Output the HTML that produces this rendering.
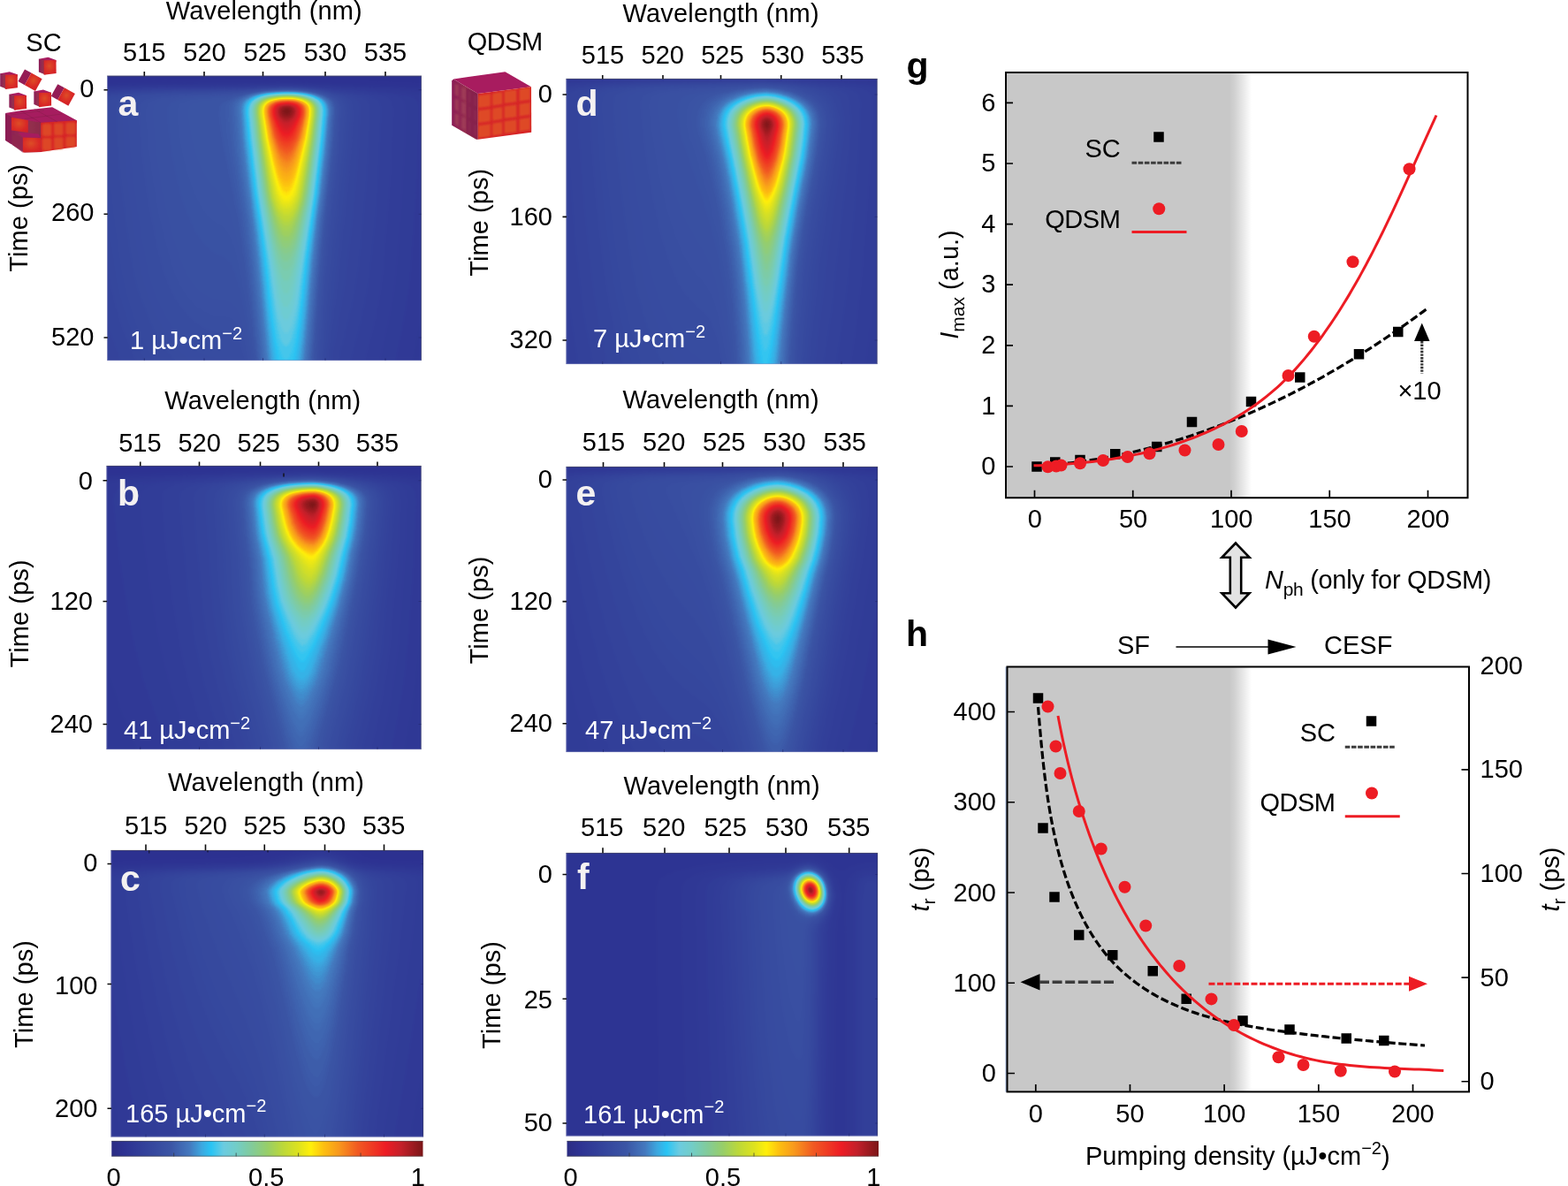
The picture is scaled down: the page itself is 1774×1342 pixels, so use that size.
<!DOCTYPE html>
<html lang="en"><head><meta charset="utf-8"><title>Figure</title>
<style>html,body{margin:0;padding:0;background:#fff}svg{display:block;font-family:"Liberation Sans",sans-serif;font-size:29px}</style></head>
<body><svg width="1774" height="1342" viewBox="0 0 1774 1342">
<defs><filter id="cm" x="0" y="0" width="1" height="1" color-interpolation-filters="sRGB"><feGaussianBlur stdDeviation="1.6"/><feComponentTransfer><feFuncR type="table" tableValues="0.169 0.17 0.171 0.173 0.174 0.175 0.177 0.18 0.183 0.186 0.189 0.192 0.195 0.198 0.201 0.204 0.207 0.21 0.213 0.216 0.219 0.222 0.225 0.227 0.23 0.234 0.239 0.244 0.248 0.253 0.257 0.262 0.267 0.261 0.254 0.248 0.242 0.236 0.22 0.202 0.184 0.167 0.192 0.241 0.289 0.337 0.385 0.421 0.427 0.434 0.44 0.446 0.454 0.464 0.473 0.482 0.491 0.501 0.51 0.524 0.537 0.551 0.565 0.578 0.592 0.614 0.636 0.658 0.679 0.701 0.723 0.745 0.766 0.787 0.808 0.829 0.85 0.872 0.898 0.924 0.95 0.976 1 0.998 0.996 0.995 0.993 0.99 0.988 0.985 0.982 0.979 0.976 0.973 0.97 0.966 0.962 0.959 0.955 0.951 0.948 0.945 0.943 0.942 0.941 0.939 0.938 0.936 0.935 0.934 0.932 0.931 0.929 0.908 0.887 0.866 0.844 0.823 0.802 0.78 0.753 0.72 0.686 0.652 0.618 0.584 0.55 0.516 0.482"/><feFuncG type="table" tableValues="0.173 0.177 0.181 0.185 0.189 0.193 0.198 0.205 0.213 0.22 0.227 0.235 0.242 0.25 0.257 0.264 0.272 0.279 0.287 0.294 0.301 0.309 0.316 0.324 0.331 0.345 0.363 0.381 0.399 0.417 0.435 0.453 0.471 0.507 0.544 0.581 0.618 0.654 0.682 0.708 0.734 0.76 0.772 0.777 0.782 0.787 0.792 0.797 0.798 0.8 0.802 0.804 0.803 0.802 0.801 0.8 0.798 0.797 0.796 0.798 0.8 0.802 0.804 0.806 0.808 0.814 0.82 0.826 0.831 0.837 0.843 0.849 0.856 0.862 0.868 0.875 0.881 0.888 0.898 0.908 0.918 0.928 0.934 0.893 0.852 0.811 0.769 0.739 0.716 0.693 0.67 0.647 0.623 0.6 0.57 0.538 0.505 0.473 0.441 0.409 0.377 0.347 0.326 0.304 0.282 0.261 0.239 0.218 0.196 0.175 0.153 0.131 0.11 0.112 0.114 0.116 0.118 0.12 0.122 0.124 0.123 0.119 0.114 0.109 0.105 0.1 0.096 0.091 0.086"/><feFuncB type="table" tableValues="0.514 0.524 0.534 0.544 0.555 0.565 0.574 0.578 0.582 0.586 0.59 0.594 0.598 0.602 0.606 0.61 0.614 0.618 0.622 0.626 0.63 0.634 0.638 0.642 0.646 0.656 0.669 0.681 0.694 0.707 0.72 0.732 0.745 0.771 0.797 0.823 0.849 0.875 0.895 0.913 0.932 0.95 0.947 0.933 0.918 0.904 0.889 0.873 0.852 0.831 0.81 0.789 0.763 0.736 0.71 0.683 0.657 0.63 0.603 0.571 0.54 0.508 0.476 0.444 0.412 0.383 0.355 0.327 0.299 0.27 0.242 0.218 0.201 0.185 0.168 0.151 0.135 0.118 0.102 0.086 0.07 0.054 0.04 0.045 0.05 0.055 0.061 0.067 0.075 0.082 0.09 0.097 0.105 0.112 0.116 0.118 0.121 0.124 0.126 0.129 0.131 0.134 0.134 0.135 0.136 0.136 0.137 0.138 0.138 0.139 0.14 0.14 0.141 0.144 0.147 0.151 0.154 0.157 0.16 0.163 0.161 0.153 0.144 0.136 0.128 0.119 0.111 0.102 0.094"/><feFuncA type="linear" slope="0" intercept="1"/></feComponentTransfer></filter>
<linearGradient id="cb"><stop offset="0" stop-color="#2b2c83"/><stop offset="0.04" stop-color="#2d3292"/><stop offset="0.19" stop-color="#3b55a5"/><stop offset="0.25" stop-color="#4478be"/><stop offset="0.29" stop-color="#3ca8e0"/><stop offset="0.32" stop-color="#29c4f4"/><stop offset="0.36" stop-color="#6bcbe0"/><stop offset="0.4" stop-color="#72cdc8"/><stop offset="0.45" stop-color="#82cb9a"/><stop offset="0.5" stop-color="#97ce69"/><stop offset="0.55" stop-color="#bcd839"/><stop offset="0.6" stop-color="#dde21f"/><stop offset="0.64" stop-color="#ffef0a"/><stop offset="0.68" stop-color="#fdc010"/><stop offset="0.73" stop-color="#f8981d"/><stop offset="0.79" stop-color="#f15a22"/><stop offset="0.88" stop-color="#ed1c24"/><stop offset="0.93" stop-color="#c4202a"/><stop offset="1" stop-color="#7b1618"/></linearGradient>
<linearGradient id="gr" gradientUnits="userSpaceOnUse" x1="1391" y1="0" x2="1416" y2="0"><stop offset="0" stop-color="#c8c8c8"/><stop offset="0.25" stop-color="#d2d2d2"/><stop offset="1" stop-color="#fff"/></linearGradient>
<radialGradient id="cf" cx="0.45" cy="0.4" r="0.75"><stop offset="0" stop-color="#dd4d28"/><stop offset="0.6" stop-color="#d92a26"/><stop offset="1" stop-color="#d01f2a"/></radialGradient>
<linearGradient id="cs" x1="0" y1="0" x2="1" y2="0"><stop offset="0" stop-color="#8a1b55"/><stop offset="0.55" stop-color="#96304f"/><stop offset="1" stop-color="#8c2a4a"/></linearGradient>
<filter id="bl" x="-20%" y="-20%" width="140%" height="140%"><feGaussianBlur stdDeviation="0.6"/></filter>
<filter id="bl2" x="-20%" y="-20%" width="140%" height="140%"><feGaussianBlur stdDeviation="1.2"/></filter>
<clipPath id="kpa"><rect x="121.25" y="85.75" width="355.5" height="322.25"/></clipPath>
<clipPath id="kpb"><rect x="120.5" y="527" width="356" height="321"/></clipPath>
<clipPath id="kpc"><rect x="125.5" y="962" width="353.5" height="324.5"/></clipPath>
<clipPath id="kpd"><rect x="640.5" y="89" width="352" height="323"/></clipPath>
<clipPath id="kpe"><rect x="640.5" y="528" width="352.5" height="323"/></clipPath>
<clipPath id="kpf"><rect x="640.5" y="965" width="352.5" height="320.5"/></clipPath></defs>
<rect width="1774" height="1342" fill="#fff"/>
<g clip-path="url(#kpa)"><g filter="url(#cm)"><rect x="113.25" y="77.75" width="371.5" height="338.25" fill="#0a0a0a"/><g transform="scale(.5)">
<path fill="#0c0c0c" d="M348 176l144-2 162 1 154 4 162 6 0 649 -744 0 0-656z"/>
<path fill="#0c0c0c" d="M344 182l132-2 184 1 190 5 120 5 0 643 -744 0 0-650z"/>
<path fill="#0e0e0e" d="M307 185l141-1 216 0 196 6 110 5 0 639 -744 0 0-647z"/>
<path fill="#0e0e0e" d="M330 188l122-2 216 0 190 7 112 6 0 635 -744 0 0-644z"/>
<path fill="#101010" d="M589 188l53-1 54 1 184 8 90 6 0 632 -744 0 0-642 158-3z"/>
<path fill="#101010" d="M500 190l128-2 52 1 198 9 92 7 0 629 -744 0 0-640 134-3z"/>
<path fill="#121212" d="M394 192l230-2 54 0 204 10 48 4 40 4 0 626 -744 0 0-639z"/>
<path fill="#121212" d="M574 192l68-2 62 2 186 11 49 5 31 4 0 534 -13 68 -1 20 -730 0 0-637 152-4z"/>
<path fill="#141414" d="M618 192l72 0 184 12 58 6 21 4 17 5 0 351 -11 110 -10 62 -14 72 0 20 -709 0 0-636 136-4 182-1z"/>
<path fill="#141414" d="M570 194l58-2 52 1 195 13 36 4 30 6 15 6 4 4 3 4 2 8 1 14 -2 98 -6 118 -10 136 -4 40 -5 42 -10 60 -14 68 0 20 -689 0 0-635 146-4z"/>
<path fill="#161616" d="M597 194l47-1 48 1 183 14 30 4 18 4 15 6 5 4 3 4 2 8 1 16 -3 100 -6 116 -10 136 -4 40 -6 42 -10 59 -14 67 -1 20 -669 0 0-634 132-4 182-1z"/>
<path fill="#161616" d="M634 194l64 1 135 11 40 4 25 4 15 4 12 6 3 4 3 4 2 10 0 16 -3 108 -7 110 -10 130 -4 40 -6 42 -11 60 -14 66 -1 20 -651 0 0-632 126-4 190-2z"/>
<path fill="#181818" d="M581 195l51-1 50 1 162 13 30 4 23 6 12 6 4 4 2 4 2 10 1 16 -4 110 -7 112 -10 128 -4 40 -7 42 -11 58 -15 65 -1 21 -633 0 0-631 130-5 180-1z"/>
<path fill="#181818" d="M597 196l47-1 48 1 146 13 27 5 16 4 13 6 4 4 3 4 2 10 0 16 -4 110 -7 112 -10 128 -5 40 -7 42 -11 58 -16 66 -1 20 -616 0 0-630 126-5 186-1z"/>
<path fill="#1a1a1a" d="M615 196l41-1 40 2 141 15 22 4 13 4 10 6 3 4 2 4 2 10 0 20 -4 114 -8 108 -10 124 -5 40 -7 42 -12 58 -17 64 -1 20 -599 0 0-629 120-5 192-2z"/>
<path fill="#1a1a1a" d="M579 197l53-1 52 1 40 3 82 10 28 4 24 6 10 6 3 4 2 4 2 10 0 20 -4 114 -8 108 -11 124 -5 40 -7 42 -13 58 -17 64 -1 20 -583 0 0-627 59-3 65-3 182-2z"/>
<path fill="#1c1c1c" d="M591 198l45-2 48 1 40 4 69 9 29 4 22 6 10 6 4 4 2 4 2 10 0 20 -5 114 -7 108 -12 124 -6 40 -7 40 -13 58 -18 66 -1 20 -567 0 0-626 54-3 64-3 78-1 112-1z"/>
<path fill="#1c1c1c" d="M601 198l47-1 44 1 38 4 52 8 34 6 14 4 11 6 4 4 3 6 1 12 0 24 -5 114 -8 106 -12 118 -7 46 -9 46 -11 46 -18 66 -1 20 -552 0 1-624 53-4 58-3 80-1 116-1z"/>
<path fill="#1e1e1e" d="M613 198l41-1 38 2 36 3 46 8 30 6 18 6 9 6 2 4 3 6 1 14 -1 30 -5 104 -8 102 -12 118 -6 40 -8 42 -30 126 -1 20 -526 0 0-14 -1-6 -9-26 -4-9 0-568 46-3 64-4 80-2 118-1z"/>
<path fill="#1e1e1e" d="M632 198l40 0 34 2 34 5 37 7 24 6 10 4 8 6 3 4 2 6 1 12 -1 28 -4 96 -9 98 -12 118 -4 38 -7 40 -30 143 0 23 -502 0 0-14 -1-6 -29-87 0-514 44-4 62-4 82-2 120-1z"/>
<path fill="#202020" d="M591 200l37-2 42 0 34 3 32 4 35 7 26 8 10 6 3 4 3 6 1 8 0 16 -3 78 -6 78 -10 104 -13 112 -30 174 -1 12 0 16 -478 0 0-14 -1-6 -13-36 -11-32 -22-77 0-454 48-5 58-4 82-2 118-1z"/>
<path fill="#202020" d="M598 200l36-2 40 1 32 2 34 5 33 8 16 6 7 4 4 4 2 4 2 6 2 20 -3 58 -3 52 -6 66 -20 188 -27 188 -1 24 -456 0 0-14 -1-6 -24-62 -10-32 -8-30 -10-44 -11-62 0-366 20-3 26-3 58-4 80-3 122-2z"/>
<path fill="#222222" d="M606 200l38-1 38 1 30 2 28 5 28 7 15 6 6 4 4 4 2 4 2 6 1 18 -1 46 -6 78 -26 248 -23 182 -1 24 -433 0 0-14 -1-6 -14-32 -11-28 -10-30 -10-31 -11-47 -8-48 -17-128 0-247 11-3 19-4 28-4 32-2 86-4 130-2z"/>
<path fill="#232323" d="M615 200l35-1 34 1 28 3 30 5 21 6 15 6 6 4 3 4 5 10 1 10 0 16 -3 50 -3 46 -29 286 -20 164 0 24 -411 0 0-14 -1-6 -15-30 -11-26 -11-28 -9-28 -12-42 -9-44 -15-112 -11-106 -7-84 0-79 5-5 5-4 14-6 20-4 32-4 86-5 144-2z"/>
<path fill="#242424" d="M626 200l36 0 28 1 30 3 26 6 19 6 12 6 7 8 3 10 1 18 -2 44 -4 56 -15 138 -15 162 -16 141 -1 17 0 18 -388 0 0-19 -17-30 -12-25 -11-26 -10-28 -13-44 -10-44 -16-112 -12-110 -5-60 -3-58 0-28 2-14 2-4 4-4 11-6 16-4 31-5 42-3 46-2 138-2z"/>
<path fill="#242424" d="M593 202l35-2 40 0 32 2 28 4 24 6 18 8 5 4 4 4 4 10 1 10 0 14 -5 82 -17 156 -30 310 0 24 -362 0 0-14 -1-4 -19-30 -12-22 -12-26 -12-28 -14-44 -11-46 -17-112 -13-110 -5-62 -3-58 -1-28 1-8 1-6 2-4 4-4 13-6 16-4 31-4 78-5 132-2z"/>
<path fill="#262626" d="M599 202l33-2 38 0 30 3 28 4 22 5 17 8 5 4 4 4 4 10 1 10 0 14 -5 82 -22 201 -24 259 -1 30 -333 0 0-14 -2-4 -20-27 -13-21 -15-26 -12-26 -16-44 -8-24 -6-24 -7-38 -10-68 -14-110 -5-58 -4-56 -1-40 1-16 5-8 10-6 13-4 28-5 40-3 40-2 130-3z"/>
<path fill="#272727" d="M604 202l34-2 36 1 32 3 26 4 20 6 15 8 7 8 3 10 1 22 -5 76 -23 216 -22 254 -1 26 -298 0 0-14 -2-4 -21-21 -16-19 -16-22 -16-28 -10-20 -10-24 -8-24 -8-26 -7-30 -11-64 -9-60 -7-56 -6-56 -4-56 -3-50 1-20 3-6 3-4 10-6 15-4 26-4 69-5 124-3z"/>
<path fill="#282828" d="M610 202l30-1 34 0 30 3 26 4 20 6 14 8 7 8 4 10 0 22 -4 70 -6 60 -12 104 -7 72 -20 240 -1 26 -198 0 -1-14 -1-2 -3-2 -8-2 -24-2 -16-3 -18-7 -18-11 -21-17 -19-22 -20-28 -16-30 -13-30 -11-33 -6-27 -11-56 -16-102 -11-98 -4-50 -2-42 1-16 4-8 9-6 11-4 19-4 19-2 65-4 110-3z"/>
<path fill="#282828" d="M616 202l32-1 32 1 26 3 24 4 18 5 14 8 7 8 3 10 1 20 -4 66 -25 237 -20 245 -1 26 -174 0 -1-14 -2-8 -8-16 -8-8 -6-3 -6-2 -30-2 -18-5 -20-9 -20-14 -18-18 -18-24 -16-27 -14-31 -9-25 -7-26 -12-57 -10-57 -13-88 -9-87 -2-63 1-10 4-8 9-6 12-4 20-4 20-2 56-4 98-2 70-7z"/>
<path fill="#2a2a2a" d="M624 202l30-1 30 2 28 3 20 4 17 6 10 6 8 8 3 10 1 20 -4 62 -5 60 -13 114 -7 64 -20 246 -1 28 -165 0 0-18 -6-21 -8-21 -4-7 -6-8 -6-4 -6-2 -34-4 -20-6 -10-5 -10-7 -10-7 -10-10 -16-19 -14-21 -12-24 -11-28 -9-30 -13-58 -10-51 -9-50 -10-83 -6-82 -1-16 1-10 2-6 6-6 7-4 13-4 32-5 55-4 91-2 66-7z"/>
<path fill="#2b2b2b" d="M641 202l29 0 26 2 20 3 20 5 15 6 9 6 6 8 3 10 0 20 -4 60 -7 78 -12 96 -8 85 -18 227 -1 26 -158 0 -1-21 -8-37 -8-26 -4-9 -6-10 -6-6 -8-5 -8-2 -24-2 -12-4 -16-7 -14-9 -14-14 -15-18 -13-22 -10-22 -10-32 -14-52 -12-50 -9-50 -8-52 -6-52 -5-56 0-30 3-10 6-6 14-6 21-4 46-4 98-4 76-8z"/>
<path fill="#2c2c2c" d="M600 204l33-2 35 0 28 2 26 5 18 5 14 7 6 5 3 4 4 10 0 20 -3 60 -8 82 -12 95 -8 85 -18 224 -1 28 -152 0 -1-22 -6-34 -6-28 -10-34 -4-9 -6-11 -6-7 -8-5 -6-2 -20-3 -12-3 -12-5 -10-6 -12-10 -10-12 -9-13 -9-15 -14-35 -16-51 -12-49 -12-54 -11-76 -7-74 -1-30 2-8 5-6 7-4 9-4 27-4 41-4 80-2z"/>
<path fill="#2c2c2c" d="M604 204l30-2 36 1 28 2 24 4 18 5 14 8 7 8 4 10 1 20 -4 60 -8 84 -11 96 -9 84 -18 225 0 25 -147 0 -1-24 -12-67 -10-44 -10-30 -8-15 -4-5 -6-5 -8-4 -28-7 -9-5 -9-6 -12-13 -11-18 -19-37 -18-49 -15-55 -13-60 -9-64 -6-62 0-14 1-8 3-6 4-4 8-4 6-2 21-5 36-3 76-3 60-9z"/>
<path fill="#2e2e2e" d="M608 204l30-2 32 1 26 2 24 4 18 5 14 8 8 8 3 10 1 20 -3 56 -5 56 -15 122 -7 72 -19 242 -1 26 -142 0 -2-25 -14-91 -12-58 -12-41 -8-18 -8-12 -8-7 -24-11 -14-10 -8-8 -8-10 -14-23 -16-36 -13-39 -12-45 -9-48 -7-52 -4-44 1-10 1-6 3-4 5-4 13-6 18-3 28-3 64-3 64-10z"/>
<path fill="#2f2f2f" d="M613 204l27-1 32 0 28 3 22 4 18 6 11 6 7 8 4 10 1 18 -4 58 -5 60 -14 118 -8 76 -18 238 -1 26 -139 0 0-18 -4-29 -16-106 -16-84 -10-39 -8-21 -10-16 -8-8 -20-13 -12-10 -12-15 -12-21 -12-27 -11-33 -9-36 -8-40 -5-42 -1-26 1-7 1-4 3-3 6-4 12-4 11-3 74-6 64-11z"/>
<path fill="#303030" d="M618 204l30-1 30 1 24 2 22 5 16 5 12 8 6 8 3 10 0 18 -3 58 -9 84 -11 94 -8 79 -18 231 -1 28 -134 0 -1-20 -4-31 -20-143 -12-73 -14-63 -8-25 -12-26 -10-14 -26-31 -10-16 -7-14 -8-20 -7-23 -6-25 -5-28 -2-24 1-12 1-4 3-4 8-6 10-2 12-2 44-6 68-14 24-3z"/>
<path fill="#303030" d="M624 204l28-1 28 1 24 3 20 4 16 6 10 7 7 8 3 10 0 20 -4 58 -11 108 -9 70 -8 83 -17 229 -1 24 -131 0 -1-18 -2-19 -22-173 -10-68 -12-67 -10-40 -12-43 -12-36 -25-64 -7-24 -4-20 0-10 2-8 7-6 9-4 46-14 32-8 32-6z"/>
<path fill="#323232" d="M632 204l28 0 24 1 24 3 18 4 14 5 9 7 6 8 3 10 1 18 -4 56 -12 116 -8 66 -8 90 -18 222 -1 24 -127 0 -1-20 -6-53 -18-149 -8-59 -10-64 -30-149 -9-54 -3-26 1-14 3-8 3-4 6-4 11-6 11-4 29-8 34-6z"/>
<path fill="#333333" d="M602 206l30-2 34 0 28 2 22 4 18 6 11 6 8 8 3 6 1 6 1 18 -4 58 -12 118 -8 59 -8 79 -18 234 -1 26 -124 0 -1-18 -2-19 -24-211 -13-96 -27-156 -5-34 -3-50 1-10 4-6 6-6 11-6 17-6 16-4z"/>
<path fill="#343434" d="M605 206l29-2 34 0 26 3 22 3 17 6 11 6 8 8 3 6 1 6 0 18 -3 56 -12 114 -8 70 -9 81 -17 229 -1 24 -121 0 -3-36 -24-219 -12-89 -16-100 -8-54 -4-34 -4-52 2-10 2-6 6-6 10-6 16-6 15-4 19-4z"/>
<path fill="#343434" d="M608 206l28-2 32 1 26 2 22 4 16 5 13 8 7 8 3 10 0 18 -3 56 -12 118 -8 64 -9 90 -18 222 -1 24 -118 0 -1-32 -23-210 -12-95 -15-95 -9-66 -4-34 -3-52 1-8 3-8 5-6 9-6 13-6 17-4 19-4z"/>
<path fill="#363636" d="M612 206l26-2 32 1 24 2 22 4 16 6 12 7 7 8 3 10 0 18 -3 54 -8 74 -13 109 -8 79 -18 232 -1 26 -115 0 -2-30 -22-214 -12-97 -9-57 -13-98 -4-36 -3-54 1-8 3-8 6-6 11-6 12-5 16-4 18-3z"/>
<path fill="#373737" d="M615 205l27 0 30 0 24 3 20 4 16 5 11 7 7 8 3 10 0 18 -3 56 -13 118 -8 66 -9 85 -17 225 -1 24 -112 0 -2-26 -22-219 -11-97 -9-58 -13-90 -4-38 -3-58 1-10 3-6 6-6 10-6 14-6 16-4 20-3z"/>
<path fill="#383838" d="M619 206l27-1 28 1 24 2 18 4 16 6 10 6 7 8 3 10 0 18 -3 54 -13 124 -8 60 -8 86 -18 226 -1 24 -110 0 -1-24 -22-220 -11-96 -9-60 -13-92 -3-38 -4-56 1-9 4-7 5-6 10-6 14-6 16-4 20-3z"/>
<path fill="#383838" d="M624 206l28-1 26 1 22 3 18 4 14 5 11 8 6 8 2 10 0 20 -5 74 -11 98 -8 64 -10 98 -17 212 -1 24 -106 0 -1-24 -22-218 -11-98 -9-60 -12-92 -4-38 -3-56 1-8 3-8 5-6 10-6 14-6 16-4 22-3z"/>
<path fill="#3a3a3a" d="M629 206l27-1 24 2 20 2 19 5 13 5 10 7 6 8 2 10 0 20 -5 70 -11 106 -8 58 -10 96 -17 216 -1 24 -104 0 -1-27 -23-230 -9-84 -9-59 -13-96 -3-32 -3-50 0-14 4-10 5-6 6-4 9-4 11-4 28-6z"/>
<path fill="#3b3b3b" d="M639 206l25 0 22 1 20 4 16 4 12 5 8 7 5 7 3 10 -1 20 -5 74 -11 100 -8 62 -10 100 -17 210 -1 24 -101 0 -2-25 -22-228 -10-85 -13-92 -10-88 -4-52 0-16 2-12 5-8 5-4 7-5 22-7 30-5z"/>
<path fill="#3c3c3c" d="M606 208l26-2 32 0 26 2 20 4 16 5 12 7 7 8 3 10 1 18 -4 54 -12 114 -9 68 -9 94 -18 222 -1 22 -99 0 -1-24 -21-224 -11-86 -9-62 -12-94 -3-38 -4-56 1-10 2-6 5-6 8-6 8-5 14-4z"/>
<path fill="#3c3c3c" d="M609 208l25-2 32 0 24 2 20 4 16 5 11 7 7 8 4 9 0 19 -4 56 -12 118 -8 62 -10 86 -18 228 -1 24 -97 0 -1-24 -21-219 -10-93 -9-58 -12-94 -4-38 -3-58 1-10 2-6 4-6 8-6 9-5 14-4z"/>
<path fill="#3e3e3e" d="M612 208l26-2 30 1 24 2 20 4 16 6 10 7 6 8 3 10 0 18 -6 74 -11 106 -8 56 -10 98 -18 216 -1 22 -93 0 -1-25 -21-212 -11-101 -9-60 -11-88 -4-40 -4-58 1-8 2-8 5-6 8-6 9-5 14-4 14-3z"/>
<path fill="#3f3f3f" d="M614 208l26-2 28 1 24 2 20 4 14 5 12 8 6 8 2 10 0 20 -6 78 -11 98 -8 60 -10 100 -18 212 -1 22 -91 0 -1-22 -21-218 -11-95 -8-61 -12-96 -4-36 -3-56 1-10 2-6 4-6 8-6 10-5 14-4 16-3z"/>
<path fill="#404040" d="M617 208l25-1 28 0 24 3 18 4 14 5 11 7 6 8 3 10 -1 20 -6 74 -11 104 -8 56 -10 98 -18 216 -1 22 -88 0 -2-22 -21-221 -10-93 -9-56 -11-96 -4-38 -4-58 1-10 2-6 4-6 8-6 11-6 14-4 18-3z"/>
<path fill="#404040" d="M620 208l26-1 28 1 22 2 16 4 14 5 10 7 6 8 3 10 0 20 -7 80 -11 98 -7 58 -11 100 -18 212 -1 22 -86 0 -1-22 -21-214 -11-102 -9-58 -11-88 -4-42 -4-58 1-8 2-8 5-6 8-6 11-6 14-4 18-3z"/>
<path fill="#424242" d="M624 208l24-1 26 1 20 2 18 4 14 6 9 6 6 8 3 10 0 18 -4 54 -13 120 -8 62 -10 92 -19 222 -1 22 -84 0 -1-22 -22-225 -10-89 -10-72 -13-106 -5-68 1-13 4-7 3-4 6-6 16-6 22-6z"/>
<path fill="#424242" d="M628 208l24-1 24 1 20 3 16 3 13 6 9 6 7 8 2 10 0 18 -4 54 -13 122 -8 58 -10 89 -19 227 -2 22 -80 0 -2-22 -22-228 -10-91 -9-61 -14-118 -5-64 2-13 4-7 10-8 17-7 22-5z"/>
<path fill="#444444" d="M634 208l24 0 22 1 20 3 16 4 12 6 8 6 5 8 2 10 0 18 -7 82 -11 92 -8 60 -11 98 -9 116 -10 100 -1 22 -78 0 -1-22 -23-228 -10-86 -10-72 -14-118 -3-58 1-12 4-8 10-8 9-5 9-3 24-4z"/>
<path fill="#444444" d="M608 210l24-2 30 0 24 2 20 3 16 6 11 7 6 8 3 10 0 18 -4 54 -13 120 -9 61 -10 89 -11 132 -9 95 -1 21 -76 0 -1-22 -10-100 -12-120 -11-94 -8-56 -11-92 -5-42 -3-56 0-10 2-6 3-6 7-6 7-4 11-5 14-3z"/>
<path fill="#464646" d="M610 210l24-2 30 0 24 2 18 4 14 4 12 8 6 8 3 10 0 18 -4 54 -13 122 -8 58 -11 94 -11 128 -9 96 -1 20 -73-1 -2-19 -10-98 -11-120 -12-97 -8-59 -11-86 -5-46 -3-56 0-10 2-6 3-6 7-6 7-5 12-4 14-3z"/>
<path fill="#464646" d="M612 210l24-2 28 0 24 2 18 4 14 5 11 7 7 7 3 11 0 16 -4 54 -14 124 -8 60 -11 90 -11 130 -9 96 -2 20 -70 0 -1-20 -11-100 -11-122 -12-94 -8-56 -11-92 -5-42 -4-56 1-10 2-6 3-6 7-6 8-5 12-4 14-3z"/>
<path fill="#484848" d="M614 210l24-2 28 1 22 2 18 3 15 6 10 6 6 8 3 10 0 18 -4 54 -14 124 -8 55 -10 93 -12 130 -10 96 -1 20 -68 0 -1-20 -10-96 -13-136 -11-84 -9-60 -14-118 -5-66 1-13 3-7 6-9 6-3 8-4 18-5z"/>
<path fill="#484848" d="M616 210l24-2 26 1 22 2 18 4 14 5 10 6 6 8 3 10 0 18 -4 54 -13 124 -9 58 -10 92 -12 130 -10 94 -1 20 -65 0 -2-20 -10-96 -13-128 -11-94 -9-62 -14-120 -5-60 1-12 3-8 6-8 13-8 18-5z"/>
<path fill="#4a4a4a" d="M619 210l23-2 26 1 22 2 18 4 14 6 9 7 6 8 2 10 0 16 -5 56 -13 120 -8 60 -11 90 -11 120 -11 106 -1 20 -63 0 -1-20 -11-96 -13-134 -11-86 -9-60 -15-126 -4-60 1-12 4-8 8-8 12-6 19-6z"/>
<path fill="#4a4a4a" d="M621 210l23-1 26 0 23 3 16 4 13 5 9 7 5 8 2 10 0 16 -4 56 -14 122 -8 56 -11 92 -11 122 -12 104 -1 20 -59 0 -2-20 -12-108 -12-116 -11-94 -9-60 -15-126 -4-58 1-12 4-8 8-8 14-7 18-5z"/>
<path fill="#4d4d4d" d="M624 210l24-1 25 1 19 2 16 4 14 6 8 6 6 8 2 10 0 16 -5 56 -14 122 -8 58 -11 88 -12 129 -11 99 -1 20 -57 0 -1-20 -13-106 -12-122 -11-88 -9-60 -15-132 -4-56 1-10 3-8 9-8 13-7 20-5z"/>
<path fill="#505050" d="M646 210l22 0 18 2 16 3 12 4 10 6 7 7 4 8 1 8 0 14 -4 46 -6 56 -9 78 -8 56 -11 86 -14 134 -6 50 -6 48 -2 18 -45 0 -2-18 -13-96 -14-138 -11-86 -9-56 -9-74 -6-54 -4-54 0-14 2-8 6-8 8-6 13-6 16-3 20-3z"/>
<path fill="#545454" d="M617 212l23-2 26 1 20 2 18 4 13 5 9 6 5 8 3 10 0 16 -5 50 -14 126 -9 57 -12 93 -16 147 -6 40 -7 41 -3 18 -29 0 -3-18 -8-44 -8-52 -14-130 -12-94 -9-52 -9-80 -6-52 -5-50 0-14 1-8 3-6 4-6 9-6 10-4 14-4z"/>
<path fill="#575757" d="M624 212l24-1 24 1 18 2 16 4 12 6 8 6 4 8 2 10 0 14 -5 50 -14 122 -22 154 -11 102 -6 41 -8 44 -6 21 -4 10 -4 6 -4 3 -2 0 -2-1 -4-4 -4-9 -4-11 -6-25 -6-35 -5-40 -12-104 -13-90 -9-60 -15-122 -5-58 0-10 2-8 3-6 6-6 8-5 12-4 16-4z"/>
<path fill="#5b5b5b" d="M636 212l22 0 20 1 16 3 14 4 11 6 6 6 4 8 1 10 -4 62 -15 126 -23 152 -15 122 -7 32 -6 22 -6 13 -4 4 -4 0 -4-2 -2-2 -6-13 -6-23 -6-37 -15-116 -24-154 -15-124 -5-58 1-10 2-8 4-6 8-6 10-5 14-4 16-2z"/>
<path fill="#5e5e5e" d="M617 214l21-2 26 0 20 2 16 4 14 5 8 7 5 8 2 10 -1 14 -4 50 -15 128 -25 156 -12 92 -6 27 -6 22 -6 12 -2 3 -4 2 -4-1 -2-1 -5-11 -7-19 -6-30 -14-102 -24-150 -15-124 -5-56 0-12 1-8 2-6 6-7 5-4 10-4 12-3z"/>
<path fill="#626262" d="M623 214l19-2 24 1 18 2 16 4 12 5 8 6 5 8 2 10 0 14 -5 50 -16 130 -26 158 -10 62 -4 26 -6 20 -6 12 -2 3 -4 2 -4-1 -2-1 -6-11 -5-18 -5-22 -11-74 -26-154 -16-130 -5-56 -1-10 2-8 2-6 6-6 7-5 10-4 14-3z"/>
<path fill="#666666" d="M631 214l21-1 20 1 16 2 14 4 11 6 7 6 4 8 1 8 0 14 -5 50 -18 144 -38 206 -4 16 -4 10 -4 6 -4 3 -4-1 -4-4 -4-9 -4-14 -23-125 -18-104 -16-126 -6-58 0-10 2-8 4-7 7-5 8-5 12-3 12-3z"/>
<path fill="#696969" d="M616 216l18-2 24 0 20 1 16 4 14 5 8 6 6 8 2 8 0 16 -5 50 -19 146 -20 101 -16 74 -8 24 -4 7 -4 2 -4-1 -4-4 -6-16 -8-32 -16-77 -17-96 -16-126 -6-54 1-18 2-6 5-6 5-4 8-5 10-3z"/>
<path fill="#6d6d6d" d="M621 216l19-2 22 1 18 1 16 4 12 5 9 7 4 8 1 7 0 15 -5 50 -16 124 -4 24 -17 84 -12 50 -10 31 -4 7 -2 3 -4 2 -4-1 -2-2 -4-6 -4-9 -10-35 -12-53 -17-91 -17-128 -5-52 1-18 2-6 4-6 6-5 10-4 12-3z"/>
<path fill="#707070" d="M627 216l19-1 20 0 16 2 14 4 12 5 7 6 5 8 1 8 0 14 -6 50 -16 124 -4 24 -17 79 -10 38 -6 17 -4 8 -4 6 -6 4 -4-1 -2-1 -4-5 -4-8 -6-16 -10-37 -17-80 -5-28 -15-120 -6-58 -1-10 2-8 3-6 5-6 8-4 11-4z"/>
<path fill="#747474" d="M635 216l19-1 18 1 16 3 12 4 9 5 6 6 3 6 2 10 -1 12 -5 52 -17 122 -4 26 -15 63 -9 36 -7 16 -4 7 -4 5 -6 3 -6-1 -4-5 -4-7 -6-14 -10-35 -14-66 -5-28 -17-122 -6-58 0-10 1-6 3-6 7-6 7-5 12-4 14-2z"/>
<path fill="#777777" d="M619 218l17-2 22 0 18 2 14 2 10 4 10 6 6 8 2 8 0 16 -6 50 -16 122 -5 24 -15 62 -7 27 -7 15 -4 7 -4 4 -6 3 -6-2 -4-4 -4-6 -6-14 -8-26 -15-62 -5-28 -16-118 -6-56 -1-10 1-8 3-6 3-4 5-4 7-5 10-3z"/>
<path fill="#7b7b7b" d="M624 218l18-2 20 1 16 1 14 4 10 4 8 6 5 8 2 8 -1 14 -5 50 -17 122 -5 24 -15 57 -8 24 -8 16 -4 4 -6 2 -6-1 -4-4 -8-14 -8-24 -15-58 -5-26 -17-120 -6-54 0-10 1-8 2-6 3-4 7-6 8-3 12-3z"/>
<path fill="#7e7e7e" d="M629 218l19-1 18 1 16 2 12 3 10 5 7 6 3 6 1 8 0 14 -6 50 -17 120 -4 24 -16 54 -6 17 -8 15 -4 4 -6 2 -6-2 -4-3 -8-14 -8-23 -13-48 -5-24 -17-120 -6-56 0-10 1-8 3-6 4-4 7-5 10-3z"/>
<path fill="#828282" d="M638 218l18-1 16 2 14 2 10 4 9 5 5 5 3 7 1 7 0 13 -6 50 -18 120 -4 22 -10 32 -12 33 -4 8 -4 5 -4 2 -4 2 -6-2 -4-4 -8-13 -12-35 -8-28 -4-22 -17-118 -7-60 0-10 2-6 5-6 5-4 8-4 10-3z"/>
<path fill="#858585" d="M622 220l16-2 20 0 16 2 14 3 10 3 8 6 4 6 3 8 -1 16 -6 48 -22 140 -8 28 -12 30 -4 7 -4 5 -4 3 -4 1 -4-1 -4-2 -4-5 -4-7 -12-30 -7-25 -5-22 -18-118 -6-54 -1-10 1-8 3-6 3-4 6-4 6-4z"/>
<path fill="#898989" d="M626 220l16-2 20 1 14 1 13 4 10 4 7 6 4 6 2 8 -1 14 -6 50 -19 116 -4 21 -8 26 -10 22 -8 12 -4 2 -4 1 -4 0 -4-3 -4-4 -4-7 -10-22 -8-25 -4-21 -18-116 -7-54 0-10 1-8 2-6 4-4 6-4 8-4z"/>
<path fill="#8d8d8d" d="M631 220l15-1 18 0 14 2 12 4 8 3 7 6 4 6 1 7 0 15 -7 50 -19 115 -4 20 -7 23 -9 18 -8 10 -4 3 -4 1 -4-1 -4-2 -8-10 -8-17 -8-23 -4-21 -18-114 -8-56 0-10 1-6 3-6 4-4 5-4 9-4 10-3z"/>
<path fill="#909090" d="M639 220l17-1 14 2 12 2 10 3 8 5 5 5 3 6 1 8 -1 12 -6 50 -20 114 -3 19 -7 19 -8 16 -8 9 -4 2 -4 1 -4-1 -3-2 -9-9 -8-15 -6-18 -4-21 -19-112 -8-60 1-8 1-6 4-6 5-4 8-4 8-3 12-2z"/>
<path fill="#949494" d="M624 222l16-2 18 0 16 2 12 3 10 4 6 5 4 6 2 8 -1 14 -7 50 -16 91 -8 40 -6 18 -6 11 -8 9 -4 2 -4 1 -4-1 -4-2 -8-8 -6-12 -6-17 -8-40 -15-90 -8-54 0-16 3-6 3-4 4-4 7-4z"/>
<path fill="#979797" d="M628 222l14-2 18 1 14 1 12 3 10 5 5 4 4 6 1 8 0 14 -7 50 -17 90 -7 38 -6 16 -7 11 -6 6 -4 2 -4 1 -4-1 -4-1 -6-6 -6-10 -6-17 -8-38 -16-89 -8-56 1-14 2-6 3-4 5-4 7-4z"/>
<path fill="#9b9b9b" d="M633 222l29-1 14 2 10 3 8 4 6 5 3 5 2 8 0 14 -8 50 -17 89 -7 35 -5 13 -6 11 -6 6 -4 2 -4 1 -4-1 -4-2 -6-6 -5-10 -5-12 -8-36 -16-88 -8-58 0-8 1-6 3-6 4-4 12-7z"/>
<path fill="#9e9e9e" d="M641 221l27 2 10 1 10 4 7 4 5 5 3 5 1 8 -1 14 -7 48 -16 77 -8 39 -4 14 -6 10 -6 6 -4 2 -4 1 -4 0 -4-2 -6-7 -4-8 -5-14 -9-40 -15-76 -8-60 0-8 2-7 2-3 5-5 7-3 9-4z"/>
<path fill="#a2a2a2" d="M626 224l12-2 16 0 14 1 12 3 10 3 6 5 5 6 2 6 -1 16 -7 48 -21 95 -6 23 -5 14 -7 8 -6 3 -6 0 -4-2 -2-3 -6-9 -4-13 -10-38 -15-72 -8-56 -1-14 2-6 3-4 4-4 5-4 8-2z"/>
<path fill="#a5a5a5" d="M630 224l12-1 16 0 12 1 12 3 8 3 7 6 3 6 2 6 -1 14 -8 50 -21 90 -6 20 -6 14 -6 7 -6 2 -6-2 -6-7 -4-8 -6-19 -10-40 -11-55 -9-56 0-14 1-4 3-5 5-4 7-3z"/>
<path fill="#a9a9a9" d="M635 224l27 0 10 1 10 3 9 4 5 4 3 6 1 6 0 14 -8 48 -20 81 -6 20 -6 14 -6 8 -6 2 -6-2 -4-5 -6-12 -6-18 -8-30 -12-54 -9-58 0-8 1-6 2-4 4-4 6-4 6-3z"/>
<path fill="#acacac" d="M644 224l24 1 17 5 7 3 4 5 2 6 1 6 -1 14 -8 46 -18 71 -6 19 -6 13 -6 8 -6 2 -6-2 -6-8 -6-13 -6-19 -17-69 -8-48 -1-12 0-6 2-6 3-5 5-3 8-4 8-2z"/>
<path fill="#b0b0b0" d="M628 226l12-2 14 0 14 1 10 3 10 4 5 4 4 6 1 6 -1 14 -9 47 -16 62 -6 18 -6 13 -6 8 -6 2 -6-2 -6-8 -4-8 -6-17 -16-63 -10-54 0-14 3-8 4-4 5-4z"/>
<path fill="#b3b3b3" d="M632 226l12-1 14 0 10 1 10 2 8 4 5 4 4 6 2 6 -1 14 -9 46 -15 54 -6 17 -6 13 -6 7 -6 2 -6-2 -4-4 -6-11 -6-16 -15-56 -10-54 0-14 2-4 3-4 9-6z"/>
<path fill="#b7b7b7" d="M637 226l23 0 10 1 10 3 7 4 5 4 2 4 1 6 0 14 -9 44 -14 48 -6 16 -6 12 -6 7 -6 2 -6-2 -4-5 -6-10 -6-15 -14-48 -10-55 1-12 1-5 4-4 5-3 7-3z"/>
<path fill="#bbbbbb" d="M627 228l11-2 14 0 12 1 10 2 8 3 6 4 4 4 2 6 -1 16 -8 40 -11 37 -6 17 -6 13 -6 8 -6 4 -6-1 -6-5 -4-6 -6-13 -14-44 -10-50 -1-14 1-6 2-4 4-4 5-2z"/>
<path fill="#bebebe" d="M631 228l23-2 12 1 8 2 7 3 6 4 3 4 2 6 1 8 -1 10 -9 42 -5 14 -8 23 -6 14 -6 9 -4 4 -3 1 -7 0 -6-5 -4-6 -6-13 -12-35 -11-52 0-14 4-8 8-6z"/>
<path fill="#c2c2c2" d="M635 228l23-1 10 2 8 2 6 3 5 4 3 4 1 6 -1 16 -9 42 -5 14 -8 20 -6 12 -6 8 -6 3 -6-1 -6-5 -4-5 -6-12 -10-30 -12-52 0-12 1-4 3-4 9-6z"/>
<path fill="#c5c5c5" d="M642 228l20 0 8 2 8 2 6 4 3 4 2 4 1 6 -1 14 -10 40 -4 15 -9 18 -6 10 -6 6 -6 2 -6-2 -6-6 -6-10 -6-14 -7-21 -8-38 -2-10 1-10 2-4 4-4 6-4 6-2z"/>
<path fill="#c9c9c9" d="M631 230l21-2 18 2 8 3 4 3 4 4 2 6 1 8 -1 10 -14 49 -6 14 -5 10 -7 7 -6 3 -6-1 -6-4 -4-5 -6-11 -8-21 -10-43 -1-14 3-8 7-6z"/>
<path fill="#cccccc" d="M635 230l21-1 16 3 6 2 5 4 3 4 1 6 0 8 -1 8 -14 48 -6 12 -6 9 -4 4 -6 2 -6 0 -4-3 -6-6 -6-10 -6-16 -11-44 -1-12 3-8 8-6z"/>
<path fill="#d0d0d0" d="M641 230l19 0 14 3 5 3 4 4 3 8 0 8 -1 8 -11 35 -4 12 -4 7 -6 8 -4 4 -6 3 -6-1 -6-4 -6-7 -4-7 -8-23 -7-27 -1-8 0-10 1-4 3-4 10-6z"/>
<path fill="#d3d3d3" d="M632 232l16-2 18 2 6 2 7 4 4 4 1 4 1 8 -2 10 -13 42 -4 8 -6 7 -4 3 -6 2 -6 0 -4-2 -6-6 -4-6 -6-15 -10-35 -1-12 2-8 6-6z"/>
<path fill="#d7d7d7" d="M636 232l18-1 16 2 5 3 5 4 2 4 1 4 0 8 -1 8 -14 38 -4 8 -4 5 -4 3 -6 3 -6-1 -4-2 -4-4 -4-5 -8-19 -9-30 0-12 1-4 2-4 6-5z"/>
<path fill="#dadada" d="M643 232l15 0 14 4 4 2 3 4 3 8 -2 14 -14 36 -4 7 -4 4 -4 3 -4 1 -6-1 -4-2 -4-3 -4-7 -6-13 -8-23 -2-10 1-10 3-7 5-3 5-2z"/>
<path fill="#dedede" d="M634 234l16-2 14 2 10 4 4 4 2 4 0 8 -1 8 -11 27 -8 14 -4 4 -4 2 -4 0 -4 0 -4-3 -4-4 -8-15 -9-25 -1-10 1-8 5-6z"/>
<path fill="#e2e2e2" d="M639 234l15-1 13 3 7 4 3 4 1 4 0 8 -1 8 -11 23 -8 12 -4 3 -4 1 -4 0 -4-2 -4-3 -4-5 -12-26 -2-9 -1-10 3-6 6-6z"/>
<path fill="#e5e5e5" d="M634 236l14-2 14 1 10 5 4 6 1 10 -4 12 -11 19 -4 5 -6 4 -4 1 -4-1 -6-4 -6-9 -10-21 -1-10 1-8 4-5z"/>
<path fill="#e9e9e9" d="M639 236l11-1 12 1 8 4 3 4 1 3 1 9 -3 10 -12 18 -4 4 -4 2 -4 1 -4-1 -6-5 -10-15 -4-10 -1-10 1-6 6-6z"/>
<path fill="#ececec" d="M635 238l13-2 12 1 7 3 3 2 2 4 1 4 0 6 -4 10 -9 12 -4 4 -4 2 -6 0 -6-3 -8-9 -5-10 -2-8 1-8 2-5z"/>
<path fill="#f0f0f0" d="M641 238l9-1 10 1 7 4 4 6 -1 8 -3 10 -9 9 -6 3 -6 0 -6-2 -8-9 -4-7 -1-9 1-6 3-3 3-2z"/>
<path fill="#f3f3f3" d="M638 240l8-2 10 1 8 3 3 4 2 6 -3 8 -4 7 -6 4 -6 2 -6 0 -6-4 -6-6 -2-7 0-8 2-5z"/>
<path fill="#f7f7f7" d="M638 242l6-2 8 0 6 1 5 3 2 4 1 6 -2 6 -4 4 -6 4 -6 1 -6-1 -5-4 -4-6 -1-8 2-4z"/>
<path fill="#fafafa" d="M640 244l4-2 6 0 6 1 4 2 2 5 0 4 -4 7 -4 3 -6 1 -4-1 -4-2 -4-6 0-4 0-5z"/>
<path fill="#fefefe" d="M644 246l6-1 4 1 3 2 0 2 0 4 -3 4 -6 2 -4-2 -2-1 -1-3 -1-4 2-2z"/>
</g></g></g>
<g clip-path="url(#kpb)"><g filter="url(#cm)"><rect x="112.5" y="519" width="372" height="337" fill="#0a0a0a"/><g transform="scale(.5)">
<path fill="#0c0c0c" d="M620 1050l79 0 82 1 88 4 100 6 0 651 -744 0 0-652z"/>
<path fill="#0c0c0c" d="M556 1058l103-2 94 1 102 4 114 8 0 643 -744 0 0-645z"/>
<path fill="#0e0e0e" d="M656 1060l75 0 78 3 78 4 82 7 0 638 -744 0 0-640 308-10z"/>
<path fill="#0e0e0e" d="M579 1064l108-2 88 2 98 5 96 9 0 634 -744 0 0-636z"/>
<path fill="#101010" d="M585 1066l106-2 88 3 108 6 82 9 0 630 -744 0 0-633z"/>
<path fill="#101010" d="M578 1068l115-2 90 3 106 7 43 4 37 6 0 626 -744 0 0-629z"/>
<path fill="#121212" d="M636 1068l87 0 108 5 84 8 30 4 24 5 0 498 -18 106 -1 18 -725 0 0-626 72-4 154-7z"/>
<path fill="#121212" d="M609 1070l58-1 54 0 54 2 62 4 48 4 38 5 26 6 20 7 0 324 -14 135 -10 70 -12 68 -1 18 -667 0 0-12 -1-6 -17-40 -22-57 0-507 53-4 95-6 120-6z"/>
<path fill="#141414" d="M659 1070l54 0 50 2 74 5 53 5 36 6 20 6 11 6 4 4 3 6 2 8 1 12 -1 44 -6 132 -9 136 -5 56 -7 56 -10 72 -13 68 0 18 -606 0 -1-12 -1-6 -30-72 -23-68 -13-44 -17-67 0-346 54-8 104-7 144-8z"/>
<path fill="#141414" d="M619 1072l62-1 52 0 68 4 64 6 36 5 26 6 10 4 6 4 4 4 4 6 2 8 1 14 -2 66 -6 112 -9 134 -5 56 -7 54 -11 72 -13 68 0 18 -553 0 0-12 -1-6 -32-78 -25-74 -15-52 -12-54 -8-44 -12-72 -18-137 0-69 9-8 15-6 30-6 33-4 57-5 84-5z"/>
<path fill="#161616" d="M656 1072l55 0 46 1 62 5 54 6 25 4 21 6 9 4 5 4 3 4 3 6 2 10 1 14 -3 70 -5 106 -10 138 -5 56 -7 52 -12 70 -13 66 -1 18 -505 0 0-12 -1-6 -30-78 -26-76 -14-54 -12-52 -18-102 -14-100 -9-90 0-16 2-10 5-6 5-4 15-6 30-6 32-4 69-6 72-5 96-5z"/>
<path fill="#161616" d="M618 1074l59-1 52 0 64 4 55 5 38 6 22 6 8 4 6 4 3 4 3 6 3 10 0 14 -2 68 -6 108 -11 142 -6 56 -7 50 -11 68 -14 66 -1 18 -464 0 0-12 -1-6 -30-80 -24-76 -14-54 -11-50 -17-100 -14-98 -9-90 0-18 1-10 4-6 4-4 12-6 23-6 26-4 52-6 57-4z"/>
<path fill="#181818" d="M644 1074l57-1 44 2 58 4 48 5 33 6 18 6 7 4 5 4 3 4 2 6 2 10 1 14 -3 66 -6 104 -11 148 -7 56 -7 50 -12 68 -14 64 -1 18 -427 0 -1-18 -28-78 -23-74 -14-54 -11-52 -16-102 -14-98 -9-90 0-18 2-10 3-6 4-4 11-6 23-6 24-4 50-6 55-4 87-5z"/>
<path fill="#181818" d="M612 1076l59-2 54 0 52 3 56 6 32 5 24 7 7 3 6 4 5 6 3 6 3 10 0 14 -2 64 -7 102 -13 154 -6 58 -7 46 -12 66 -16 66 0 18 -395 0 -1-18 -26-74 -22-74 -13-54 -11-52 -15-94 -13-104 -9-92 -1-18 1-12 2-6 3-4 9-6 17-6 19-4 40-5 46-5z"/>
<path fill="#1a1a1a" d="M631 1076l52-1 46 0 56 4 50 6 29 5 19 6 8 4 5 4 4 6 3 6 2 10 1 14 -3 66 -7 96 -14 160 -7 54 -7 46 -13 66 -15 66 -1 18 -364 0 -1-18 -26-74 -20-70 -13-54 -11-52 -14-92 -14-110 -8-92 -1-18 1-12 2-6 3-4 9-6 16-6 18-4 39-5 46-5z"/>
<path fill="#1a1a1a" d="M652 1076l53-1 38 2 52 4 42 5 27 6 15 6 7 4 4 4 4 6 2 6 2 10 1 14 -3 64 -8 96 -15 162 -7 54 -7 42 -13 68 -16 66 -1 18 -336 0 -1-18 -22-62 -18-60 -12-46 -10-44 -8-40 -6-42 -14-112 -9-86 -5-64 0-14 2-8 6-8 10-6 19-6 22-4 32-4 56-5 62-5z"/>
<path fill="#1c1c1c" d="M691 1076l38 1 44 3 44 4 31 6 20 6 11 6 4 4 4 6 5 12 1 22 -4 66 -8 92 -16 166 -7 50 -8 44 -14 68 -15 62 -1 18 -312 0 -1-18 -25-76 -20-70 -12-50 -10-52 -12-82 -14-132 -7-88 0-16 1-10 3-6 3-4 10-6 19-6 21-4 49-6 66-5 60-4z"/>
<path fill="#1c1c1c" d="M634 1078l51-1 44 0 52 4 44 6 26 6 18 7 6 4 5 6 3 6 2 6 2 10 0 12 -4 64 -8 96 -17 164 -8 52 -6 36 -14 70 -17 68 -1 18 -290 0 -1-18 -20-60 -15-52 -12-46 -10-42 -8-40 -6-42 -12-102 -10-104 -5-66 0-14 2-8 4-8 7-6 15-6 17-4 25-4 40-5 54-4z"/>
<path fill="#1e1e1e" d="M650 1078l53-1 38 1 48 5 38 5 22 6 10 4 7 4 5 4 5 6 5 12 1 10 0 12 -4 66 -9 92 -18 166 -7 48 -6 34 -16 74 -17 68 -1 18 -269 0 -1-18 -28-88 -20-74 -16-76 -6-36 -5-40 -13-136 -5-66 -2-44 0-10 2-8 5-8 9-6 11-4 21-5 35-5 38-4 45-4z"/>
<path fill="#1e1e1e" d="M670 1078l43 0 36 2 46 4 33 6 21 6 8 4 6 4 5 4 4 6 5 12 1 20 -5 66 -9 90 -20 168 -6 46 -6 32 -16 74 -18 72 -1 18 -251 0 -1-18 -23-72 -14-50 -12-46 -10-48 -7-40 -6-42 -14-160 -6-96 0-16 3-10 4-6 9-6 18-6 19-4 35-5 46-4 44-4z"/>
<path fill="#202020" d="M632 1080l47-2 46 1 48 3 40 6 24 6 11 4 7 4 6 4 5 6 4 6 2 6 1 10 1 12 -5 66 -10 92 -21 166 -12 76 -16 74 -19 74 -1 18 -235 0 0-14 -1-6 -26-88 -18-66 -8-34 -9-46 -5-32 -5-38 -16-222 -2-32 2-16 4-8 7-6 14-6 16-4 22-4 31-4z"/>
<path fill="#202020" d="M644 1080l45-1 40 0 46 4 38 6 24 7 16 7 6 5 4 6 5 12 2 8 0 12 -5 66 -11 92 -21 168 -7 46 -6 28 -16 74 -19 74 -1 18 -220 0 -1-14 -1-6 -30-106 -18-72 -14-70 -8-72 -15-222 0-20 1-12 4-8 7-6 14-6 15-4 22-4 35-5z"/>
<path fill="#222222" d="M657 1080l48-1 34 2 42 4 34 6 20 6 15 7 5 4 5 6 3 6 2 8 1 20 -5 64 -11 92 -22 166 -12 72 -16 74 -20 78 -2 18 -206 0 -2-18 -40-150 -17-74 -8-50 -6-66 -13-208 0-16 2-12 5-8 7-6 13-6 15-4 23-4 34-5 38-3z"/>
<path fill="#232323" d="M673 1080l40 0 34 2 40 4 30 6 18 6 14 8 8 10 3 6 2 8 1 18 -5 66 -12 90 -23 168 -11 66 -18 78 -20 78 -1 18 -194 0 -2-20 -45-168 -10-50 -6-32 -7-54 -3-46 -3-72 -8-126 0-16 3-12 5-8 9-6 16-6 17-4 28-4 34-4z"/>
<path fill="#242424" d="M638 1082l45-2 42 1 44 3 34 6 22 6 17 8 5 4 6 6 3 6 3 8 1 8 0 12 -6 66 -11 92 -24 164 -12 66 -17 76 -21 82 -1 18 -183 0 -2-20 -39-148 -9-38 -12-68 -9-72 -4-100 -8-120 0-14 1-10 5-10 6-6 10-6 12-4 17-4 26-4z"/>
<path fill="#242424" d="M647 1082l42-1 38 0 42 4 34 6 22 6 10 5 7 4 4 4 5 6 3 6 3 8 0 18 -5 66 -6 38 -7 52 -25 166 -11 68 -17 72 -21 84 -2 18 -172 0 -2-20 -41-160 -15-72 -7-44 -6-60 -4-88 -8-122 0-14 2-10 3-8 7-8 11-6 12-4 18-4 26-5z"/>
<path fill="#262626" d="M657 1082l46-1 32 1 40 5 29 5 19 6 16 8 9 10 4 6 2 8 0 18 -5 66 -6 38 -7 52 -26 166 -11 66 -17 72 -22 86 -2 18 -161 0 -2-20 -42-164 -17-84 -8-58 -3-38 -3-82 -5-54 -3-66 0-16 2-10 4-8 7-6 10-6 14-5 20-4 26-4z"/>
<path fill="#272727" d="M668 1082l43 0 30 1 36 4 30 7 18 6 14 9 5 5 4 6 4 12 0 18 -6 66 -6 36 -7 52 -33 204 -6 30 -12 52 -26 104 -2 18 -152 0 -1-14 -2-8 -43-170 -12-60 -7-40 -7-66 -3-86 -5-56 -4-64 0-16 3-12 5-8 9-8 12-6 14-4 20-4 26-4 32-3z"/>
<path fill="#282828" d="M687 1082l46 1 48 6 18 3 16 5 11 5 9 6 7 6 4 6 3 8 1 8 -2 36 -4 40 -7 42 -7 52 -36 214 -18 78 -24 96 -2 18 -143 0 -2-20 -43-170 -12-58 -7-38 -6-46 -2-30 -4-84 -5-54 -3-64 0-18 3-12 7-9 10-7 16-6 24-5 30-5 36-3z"/>
<path fill="#282828" d="M646 1084l41-2 38 1 38 4 32 5 22 7 8 4 8 5 9 10 3 6 2 8 0 18 -3 38 -3 30 -6 34 -7 54 -35 204 -6 26 -13 54 -27 104 -1 18 -135 0 -2-21 -43-169 -17-86 -7-56 -3-32 -4-82 -5-54 -4-66 0-12 2-10 3-8 7-8 10-6 9-4 16-5 20-3 24-4z"/>
<path fill="#2a2a2a" d="M653 1084l40-1 34 0 36 4 32 6 21 7 14 8 10 10 3 6 2 8 0 18 -3 38 -3 30 -6 34 -8 56 -36 204 -5 24 -14 56 -26 102 -2 18 -126 0 -3-22 -43-170 -12-62 -7-42 -6-42 -2-28 -4-80 -5-54 -4-66 0-12 2-10 3-8 7-8 10-6 11-5 16-4 22-4z"/>
<path fill="#2b2b2b" d="M661 1084l44-1 28 1 36 4 28 6 20 7 14 9 8 10 3 6 1 8 0 12 -1 26 -6 46 -6 34 -8 56 -36 204 -8 34 -38 148 -2 18 -118 0 -3-22 -44-174 -15-76 -9-68 -3-36 -3-70 -6-54 -4-66 0-14 2-10 5-8 9-8 10-6 12-4 17-4 21-3z"/>
<path fill="#2c2c2c" d="M671 1084l38 0 28 1 32 4 28 6 19 7 13 8 8 10 3 6 1 8 1 12 -2 26 -6 46 -6 34 -8 56 -38 204 -7 32 -39 148 -2 20 -110 0 -2-22 -45-174 -15-80 -11-76 -2-32 -3-62 -6-54 -4-64 0-16 2-10 5-8 9-8 11-6 12-4 18-4 22-4 28-2z"/>
<path fill="#2c2c2c" d="M686 1084l41 1 40 4 32 7 12 5 10 5 6 4 5 6 4 6 3 8 1 14 -3 34 -4 36 -7 38 -8 54 -40 212 -18 74 -27 100 -3 20 -101 0 -3-20 -44-170 -13-64 -6-38 -10-68 -4-84 -7-66 -4-56 0-12 3-12 7-10 10-8 14-6 21-5 26-5 32-3z"/>
<path fill="#2e2e2e" d="M648 1086l39-2 36 1 36 3 28 6 22 7 15 9 9 10 3 6 2 8 0 16 -6 56 -18 110 -40 208 -45 168 -3 20 -93 0 -3-20 -45-174 -16-78 -11-72 -3-34 -3-68 -6-54 -5-64 0-14 2-10 4-8 6-6 8-6 12-5 14-4 18-4z"/>
<path fill="#2f2f2f" d="M655 1086l38-1 32 0 34 4 30 6 20 7 14 8 8 10 3 6 2 8 0 16 -5 56 -19 110 -41 210 -46 166 -3 20 -85 0 -3-20 -46-174 -16-82 -12-78 -2-30 -3-60 -7-56 -5-64 0-14 2-10 5-8 5-6 9-6 13-6 14-4 18-3z"/>
<path fill="#303030" d="M661 1086l38-1 28 1 32 3 30 7 20 7 14 9 8 10 2 6 2 8 -1 16 -5 56 -8 44 -11 66 -42 208 -46 166 -3 20 -78 0 -3-20 -46-174 -18-88 -9-54 -3-28 -5-82 -7-56 -5-62 0-14 3-10 4-8 7-7 10-6 12-5 15-4 19-3z"/>
<path fill="#303030" d="M669 1086l38-1 26 2 32 4 26 6 18 7 12 8 8 10 3 6 1 8 0 16 -6 54 -19 112 -43 208 -47 166 -3 20 -70 0 -3-20 -45-166 -20-94 -12-76 -2-30 -3-60 -7-52 -3-36 -3-34 1-14 2-6 3-6 8-9 8-5 9-4 23-6 30-5z"/>
<path fill="#323232" d="M678 1086l35 0 26 2 32 4 24 7 16 7 11 8 7 10 2 6 1 8 -2 32 -4 36 -9 48 -7 46 -45 216 -6 22 -16 56 -29 100 -3 18 -62 0 -3-18 -46-168 -22-104 -8-48 -3-22 -5-84 -8-58 -5-64 1-16 4-10 4-6 4-4 13-8 18-6 24-5 30-3z"/>
<path fill="#333333" d="M694 1086l31 1 32 3 26 6 20 7 13 7 4 4 5 6 3 6 2 6 0 16 -6 62 -9 44 -7 48 -46 216 -6 22 -17 60 -29 94 -3 18 -53 0 -3-18 -48-168 -21-102 -9-50 -3-24 -5-80 -9-64 -5-58 0-12 3-12 6-10 10-8 15-7 20-5 26-4 30-3z"/>
<path fill="#343434" d="M653 1088l36-2 34 1 34 4 26 5 20 7 14 9 8 10 2 6 2 8 -1 16 -5 54 -9 48 -8 46 -46 216 -6 22 -19 62 -30 94 -3 18 -44 0 -3-16 -12-40 -35-120 -20-92 -14-78 -4-34 -4-66 -7-52 -4-36 -2-32 0-14 3-10 8-10 13-9 20-7 26-5z"/>
<path fill="#343434" d="M658 1088l37-1 30 0 32 4 28 6 18 7 8 5 6 5 7 10 2 6 1 8 -2 32 -4 36 -9 48 -8 48 -47 216 -7 24 -20 66 -30 88 -3 16 -33 0 -4-16 -15-45 -37-125 -18-86 -14-78 -4-34 -3-60 -9-58 -5-62 0-16 3-10 6-8 10-8 15-6 18-5 24-4z"/>
<path fill="#363636" d="M664 1088l37-1 26 1 30 3 28 7 18 7 13 9 7 10 2 6 1 8 -2 34 -4 34 -10 48 -7 48 -49 218 -6 22 -21 66 -18 53 -14 35 -4 16 -21 0 -4-14 -12-32 -13-39 -31-105 -18-84 -14-76 -4-34 -4-60 -8-58 -6-64 1-14 3-10 7-9 10-7 14-6 20-6 24-3z"/>
<path fill="#373737" d="M670 1088l39-1 24 2 30 4 24 6 18 8 11 9 7 10 1 6 1 8 -3 36 -4 32 -9 46 -8 48 -51 222 -23 75 -20 57 -14 32 -8 15 -4 4 -2 0 -2-3 -10-18 -12-28 -20-61 -19-61 -5-22 -17-80 -14-74 -4-32 -4-60 -9-58 -5-66 1-14 4-10 6-8 12-8 16-6 20-4 24-4z"/>
<path fill="#383838" d="M677 1088l34 0 26 1 28 5 24 6 16 8 6 4 6 6 5 10 2 14 -3 38 -4 30 -9 44 -8 48 -52 222 -25 78 -20 53 -12 25 -6 8 -4 2 -4-1 -6-7 -6-11 -8-19 -19-54 -18-60 -6-22 -18-82 -14-74 -4-32 -4-60 -9-60 -6-66 1-12 4-10 7-8 13-8 17-6 22-5 26-3z"/>
<path fill="#383838" d="M688 1088l29 0 28 3 26 5 20 6 16 8 8 8 6 10 2 14 -3 36 -4 30 -10 46 -8 50 -52 218 -6 20 -17 51 -18 47 -8 18 -6 11 -6 8 -4 2 -4-2 -6-6 -6-11 -8-19 -18-50 -17-53 -6-24 -18-82 -14-74 -4-32 -4-58 -10-60 -5-68 1-12 5-10 8-8 14-7 18-6 22-4 28-4z"/>
<path fill="#3a3a3a" d="M655 1090l34-2 32 1 28 3 28 6 20 7 13 9 8 10 2 6 1 8 -2 36 -5 34 -9 46 -9 50 -52 218 -6 20 -17 48 -16 41 -14 28 -6 7 -4 2 -4-1 -6-7 -6-11 -8-18 -12-32 -17-51 -10-34 -18-82 -14-72 -4-32 -4-60 -10-58 -6-64 0-12 3-10 5-8 10-8 12-6 17-5 20-4z"/>
<path fill="#3b3b3b" d="M659 1090l34-2 30 1 30 4 26 6 18 7 8 5 6 5 7 10 1 6 1 8 -2 34 -4 32 -10 48 -9 48 -15 64 -27 107 -11 49 -7 21 -16 44 -14 35 -14 27 -6 7 -4 2 -4-2 -6-7 -6-10 -8-17 -10-26 -17-50 -9-32 -19-82 -14-72 -4-32 -5-60 -9-58 -7-66 1-12 3-10 7-8 9-7 14-6 16-5 20-3z"/>
<path fill="#3c3c3c" d="M663 1090l34-1 28 1 28 3 26 6 18 8 8 5 5 4 7 10 1 6 1 8 -3 36 -4 32 -10 46 -8 50 -15 60 -28 109 -11 47 -10 30 -15 40 -10 24 -8 16 -6 9 -6 7 -4 2 -4-2 -6-6 -6-10 -8-17 -25-67 -9-32 -19-82 -15-74 -4-32 -4-58 -10-60 -6-64 0-12 4-10 6-8 10-7 14-6 16-5 22-3z"/>
<path fill="#3c3c3c" d="M668 1090l37-1 24 1 30 5 22 5 16 7 12 9 6 10 2 6 1 8 -3 34 -4 34 -10 46 -9 50 -14 60 -29 109 -11 47 -10 28 -23 58 -8 15 -6 10 -6 6 -4 1 -4-1 -6-7 -12-21 -8-20 -16-43 -10-32 -18-82 -16-74 -4-32 -5-58 -10-58 -6-66 1-12 3-10 6-8 11-7 14-6 20-5 22-4z"/>
<path fill="#3e3e3e" d="M674 1090l35-1 24 2 28 4 22 7 16 7 11 9 5 10 2 14 -3 36 -4 30 -10 46 -9 52 -15 60 -29 107 -12 47 -10 30 -22 52 -12 20 -6 6 -4 2 -4-2 -4-4 -10-16 -9-20 -15-38 -10-30 -17-74 -16-70 -4-24 -4-30 -4-54 -10-58 -7-68 1-12 5-10 7-8 10-6 15-6 20-5 22-3z"/>
<path fill="#3f3f3f" d="M680 1090l31 0 24 1 26 5 22 6 16 8 9 8 6 10 2 14 -3 38 -5 30 -9 44 -9 50 -16 62 -29 108 -11 44 -10 28 -21 48 -12 20 -6 6 -4 1 -4-1 -4-4 -8-12 -9-18 -15-38 -9-28 -19-76 -15-68 -4-24 -4-30 -5-54 -10-60 -7-66 1-12 5-10 7-8 12-7 16-6 20-4 26-3z"/>
<path fill="#404040" d="M689 1090l28 0 26 3 24 5 20 6 14 8 8 8 5 10 1 14 -4 36 -4 30 -9 44 -10 52 -16 62 -29 106 -11 44 -11 30 -20 43 -6 10 -6 8 -4 3 -4 1 -4-1 -4-4 -8-12 -8-16 -15-36 -9-26 -19-80 -15-64 -4-24 -3-28 -5-53 -11-61 -4-32 -3-36 2-12 6-10 9-8 11-6 16-5 22-5 26-3z"/>
<path fill="#404040" d="M658 1092l33-2 30 1 26 3 26 6 18 7 8 4 5 5 7 10 2 6 1 8 -3 36 -4 32 -11 46 -9 52 -15 60 -31 108 -11 42 -11 30 -18 38 -6 10 -6 7 -4 4 -4 1 -4-2 -4-4 -8-12 -21-46 -8-24 -20-80 -15-64 -4-24 -4-30 -5-52 -11-58 -6-64 0-12 3-10 6-8 7-6 12-6 16-5 20-4z"/>
<path fill="#424242" d="M661 1092l34-2 28 1 28 4 24 6 17 7 11 8 7 10 2 6 1 8 -3 36 -4 32 -11 46 -9 52 -16 62 -31 106 -11 42 -11 29 -18 35 -10 14 -4 3 -4 1 -6-3 -8-11 -12-23 -10-23 -7-22 -21-84 -14-58 -5-24 -4-30 -4-52 -11-58 -7-66 0-12 4-10 7-8 8-6 12-5 16-5 20-4z"/>
<path fill="#424242" d="M665 1092l32-1 26 0 28 4 24 6 16 7 12 9 6 9 2 6 1 8 -3 38 -4 30 -11 46 -10 52 -16 62 -32 108 -10 38 -9 26 -16 30 -6 10 -6 7 -4 3 -4 1 -6-3 -8-11 -13-25 -10-22 -5-18 -33-132 -5-20 -3-22 -7-74 -12-56 -6-64 1-12 3-10 7-8 9-6 14-6 16-4 18-3z"/>
<path fill="#444444" d="M669 1092l32-1 24 1 26 3 24 7 16 7 6 3 6 6 6 10 2 12 -3 40 -6 36 -9 38 -10 52 -17 64 -47 158 -9 20 -11 19 -10 13 -6 4 -2 0 -4-2 -8-9 -12-20 -10-23 -6-18 -34-132 -4-20 -4-22 -7-76 -12-56 -6-62 1-12 3-10 7-8 9-6 13-5 18-5 20-4z"/>
<path fill="#444444" d="M673 1092l34-1 20 1 26 4 22 6 16 7 11 9 6 10 2 12 -3 40 -5 34 -10 40 -10 52 -16 62 -49 159 -8 18 -10 17 -10 12 -6 3 -6-1 -10-12 -10-17 -8-19 -6-18 -34-132 -5-20 -3-22 -8-73 -12-57 -6-62 1-12 3-10 7-8 10-6 13-6 18-4 20-4z"/>
<path fill="#464646" d="M678 1092l31-1 22 2 26 4 20 6 14 7 10 8 6 10 2 14 -4 40 -5 34 -9 38 -11 54 -16 62 -49 156 -7 16 -9 14 -10 12 -6 3 -6-2 -10-11 -9-14 -8-18 -22-78 -18-72 -8-40 -8-72 -12-60 -6-62 1-12 4-8 7-8 11-7 14-5 18-5 24-3z"/>
<path fill="#464646" d="M685 1092l28 0 22 2 24 4 20 6 14 8 9 8 5 10 1 12 -3 40 -6 34 -9 38 -10 52 -18 64 -49 154 -7 16 -9 14 -8 8 -6 3 -6-2 -8-8 -10-15 -7-16 -22-76 -19-74 -8-40 -7-70 -12-58 -7-64 1-12 4-8 7-8 12-7 16-6 18-4 24-3z"/>
<path fill="#484848" d="M694 1092l23 0 24 3 22 4 19 7 13 8 8 8 4 10 1 12 -5 40 -5 32 -9 38 -11 54 -16 60 -50 154 -7 14 -8 12 -8 9 -6 3 -6-2 -8-8 -8-13 -7-15 -22-74 -20-74 -7-40 -8-70 -10-42 -3-18 -3-30 -3-34 2-12 4-8 8-8 13-7 18-5 20-4 24-3z"/>
<path fill="#484848" d="M661 1094l30-2 28 1 26 3 24 6 18 7 12 9 6 10 2 12 -4 38 -5 36 -10 40 -10 52 -17 60 -51 154 -6 12 -7 11 -8 9 -6 2 -6-2 -8-8 -7-10 -6-14 -22-72 -21-76 -7-38 -8-70 -12-58 -7-62 1-12 2-8 7-8 8-6 12-6 14-4 18-4z"/>
<path fill="#4a4a4a" d="M664 1094l31-2 26 1 26 3 22 6 18 8 11 8 6 10 2 12 -4 40 -5 36 -10 38 -10 52 -17 60 -52 152 -6 12 -7 11 -6 6 -6 2 -6-2 -6-5 -8-12 -5-12 -22-70 -21-76 -8-38 -8-70 -12-58 -7-62 1-12 2-8 7-8 8-6 11-5 16-5 18-4z"/>
<path fill="#4a4a4a" d="M667 1094l30-1 24 0 26 4 22 5 16 7 12 9 6 10 2 12 -3 38 -6 36 -10 40 -10 52 -17 58 -24 72 -29 80 -5 11 -6 9 -6 6 -6 2 -6-2 -6-6 -6-9 -5-11 -22-68 -22-78 -8-38 -8-68 -12-58 -7-62 0-12 3-8 7-8 8-6 12-5 16-5 18-4z"/>
<path fill="#4d4d4d" d="M671 1094l30-1 22 1 24 3 22 6 17 7 10 8 6 10 2 12 -4 40 -5 34 -10 40 -10 52 -17 58 -25 73 -28 76 -5 11 -6 8 -5 5 -6 2 -6-2 -6-6 -5-9 -5-10 -21-64 -23-78 -7-38 -8-68 -13-58 -7-62 0-12 3-8 7-8 8-6 13-6 16-4 18-4z"/>
<path fill="#505050" d="M687 1094l26 0 20 2 22 4 19 6 12 6 9 8 5 10 1 12 -4 40 -5 34 -10 38 -11 52 -16 56 -28 75 -24 57 -10 19 -6 7 -4 1 -6-4 -5-7 -15-34 -14-39 -22-71 -7-36 -8-66 -14-58 -4-28 -3-36 1-12 4-8 8-8 10-6 15-5 18-5 22-2z"/>
<path fill="#545454" d="M668 1096l27-1 24 0 24 3 20 5 16 7 11 8 3 4 4 6 2 12 -4 38 -6 36 -10 40 -12 52 -15 52 -8 22 -17 43 -16 36 -16 29 -6 8 -4 2 -4-1 -6-6 -6-10 -8-16 -13-33 -22-66 -8-36 -9-66 -14-56 -4-28 -4-36 1-10 2-8 6-8 8-6 13-6 14-4 16-3z"/>
<path fill="#575757" d="M680 1096l29-1 18 2 22 3 18 6 13 6 9 8 6 10 1 12 -4 40 -6 34 -10 38 -12 52 -16 52 -11 29 -26 58 -8 14 -8 12 -6 5 -4 2 -4-1 -6-6 -6-9 -6-11 -12-28 -16-43 -5-18 -8-36 -9-62 -11-42 -4-16 -4-28 -4-36 1-10 3-8 7-8 10-6 12-5 16-4 20-3z"/>
<path fill="#5b5b5b" d="M665 1098l26-2 26 0 22 3 20 5 14 6 12 8 3 4 4 6 2 12 -4 40 -6 34 -11 40 -11 50 -14 44 -13 34 -24 50 -14 21 -6 6 -6 2 -4-1 -6-6 -11-18 -21-50 -9-26 -8-34 -9-62 -16-56 -4-26 -4-36 0-10 2-8 5-8 7-6 10-5 14-5 16-4z"/>
<path fill="#5e5e5e" d="M673 1098l26-1 20 0 22 3 20 6 13 6 10 8 5 8 3 12 -4 38 -6 34 -12 42 -12 50 -10 32 -15 40 -20 40 -14 22 -6 6 -6 3 -4-1 -6-5 -10-15 -19-40 -10-26 -8-36 -10-60 -12-40 -4-16 -4-28 -5-36 1-10 3-8 4-6 8-6 11-6 15-4 16-4z"/>
<path fill="#626262" d="M685 1098l26 0 16 1 20 4 16 5 12 6 9 8 4 8 2 12 -5 38 -5 32 -13 42 -11 48 -10 32 -14 36 -15 29 -10 16 -8 11 -6 5 -6 2 -4-1 -4-3 -10-14 -18-33 -10-26 -8-34 -10-58 -13-42 -3-16 -5-28 -4-36 1-10 3-8 6-6 9-6 12-5 16-4 20-3z"/>
<path fill="#666666" d="M669 1100l22-2 24 0 20 3 18 4 14 6 11 7 6 8 2 6 1 6 0 10 -3 26 -6 36 -13 44 -12 46 -7 24 -15 39 -12 24 -8 12 -10 14 -6 5 -6 3 -4-1 -6-4 -12-17 -12-21 -10-24 -8-34 -10-56 -13-40 -4-16 -5-28 -5-34 1-10 2-8 3-6 7-6 10-6 12-4 16-4z"/>
<path fill="#696969" d="M677 1100l24-1 18 0 20 3 18 6 13 6 9 8 5 8 1 10 -4 36 -5 34 -14 44 -10 42 -7 22 -16 40 -10 20 -8 13 -8 10 -6 5 -6 3 -4 0 -6-4 -12-13 -12-20 -8-20 -9-32 -11-58 -13-38 -4-16 -5-28 -5-36 1-10 3-8 5-6 8-6 10-5 14-4 16-3z"/>
<path fill="#6d6d6d" d="M688 1100l23 0 14 1 20 4 15 5 11 6 8 8 3 8 1 10 -4 38 -6 32 -13 42 -11 40 -7 22 -13 34 -12 24 -6 9 -8 9 -6 5 -6 2 -4 0 -6-4 -10-11 -11-18 -8-20 -9-32 -10-50 -14-40 -4-16 -6-30 -4-36 0-8 3-8 7-8 8-5 12-5 14-3 18-3z"/>
<path fill="#707070" d="M671 1102l22-2 22 0 18 3 16 4 14 6 10 7 6 8 2 10 0 10 -3 26 -7 36 -4 16 -10 28 -16 56 -12 31 -13 27 -7 10 -6 7 -6 4 -4 2 -4-1 -6-3 -10-9 -10-16 -8-19 -8-29 -11-52 -14-36 -4-16 -6-28 -5-36 0-10 3-8 4-6 7-6 8-4 12-5 14-3z"/>
<path fill="#747474" d="M678 1102l23-1 18 0 18 3 16 5 12 6 8 7 5 8 1 10 -4 36 -6 34 -4 16 -11 30 -15 52 -12 30 -14 26 -10 13 -6 4 -4 1 -4 0 -6-3 -10-11 -8-13 -8-19 -7-26 -11-48 -14-36 -5-16 -6-30 -5-36 0-8 3-8 4-6 7-6 10-5 12-4 16-3z"/>
<path fill="#777777" d="M688 1102l21 0 14 1 17 3 15 5 10 6 8 7 3 8 2 10 -5 38 -6 32 -16 44 -14 50 -12 28 -12 23 -10 12 -6 5 -4 0 -8-3 -10-10 -8-13 -7-18 -7-22 -11-46 -14-36 -6-16 -6-30 -5-38 1-8 3-8 5-6 9-6 12-5 14-3 16-3z"/>
<path fill="#7b7b7b" d="M672 1104l21-2 20 0 16 2 16 4 14 6 8 6 6 8 3 10 0 10 -4 26 -7 36 -5 16 -11 30 -14 46 -10 25 -12 22 -10 13 -4 3 -4 1 -4 0 -4-2 -8-7 -8-12 -8-18 -6-19 -12-46 -15-36 -5-16 -6-28 -6-36 0-8 2-8 4-6 6-6 8-4 12-5z"/>
<path fill="#7e7e7e" d="M679 1104l22-1 16 0 16 3 15 4 12 6 7 6 5 8 2 10 0 8 -4 30 -7 32 -5 16 -11 30 -14 44 -10 23 -10 18 -10 13 -4 3 -4 1 -4-1 -4-2 -8-8 -8-13 -6-14 -5-14 -11-44 -16-36 -6-16 -7-30 -5-36 0-8 3-8 4-6 7-5 10-5 10-3 14-3z"/>
<path fill="#828282" d="M688 1104l21-1 12 1 16 3 13 5 11 6 6 6 4 8 1 8 0 8 -4 30 -7 32 -5 16 -12 30 -13 41 -8 19 -10 18 -8 10 -4 4 -4 1 -4 0 -4-2 -8-7 -6-10 -8-16 -15-52 -17-36 -6-16 -7-30 -5-36 0-8 3-8 5-6 8-6 10-4 14-4z"/>
<path fill="#858585" d="M673 1106l20-2 20 0 14 2 14 3 12 5 10 7 5 7 3 10 -1 10 -5 36 -5 24 -5 15 -13 31 -12 38 -8 18 -7 13 -6 9 -6 6 -6 3 -6-2 -8-7 -6-9 -6-13 -16-48 -16-34 -7-16 -7-28 -6-38 0-8 2-8 4-6 4-4 8-5 10-4 12-3z"/>
<path fill="#898989" d="M679 1106l20-1 16 0 14 2 14 4 11 5 8 6 5 8 2 8 0 10 -5 34 -6 24 -4 16 -14 32 -13 36 -6 15 -6 11 -6 9 -6 5 -4 2 -6-1 -6-5 -5-6 -5-8 -5-12 -14-40 -20-38 -5-14 -4-18 -8-44 0-8 2-8 4-6 4-4 8-4 12-5 14-3z"/>
<path fill="#8d8d8d" d="M687 1106l30 0 14 2 14 5 10 5 7 6 4 8 1 8 0 10 -6 34 -4 22 -5 16 -15 32 -12 34 -6 14 -10 15 -6 5 -4 1 -4-1 -6-4 -8-10 -6-12 -14-36 -21-40 -5-14 -5-18 -7-44 0-8 3-8 5-6 6-4 8-4 12-4 14-2z"/>
<path fill="#909090" d="M700 1106l15 0 12 2 12 3 11 5 6 4 6 6 3 8 1 8 -7 44 -4 20 -5 14 -16 36 -17 41 -8 12 -4 4 -4 2 -4-1 -4-2 -4-4 -5-6 -19-42 -16-27 -7-13 -5-14 -5-20 -6-34 -1-10 0-8 4-8 7-6 7-4 11-4 13-3 16-2z"/>
<path fill="#949494" d="M679 1108l34-1 14 2 12 3 9 4 9 6 5 8 2 8 0 10 -5 32 -5 22 -5 16 -32 71 -8 12 -6 4 -4 0 -4-2 -8-8 -19-37 -15-23 -7-13 -6-14 -5-18 -8-44 0-8 1-6 3-6 6-5 8-5 10-3z"/>
<path fill="#979797" d="M686 1108l19-1 12 1 13 2 11 4 9 4 7 6 4 6 2 8 -1 10 -5 32 -5 22 -5 16 -6 14 -26 52 -6 9 -6 3 -6-2 -8-8 -17-28 -17-24 -7-12 -5-13 -6-19 -9-44 0-8 3-8 4-6 5-4 8-4 11-4z"/>
<path fill="#9b9b9b" d="M696 1108l15 0 10 1 13 3 10 4 7 4 6 6 3 6 1 8 0 10 -6 32 -5 20 -5 16 -6 14 -22 41 -6 8 -6 5 -4-1 -4-2 -8-7 -28-38 -10-16 -6-13 -6-19 -4-18 -5-28 1-8 3-8 5-6 6-3 10-5 12-3z"/>
<path fill="#9e9e9e" d="M679 1110l32-2 10 1 12 3 10 4 8 6 5 6 3 8 1 10 -5 30 -5 22 -6 18 -9 19 -18 30 -6 8 -6 3 -4 0 -4-2 -8-7 -24-28 -12-17 -5-12 -6-18 -10-44 0-8 2-8 3-6 4-4 7-4 9-3z"/>
<path fill="#a2a2a2" d="M686 1110l27-1 12 2 11 3 8 4 8 6 4 6 2 8 0 10 -6 32 -5 20 -5 16 -7 15 -10 16 -12 17 -6 4 -4 0 -4-2 -12-8 -18-18 -12-17 -7-13 -6-18 -5-18 -5-28 0-8 1-6 4-6 5-4 7-4 10-4z"/>
<path fill="#a5a5a5" d="M694 1110l23 0 10 2 11 4 8 4 6 6 3 6 2 6 -1 10 -5 32 -5 20 -6 16 -7 15 -10 15 -10 11 -6 4 -4 0 -6-2 -14-10 -14-13 -10-14 -7-14 -6-18 -5-18 -6-28 1-8 2-6 5-6 6-4 8-3 10-3z"/>
<path fill="#a9a9a9" d="M680 1112l31-2 10 1 10 3 9 4 7 4 5 6 3 8 0 10 -5 30 -5 21 -6 17 -6 14 -10 14 -10 10 -6 3 -10-2 -12-7 -12-10 -11-14 -7-12 -6-16 -5-18 -6-26 -1-8 1-8 3-6 4-4 6-4 8-3z"/>
<path fill="#acacac" d="M686 1112l27-1 18 4 8 3 8 6 4 6 2 6 1 10 -6 30 -5 20 -6 18 -6 13 -8 11 -8 9 -4 2 -4 1 -10-1 -12-7 -12-10 -10-12 -6-12 -7-18 -10-42 -1-8 1-6 3-6 4-4 7-4 9-4z"/>
<path fill="#b0b0b0" d="M693 1112l23 0 10 2 9 3 8 5 4 4 4 6 1 6 0 10 -6 30 -5 20 -6 16 -6 12 -8 11 -8 7 -6 2 -10-2 -12-5 -10-9 -10-12 -7-12 -7-18 -10-42 0-8 2-6 4-6 5-4 9-4 8-2z"/>
<path fill="#b3b3b3" d="M681 1114l28-2 8 1 10 2 10 4 7 5 4 6 2 6 1 10 -5 28 -5 18 -6 18 -6 12 -6 9 -8 8 -6 3 -10-1 -12-5 -10-7 -9-11 -7-12 -7-16 -5-16 -5-24 -1-8 0-6 3-6 3-4 6-4 8-4z"/>
<path fill="#b7b7b7" d="M686 1114l25-1 16 3 10 4 5 4 5 6 2 6 0 10 -5 26 -5 20 -5 16 -5 11 -6 9 -8 8 -6 2 -10 0 -12-5 -10-8 -8-10 -7-11 -6-16 -11-40 -1-6 1-6 3-6 3-4 6-4 8-3z"/>
<path fill="#bbbbbb" d="M694 1114l21 0 16 4 7 4 4 4 4 6 2 6 0 10 -6 26 -4 16 -5 16 -6 12 -6 8 -6 6 -6 3 -10-1 -10-4 -10-7 -8-9 -7-12 -7-16 -10-40 -1-6 2-6 3-6 5-4 7-4 8-2z"/>
<path fill="#bebebe" d="M683 1116l26-2 8 1 8 2 8 3 6 4 5 6 2 6 0 10 -3 17 -5 21 -6 18 -5 12 -6 9 -6 6 -6 3 -10-1 -10-4 -8-6 -8-9 -7-12 -6-14 -11-37 -1-7 1-6 4-8 5-4 7-3z"/>
<path fill="#c2c2c2" d="M688 1116l23-1 15 3 8 4 5 4 3 4 3 6 0 8 -2 10 -5 26 -7 20 -4 10 -6 9 -6 6 -6 3 -8 0 -10-4 -9-6 -7-8 -7-12 -7-14 -10-36 -1-6 1-6 3-6 4-4 11-6z"/>
<path fill="#c5c5c5" d="M695 1116l20 0 14 4 6 4 4 4 3 4 1 6 0 8 -4 21 -4 16 -5 15 -5 11 -4 7 -6 6 -6 3 -8-1 -10-3 -8-6 -8-9 -6-11 -6-13 -11-36 0-6 1-6 3-4 4-4 13-6z"/>
<path fill="#c9c9c9" d="M685 1118l22-2 14 2 8 3 6 4 4 5 3 6 0 6 -1 8 -6 27 -5 17 -5 10 -6 10 -4 4 -6 3 -8 0 -8-3 -8-6 -8-8 -6-10 -6-13 -10-33 -1-6 1-6 1-4 4-4 10-6z"/>
<path fill="#cccccc" d="M691 1118l20-1 13 3 8 4 4 4 3 4 1 6 1 6 -2 10 -6 24 -5 14 -4 10 -5 8 -6 6 -4 2 -8-1 -8-3 -8-6 -6-7 -6-9 -6-12 -11-34 1-10 2-4 3-4 11-6z"/>
<path fill="#d0d0d0" d="M700 1118l15 0 12 4 6 4 3 4 2 4 1 6 0 8 -6 22 -8 24 -8 14 -4 4 -6 2 -8-1 -6-3 -8-7 -6-7 -6-10 -5-10 -8-22 -2-10 0-6 2-4 2-4 5-4 14-5z"/>
<path fill="#d3d3d3" d="M689 1120l20-1 12 2 10 5 3 4 3 6 1 6 -1 6 -10 37 -5 11 -5 8 -4 4 -4 2 -6 0 -8-3 -8-6 -6-7 -10-18 -11-30 0-6 1-4 4-6 9-6z"/>
<path fill="#d7d7d7" d="M696 1120l15-1 12 4 8 5 3 4 2 6 0 6 -1 6 -6 23 -4 12 -8 15 -4 4 -4 2 -6-1 -8-3 -6-4 -6-7 -10-16 -11-29 0-6 1-4 2-4 4-4 12-5z"/>
<path fill="#dadada" d="M688 1122l19-2 12 2 5 2 5 4 3 4 2 4 1 6 -1 6 -9 31 -8 16 -4 4 -4 2 -6 0 -6-3 -6-3 -6-6 -6-9 -4-7 -10-26 -1-7 1-4 3-4 8-6z"/>
<path fill="#dedede" d="M695 1122l16-1 10 3 4 2 4 4 4 8 -1 10 -9 31 -7 13 -3 3 -4 1 -6 0 -6-2 -6-4 -6-7 -8-13 -10-24 0-8 2-4 3-4 9-5z"/>
<path fill="#e2e2e2" d="M689 1124l18-2 10 1 8 5 4 4 2 4 1 6 -1 6 -8 25 -7 13 -3 4 -4 2 -6-1 -6-2 -10-9 -8-12 -10-22 0-8 4-6 6-5z"/>
<path fill="#e5e5e5" d="M696 1124l15-1 8 2 7 5 2 4 1 4 0 10 -8 24 -6 11 -2 2 -4 2 -4 0 -6-2 -6-4 -4-4 -8-12 -9-19 0-8 3-6 8-5z"/>
<path fill="#e9e9e9" d="M692 1126l13-2 10 1 8 5 4 6 1 10 -5 15 -6 14 -6 6 -4 1 -4-1 -6-3 -4-3 -8-9 -10-18 -1-8 3-6 4-4z"/>
<path fill="#ececec" d="M699 1126l12 0 6 1 6 5 3 6 0 8 -5 14 -6 12 -2 2 -4 3 -8-2 -8-6 -10-12 -4-7 -2-6 0-6 5-6 8-4z"/>
<path fill="#f0f0f0" d="M696 1128l11-1 6 0 6 3 4 6 1 8 -3 11 -6 11 -2 3 -4 2 -6-1 -8-5 -8-8 -7-11 0-6 3-6 6-4z"/>
<path fill="#f3f3f3" d="M695 1130l8-1 8-1 6 3 4 5 1 6 -1 6 -4 9 -6 7 -6 1 -8-4 -8-7 -5-8 -1-6 2-4 5-4z"/>
<path fill="#f7f7f7" d="M696 1132l9-2 6 0 4 2 4 4 1 6 -1 6 -4 7 -4 4 -6 0 -6-2 -6-5 -5-6 -1-4 1-4 4-4z"/>
<path fill="#fafafa" d="M699 1134l10-2 4 2 3 2 1 4 0 5 -2 5 -4 3 -4 1 -6-2 -4-2 -4-4 -1-2 0-4 3-4z"/>
<path fill="#fefefe" d="M701 1138l6-2 4 1 3 3 0 4 -1 2 -2 2 -4 1 -6-3 -2-2 -1-2z"/>
</g></g></g>
<g clip-path="url(#kpc)"><g filter="url(#cm)"><rect x="117.5" y="954" width="369.5" height="340.5" fill="#0a0a0a"/><g transform="scale(.5)">
<path fill="#0c0c0c" d="M650 1910l5-2 125 0 37 24 8 4 14 4 30 3 106 4 0 643 -740 0 0-643 116-4 150-4 44-2 27-3 18-4z"/>
<path fill="#0c0c0c" d="M699 1910l7-2 40 0 29 11 38 21 11 4 11 2 30 3 110 5 0 636 -740 0 0-637 120-4 168-4 46-3 18-2 19-4 63-19z"/>
<path fill="#0e0e0e" d="M720 1914l19 0 20 5 18 8 33 17 12 4 10 2 25 2 118 6 0 632 -740 0 0-633 116-4 186-5 36-2 18-2 22-4 70-19 18-4z"/>
<path fill="#0e0e0e" d="M710 1920l21-1 10 1 12 2 18 7 35 17 12 4 11 2 28 3 118 6 0 629 -740 0 0-630 112-5 186-4 48-3 18-2 22-4 62-17z"/>
<path fill="#101010" d="M708 1924l21-2 10 1 12 2 18 7 35 16 12 4 13 3 26 2 120 7 0 626 -740 0 0-627 116-6 188-4 46-3 18-2 23-4 57-15z"/>
<path fill="#101010" d="M715 1926l18-1 20 4 16 6 34 15 13 4 11 2 24 3 124 7 0 624 -740 0 0-624 118-7 190-5 41-2 19-2 25-4 61-15z"/>
<path fill="#121212" d="M721 1928l16 0 16 3 16 6 34 15 24 6 22 2 78 5 48 4 0 601 -1 20 -739 0 0-622 52-4 64-3 188-5 46-3 43-5 63-15z"/>
<path fill="#121212" d="M726 1930l15 1 14 3 14 5 29 13 13 4 14 3 25 3 85 6 40 4 0 469 -4 18 -21 111 0 20 -698 0 -1-20 -12-59 -4-16 0-524 50-5 62-3 202-6 44-3 33-4 73-17z"/>
<path fill="#141414" d="M725 1932l14 1 16 3 44 18 24 6 24 3 88 7 40 6 0 333 -25 149 -21 112 -1 20 -653 0 -1-20 -16-78 -23-120 0-398 50-6 62-4 76-3 124-3 42-2 45-6 65-15z"/>
<path fill="#141414" d="M721 1934l14 0 16 3 14 4 36 15 24 6 22 3 84 7 26 4 18 4 0 193 -32 211 -15 88 -18 98 0 20 -613 0 0-20 -17-70 -14-70 -11-66 -16-99 -4-20 0-267 42-7 64-5 76-3 138-4 44-3 32-4 68-15z"/>
<path fill="#161616" d="M717 1936l16 0 18 3 14 4 33 13 27 7 22 3 65 6 33 5 10 3 10 4 5 4 5 5 0 36 -24 191 -25 162 -32 186 -1 22 -574 0 -1-20 -24-102 -22-114 -16-94 -21-146 0-131 17-5 21-4 60-6 84-4 140-4 46-3 35-5 59-13z"/>
<path fill="#161616" d="M713 1938l18-1 18 3 16 4 35 14 25 6 20 3 60 6 26 5 14 4 7 4 4 4 3 6 1 10 -1 20 -20 166 -23 158 -36 218 -1 22 -539 0 -1-20 -17-66 -17-70 -15-76 -14-84 -17-112 -16-120 -3-36 0-8 2-6 6-6 13-6 17-4 29-4 40-3 46-3 160-5 44-3 46-6z"/>
<path fill="#181818" d="M708 1940l19-2 16 2 16 4 38 14 22 6 18 4 55 6 23 4 14 4 8 4 4 4 3 6 1 8 -1 16 -16 140 -22 156 -38 252 -1 22 -506 0 -1-20 -19-66 -17-68 -16-76 -15-82 -17-108 -17-120 -4-42 0-10 2-6 6-6 14-6 18-4 22-3 34-3 48-3 152-5 44-3 44-5z"/>
<path fill="#181818" d="M717 1940l14 0 14 1 14 4 35 13 23 7 22 4 50 7 19 4 11 4 6 4 3 4 2 6 1 8 -1 14 -14 126 -18 134 -41 288 0 22 -475 0 0-20 -21-64 -17-66 -17-74 -17-82 -18-108 -17-118 -6-50 1-10 2-6 6-6 8-4 15-4 25-4 35-3 42-3 152-5 44-3 46-6 52-11z"/>
<path fill="#1a1a1a" d="M711 1942l18-1 18 2 14 4 36 13 20 6 76 14 11 4 7 4 3 4 3 6 0 8 0 10 -13 120 -56 430 -1 24 -443 0 0-14 -1-6 -20-60 -19-64 -18-72 -17-78 -18-98 -17-104 -10-80 -1-12 2-8 5-6 11-6 15-4 27-4 74-6 136-4 44-3 41-5z"/>
<path fill="#1a1a1a" d="M720 1942l15 0 16 3 64 22 68 14 7 3 7 4 4 4 2 6 0 16 -10 114 -53 438 -1 24 -412 0 0-14 -1-6 -22-56 -20-62 -19-70 -18-78 -19-96 -17-102 -14-92 0-12 2-8 5-6 12-6 16-4 21-3 68-6 134-4 42-3 46-6 56-11z"/>
<path fill="#1c1c1c" d="M712 1944l17-1 20 2 14 4 50 18 53 13 11 4 7 4 5 6 2 6 0 16 -9 114 -50 436 -1 24 -379 0 0-14 -2-6 -14-32 -13-31 -12-33 -13-38 -17-58 -15-62 -19-88 -18-96 -17-112 -2-16 1-8 4-6 10-6 12-4 23-4 31-3 38-3 128-5 44-3 38-4z"/>
<path fill="#1c1c1c" d="M720 1944l17 0 16 3 54 19 53 16 9 4 5 4 3 4 1 6 1 16 -6 108 -48 442 -1 24 -346 0 0-14 -1-6 -16-30 -14-30 -14-33 -13-35 -18-56 -18-62 -20-86 -19-96 -20-120 -1-16 1-10 4-6 9-6 14-4 24-4 59-5 122-5 42-3 42-5 58-11z"/>
<path fill="#1e1e1e" d="M711 1946l20-1 20 3 89 30 15 6 6 4 5 6 2 8 1 14 -2 72 -2 36 -46 442 -1 24 -311 0 0-14 -2-6 -20-35 -16-29 -14-30 -14-33 -20-55 -18-58 -22-85 -20-95 -22-126 -2-18 1-10 4-6 10-6 15-4 20-3 53-5 119-5 42-3 45-6z"/>
<path fill="#1e1e1e" d="M718 1946l17 0 20 4 79 28 13 6 5 4 5 6 2 10 1 14 -3 100 -11 120 -33 328 -1 24 -278 0 0-14 -1-6 -42-72 -24-47 -24-57 -23-66 -22-80 -21-89 -12-61 -12-66 -3-22 0-12 3-6 8-6 12-4 20-4 54-5 114-5 40-3 37-5 61-11z"/>
<path fill="#202020" d="M708 1948l21-2 20 3 20 6 51 19 17 8 8 6 5 8 3 10 0 14 -2 98 -17 180 -27 268 -1 24 -249 0 0-16 -3-8 -15-30 -42-75 -21-41 -22-52 -21-58 -22-74 -21-86 -12-58 -12-62 -3-22 1-10 3-6 8-6 12-4 22-4 42-4 108-5 42-4 42-5z"/>
<path fill="#202020" d="M714 1948l19-1 20 4 24 8 44 17 11 6 9 8 4 8 3 12 0 28 -2 20 -1 56 -19 206 -24 246 -1 24 -227 0 -1-20 -14-37 -18-38 -40-75 -20-40 -20-46 -19-52 -21-70 -19-74 -22-106 -4-22 0-10 3-6 6-6 10-4 17-4 49-5 102-6 40-3 40-5z"/>
<path fill="#222222" d="M722 1948l17 1 20 4 38 14 25 11 9 6 5 6 4 8 3 14 0 26 -1 22 -2 54 -28 298 -15 154 -1 24 -208 0 0-16 -1-6 -12-37 -12-32 -20-45 -40-78 -18-37 -18-43 -18-49 -19-63 -18-68 -20-90 -2-16 0-10 2-6 7-6 10-4 19-4 36-4 97-6 42-3 36-5 60-11z"/>
<path fill="#232323" d="M710 1950l21-1 20 3 24 7 36 15 11 6 9 8 5 10 4 14 0 26 -3 22 -1 52 -44 452 -1 26 -191 0 0-18 -4-16 -13-44 -16-46 -22-52 -41-84 -17-37 -18-43 -15-44 -17-54 -17-64 -15-66 -2-14 0-8 3-6 7-6 11-4 19-4 42-4 78-5 40-3 40-6z"/>
<path fill="#242424" d="M716 1950l17-1 22 4 28 10 30 13 9 6 7 8 5 10 3 14 -1 26 -2 22 -2 50 -4 32 -26 272 -15 148 -1 26 -176 0 -1-20 -8-36 -16-57 -16-49 -22-55 -42-89 -16-36 -16-41 -15-43 -17-56 -16-62 -7-32 -1-8 0-6 3-6 4-4 9-4 16-4 32-4 88-6 36-4 34-5z"/>
<path fill="#242424" d="M724 1950l17 1 18 4 28 10 23 11 9 6 7 8 6 12 2 12 0 26 -3 22 -3 48 -4 36 -26 270 -15 144 -2 30 -162 0 0-20 -10-44 -16-63 -16-54 -12-35 -12-31 -54-122 -24-61 -17-52 -19-62 -7-30 -1-14 2-6 6-6 10-4 18-4 33-4 67-5 38-4 34-5 62-11z"/>
<path fill="#262626" d="M710 1952l19-1 20 2 24 7 28 12 13 8 8 8 6 12 4 14 -1 26 -3 22 -3 46 -5 38 -27 272 -15 142 -1 30 -150 0 0-20 -12-58 -18-74 -18-65 -12-36 -14-38 -51-121 -23-58 -27-82 -5-22 -1-14 2-6 4-4 7-4 14-4 27-4 109-11z"/>
<path fill="#272727" d="M715 1952l18-1 20 4 26 8 24 11 11 8 7 8 6 12 3 14 -1 24 -4 22 -3 48 -5 36 -28 278 -16 140 -1 26 -137 0 0-22 -14-68 -22-95 -18-66 -14-44 -14-40 -55-135 -28-74 -8-28 -1-14 1-6 6-6 8-4 15-4 27-4 95-11z"/>
<path fill="#282828" d="M721 1952l18 1 20 4 25 9 20 10 10 8 6 8 5 12 3 12 -1 24 -4 22 -3 46 -7 43 -28 273 -17 140 -1 26 -124 0 -1-22 -15-77 -24-109 -20-76 -16-53 -18-51 -65-162 -7-22 -1-14 2-6 6-6 9-4 15-4 103-14 88-15z"/>
<path fill="#282828" d="M708 1954l21-2 22 3 14 4 16 6 14 7 10 6 11 10 4 8 4 8 2 12 -1 24 -4 21 -4 49 -5 30 -3 22 -28 262 -18 142 -1 24 -111 0 -1-22 -15-76 -26-122 -24-96 -18-61 -20-57 -32-80 -18-40 -6-18 0-12 1-6 5-6 7-4 12-4 20-4 89-13z"/>
<path fill="#2a2a2a" d="M713 1954l20-1 22 4 28 10 11 5 10 6 10 10 5 8 3 8 2 12 0 22 -5 23 -5 49 -5 30 -4 28 -28 256 -19 144 -1 22 -99 0 0-20 -11-54 -32-155 -26-109 -16-57 -16-49 -28-70 -19-38 -5-18 -1-10 2-8 4-6 9-6 12-4 29-6z"/>
<path fill="#2b2b2b" d="M718 1954l19 0 22 5 28 10 9 5 9 6 9 10 4 8 3 8 2 12 -1 20 -5 24 -5 48 -6 30 -3 25 -30 258 -20 145 -1 22 -86 0 -1-20 -5-28 -41-197 -16-71 -12-49 -12-44 -12-39 -26-68 -7-14 -12-22 -6-18 0-8 3-10 4-6 9-6 11-4 37-8 115-21z"/>
<path fill="#2c2c2c" d="M706 1956l21-2 18 2 24 6 22 10 12 8 9 10 6 12 4 14 -2 26 -5 20 -5 48 -6 30 -4 28 -32 262 -21 138 -1 22 -72 0 0-16 -2-12 -22-102 -35-166 -24-101 -14-49 -22-60 -10-23 -13-21 -6-22 1-10 5-10 8-6 14-6 33-8z"/>
<path fill="#2c2c2c" d="M709 1956l20-1 18 2 22 6 21 9 12 8 9 10 6 12 3 14 -1 26 -5 20 -6 48 -7 32 -4 28 -32 254 -10 64 -15 82 -1 20 -56 0 0-14 -1-8 -24-100 -41-196 -22-92 -11-38 -21-59 -10-23 -13-20 -6-22 2-10 6-10 7-6 13-6 14-4 26-6z"/>
<path fill="#2e2e2e" d="M713 1956l18-1 18 3 22 6 21 10 11 8 8 10 6 16 2 12 -2 22 -5 20 -6 48 -6 30 -4 22 -20 156 -15 108 -12 67 -17 77 -1 20 -37 0 -1-20 -16-56 -14-54 -42-199 -22-92 -8-28 -10-27 -12-34 -9-20 -13-20 -5-16 -1-8 3-10 8-10 9-6 15-6 22-6 28-6 57-11z"/>
<path fill="#2f2f2f" d="M718 1956l17 0 18 3 20 7 17 8 11 8 8 10 7 14 2 12 -2 24 -5 19 -7 49 -7 30 -2 16 -24 172 -18 118 -10 48 -10 37 -10 27 -4 6 -4 2 -2 0 -4-2 -8-12 -10-24 -10-30 -17-66 -41-188 -20-83 -6-20 -10-27 -12-35 -9-19 -13-20 -3-10 -3-12 1-4 2-6 7-10 11-8 14-6 21-6 36-8 54-10z"/>
<path fill="#303030" d="M705 1958l20-2 18 1 22 6 21 9 12 8 9 10 7 14 2 8 1 6 -2 24 -6 20 -6 48 -8 30 -2 14 -24 169 -18 111 -10 43 -10 33 -8 17 -4 5 -4 2 -4-1 -4-4 -8-11 -8-18 -9-26 -15-56 -40-181 -20-81 -4-14 -11-28 -12-36 -8-18 -14-20 -3-12 -2-10 2-8 6-10 9-8 12-6 17-6 25-6 51-11z"/>
<path fill="#303030" d="M709 1958l18-2 18 2 20 6 20 8 11 8 9 10 8 14 3 14 -2 22 -5 20 -8 50 -9 38 -25 170 -18 102 -8 34 -10 31 -8 16 -4 4 -4 2 -4-1 -4-3 -8-12 -8-17 -8-23 -12-45 -44-191 -16-63 -4-13 -11-27 -11-34 -8-18 -14-20 -3-10 -2-12 0-4 3-6 7-10 11-8 13-6 19-6 25-6 43-9z"/>
<path fill="#323232" d="M712 1958l19-1 18 3 20 6 18 8 10 8 9 10 6 14 3 12 -2 24 -6 19 -7 49 -10 38 -26 168 -18 92 -7 30 -8 24 -8 16 -4 4 -4 1 -6-3 -8-10 -8-16 -8-22 -8-27 -12-47 -36-155 -14-53 -14-36 -14-42 -7-14 -13-18 -3-12 -2-10 0-4 3-6 8-10 11-8 12-6 18-6 25-6 44-9z"/>
<path fill="#333333" d="M716 1958l17 0 18 2 18 6 17 8 10 8 9 10 6 14 3 12 -2 24 -7 22 -7 48 -9 34 -27 160 -15 77 -8 34 -8 24 -8 15 -4 4 -4 1 -6-3 -8-11 -7-13 -7-20 -21-74 -35-147 -12-45 -14-34 -14-42 -7-14 -9-12 -4-6 -3-12 -2-10 0-4 3-6 8-10 11-8 12-6 18-6 32-8 41-8z"/>
<path fill="#343434" d="M722 1958l15 0 18 4 18 6 15 8 9 8 8 10 5 12 3 12 -2 24 -7 22 -8 48 -9 34 -26 150 -12 59 -10 40 -8 25 -8 15 -4 4 -4 0 -6-3 -6-8 -6-12 -8-20 -20-66 -34-140 -13-44 -13-32 -14-42 -7-14 -10-12 -3-6 -3-10 -3-12 1-4 3-6 8-10 11-8 12-6 24-8 29-7 40-8z"/>
<path fill="#343434" d="M707 1960l18-2 18 2 20 5 18 8 13 9 8 10 7 14 3 12 -2 24 -7 22 -8 48 -10 34 -26 145 -10 47 -10 37 -8 24 -8 15 -4 4 -2 1 -6-2 -6-7 -8-15 -8-20 -18-58 -34-133 -11-38 -13-32 -10-30 -6-14 -6-12 -9-12 -4-6 -4-12 -1-10 2-8 8-10 10-9 14-7 17-6 23-6 32-7z"/>
<path fill="#363636" d="M710 1960l17-1 18 2 20 5 17 8 11 8 8 10 7 14 3 12 -2 24 -7 22 -9 48 -10 35 -25 135 -9 40 -10 36 -8 22 -8 14 -4 4 -2 0 -6-2 -6-7 -8-14 -8-20 -16-49 -32-122 -12-40 -13-30 -9-28 -7-16 -6-12 -9-12 -4-6 -3-10 -2-12 2-8 8-10 9-8 15-8 17-6 22-6 34-7z"/>
<path fill="#373737" d="M714 1960l15-1 18 2 18 6 16 7 11 8 8 10 8 14 2 12 -2 24 -7 22 -9 48 -10 34 -25 125 -10 44 -8 27 -8 20 -8 14 -4 3 -2 1 -6-3 -6-7 -8-14 -8-18 -14-43 -31-115 -11-34 -14-32 -10-30 -6-14 -6-12 -10-12 -3-6 -4-12 -1-10 2-8 8-10 10-8 14-8 17-6 25-7 32-7z"/>
<path fill="#383838" d="M718 1960l15 0 18 3 18 6 14 7 10 8 8 10 6 12 2 12 -2 24 -7 22 -9 48 -11 34 -21 102 -12 52 -8 27 -8 20 -8 12 -4 3 -2 1 -6-3 -7-8 -7-12 -8-19 -12-36 -30-105 -11-36 -14-30 -10-30 -6-14 -6-12 -10-12 -4-6 -3-10 -2-12 3-8 8-10 9-8 15-8 19-7 26-7 32-6z"/>
<path fill="#383838" d="M723 1960l14 1 16 3 16 5 14 8 9 7 8 10 6 12 2 12 -2 24 -7 22 -10 48 -11 34 -21 99 -12 49 -6 20 -8 18 -8 12 -4 3 -2 0 -6-2 -6-7 -6-10 -8-18 -12-34 -30-101 -10-31 -14-30 -10-30 -6-14 -7-12 -9-12 -4-6 -3-10 -2-12 1-4 3-6 9-10 10-8 16-8 20-7 28-7 30-5z"/>
<path fill="#3a3a3a" d="M708 1962l19-2 16 2 18 4 17 8 11 8 9 10 7 14 3 12 -3 24 -7 22 -10 48 -11 34 -20 88 -12 46 -7 22 -7 16 -8 12 -4 3 -2 0 -6-3 -6-7 -6-10 -7-15 -15-43 -25-81 -10-30 -14-30 -11-30 -6-15 -6-11 -10-12 -4-6 -3-12 -2-10 3-8 8-10 10-8 14-8 16-6 21-6 25-6z"/>
<path fill="#3b3b3b" d="M711 1962l16-1 18 2 16 4 16 7 11 8 9 10 7 14 3 12 -3 24 -7 22 -10 48 -12 34 -18 77 -12 45 -8 24 -6 13 -8 12 -4 2 -2 0 -6-3 -6-7 -6-10 -6-13 -16-42 -32-100 -15-30 -11-32 -6-14 -6-10 -10-12 -3-6 -4-12 -2-10 3-8 8-10 10-8 15-8 15-6 21-6 29-6z"/>
<path fill="#3c3c3c" d="M714 1962l15-1 18 2 18 6 14 7 10 8 8 10 7 12 2 12 -2 24 -8 20 -10 48 -12 34 -19 78 -10 35 -8 23 -6 13 -8 11 -4 3 -2 0 -4-2 -6-6 -6-9 -6-13 -16-41 -31-92 -15-30 -12-32 -6-14 -6-10 -10-12 -3-6 -4-12 -1-10 2-8 9-10 9-8 15-8 15-6 21-6 29-6z"/>
<path fill="#3c3c3c" d="M717 1962l16 0 16 2 16 5 13 7 11 8 8 10 7 14 2 10 -3 24 -8 22 -9 44 -13 36 -18 68 -10 34 -8 22 -8 17 -6 7 -4 2 -2 0 -4-1 -6-7 -6-9 -8-16 -14-36 -29-81 -15-30 -11-32 -7-14 -5-10 -11-12 -3-6 -4-12 -1-10 2-8 9-10 10-8 14-8 15-6 24-7 28-6z"/>
<path fill="#3e3e3e" d="M722 1962l15 1 16 3 14 5 13 7 10 8 7 10 6 12 2 10 -3 24 -8 22 -10 46 -13 34 -18 67 -8 26 -8 21 -8 15 -6 8 -4 2 -2 0 -4-2 -6-6 -6-10 -8-16 -12-29 -28-76 -16-30 -11-32 -7-14 -5-10 -11-12 -3-6 -4-12 -1-10 2-8 9-10 13-10 14-7 19-7 22-6 27-5z"/>
<path fill="#3f3f3f" d="M707 1964l18-2 16 1 16 4 16 7 12 8 9 10 7 14 3 12 -3 24 -8 23 -10 45 -13 34 -23 78 -8 21 -6 13 -8 12 -6 4 -4-1 -6-5 -6-8 -8-15 -12-27 -27-72 -16-30 -12-32 -7-14 -5-10 -11-12 -3-6 -6-20 1-4 1-4 6-8 11-10 13-8 14-6 18-6 23-6z"/>
<path fill="#404040" d="M710 1964l17-1 16 1 18 5 14 7 11 8 8 10 7 12 3 12 -3 24 -9 22 -10 46 -14 34 -21 70 -8 21 -6 12 -8 11 -6 4 -4-1 -6-5 -6-8 -8-15 -11-23 -25-64 -17-32 -16-40 -9-16 -10-12 -4-6 -5-20 0-4 2-4 6-8 11-10 13-8 14-6 18-6 23-6z"/>
<path fill="#404040" d="M713 1964l16-1 16 2 16 4 14 7 10 8 9 10 6 12 3 12 -3 24 -9 24 -11 44 -13 34 -21 64 -7 18 -8 15 -6 8 -6 3 -4-1 -6-5 -6-8 -8-14 -10-21 -24-59 -18-32 -16-40 -8-14 -10-12 -4-6 -3-10 -2-12 3-8 8-10 11-8 13-8 16-6 18-5 24-6z"/>
<path fill="#424242" d="M716 1964l15-1 16 3 16 5 12 6 11 9 8 10 6 12 2 10 -3 24 -8 22 -12 46 -13 32 -21 62 -8 19 -6 10 -6 7 -6 3 -4-1 -6-4 -6-8 -8-14 -32-72 -18-32 -16-40 -8-14 -11-12 -3-6 -3-10 -2-12 3-8 8-10 10-8 15-8 15-6 20-6 22-5z"/>
<path fill="#424242" d="M720 1964l13 0 16 3 14 4 13 7 10 8 8 10 6 12 2 10 -3 24 -9 22 -10 40 -4 12 -12 26 -17 50 -8 19 -10 17 -6 6 -4 1 -4-1 -6-5 -6-7 -8-14 -29-64 -19-32 -11-28 -6-14 -7-12 -11-12 -4-6 -3-12 -2-10 3-8 9-10 10-8 15-8 15-6 20-6 24-5z"/>
<path fill="#444444" d="M706 1966l19-2 14 1 16 4 16 6 12 9 9 10 6 12 2 6 1 6 -3 24 -9 22 -10 40 -4 12 -12 26 -16 43 -9 21 -9 15 -6 5 -4 1 -4-1 -6-4 -6-8 -6-10 -29-60 -18-30 -13-32 -6-13 -7-11 -10-12 -4-6 -5-20 0-4 1-4 6-8 11-9 12-8 14-6 16-6 20-5z"/>
<path fill="#444444" d="M709 1966l16-2 16 2 16 4 14 6 11 8 9 10 7 12 2 6 0 6 -2 24 -9 20 -11 42 -4 12 -13 26 -14 37 -10 22 -6 10 -4 5 -4 3 -4 1 -4-1 -6-5 -12-17 -28-55 -17-28 -13-32 -7-14 -6-10 -11-12 -4-6 -5-20 0-4 2-4 6-8 11-10 12-7 14-6 16-6 20-5z"/>
<path fill="#464646" d="M711 1966l16-1 16 1 14 4 14 7 10 7 9 10 8 14 2 10 -3 24 -9 22 -11 40 -4 12 -13 26 -13 32 -10 21 -10 14 -4 3 -4 1 -4-1 -6-5 -12-17 -25-48 -18-28 -13-32 -8-15 -5-9 -14-16 -3-8 -3-14 0-4 1-4 7-8 11-10 12-7 15-7 17-5 20-5z"/>
<path fill="#464646" d="M714 1966l15-1 14 2 14 3 14 7 10 7 9 10 6 12 2 6 1 6 -3 24 -9 22 -11 40 -4 12 -14 26 -11 27 -10 20 -10 14 -4 3 -4 1 -4-1 -4-3 -8-10 -10-16 -19-35 -16-24 -5-10 -10-24 -8-16 -6-10 -11-12 -4-6 -3-12 -2-10 1-4 2-4 7-8 10-8 13-8 14-6 18-6 21-5z"/>
<path fill="#484848" d="M717 1966l14 0 14 1 14 5 13 6 10 8 8 10 7 12 2 10 -3 24 -9 20 -12 42 -4 12 -13 24 -13 28 -8 15 -10 13 -4 3 -4 1 -4-1 -4-3 -8-9 -10-16 -17-29 -16-24 -6-10 -9-24 -8-16 -6-10 -11-12 -4-6 -4-10 -2-12 1-4 2-4 7-8 11-9 14-8 14-6 18-5 20-5z"/>
<path fill="#484848" d="M721 1966l14 0 14 3 12 4 12 6 8 7 9 10 6 12 2 10 -3 24 -9 22 -12 40 -4 12 -14 24 -11 24 -8 14 -10 13 -4 3 -4 1 -4-2 -4-3 -8-9 -10-15 -14-24 -18-24 -5-10 -11-26 -7-14 -6-10 -11-12 -4-6 -3-10 -2-12 1-4 2-4 7-8 11-9 14-8 16-6 18-6 20-4z"/>
<path fill="#4a4a4a" d="M707 1968l16-2 14 1 16 3 14 6 11 8 10 10 7 12 2 6 1 6 -3 24 -10 22 -12 40 -4 12 -32 57 -10 12 -4 3 -4 1 -4-1 -4-3 -8-9 -22-34 -18-24 -5-10 -11-26 -7-14 -7-10 -11-12 -4-6 -5-20 0-4 2-4 6-8 9-8 13-8 12-6 16-6 18-4z"/>
<path fill="#4a4a4a" d="M709 1968l16-2 14 1 14 4 14 6 11 7 9 10 7 12 2 6 1 6 -3 24 -9 20 -13 42 -5 12 -24 43 -8 13 -8 8 -4 3 -4 1 -4-1 -4-3 -8-9 -20-29 -18-24 -6-10 -11-26 -7-14 -6-10 -12-12 -4-6 -5-20 0-4 2-4 6-8 10-8 12-8 13-6 17-6 17-5z"/>
<path fill="#4d4d4d" d="M712 1968l15-1 14 1 14 4 14 6 10 8 9 10 6 12 3 10 -4 24 -9 20 -13 42 -5 12 -31 51 -8 9 -4 2 -4 1 -6-3 -8-7 -21-29 -17-22 -6-10 -11-26 -7-14 -7-10 -11-12 -4-6 -3-8 -3-12 1-4 1-4 7-8 9-8 13-8 13-6 16-6 18-5z"/>
<path fill="#505050" d="M724 1968l13 1 12 2 12 5 10 5 8 7 8 10 6 10 2 10 -3 24 -10 20 -14 42 -5 11 -8 13 -20 26 -8 7 -4 2 -4 1 -6-2 -8-7 -26-29 -8-10 -5-10 -11-24 -8-14 -6-10 -12-12 -4-6 -3-10 -2-12 0-4 3-4 7-8 10-8 14-8 15-6 18-6 20-4z"/>
<path fill="#545454" d="M714 1970l13-1 14 2 14 3 11 6 11 8 8 10 7 12 1 8 -3 24 -10 20 -15 41 -5 11 -9 13 -12 13 -10 8 -8 4 -6-1 -8-6 -20-18 -10-11 -6-10 -11-24 -10-16 -5-8 -12-12 -4-6 -3-8 -3-12 1-6 6-8 11-10 12-7 14-7 14-5 16-4z"/>
<path fill="#575757" d="M709 1972l14-2 12 1 14 3 12 5 11 7 9 9 7 11 4 10 -2 14 -2 12 -11 20 -15 40 -5 10 -7 10 -9 10 -10 7 -10 3 -8-1 -10-6 -12-10 -8-9 -7-10 -13-26 -8-14 -6-8 -16-16 -3-8 -3-14 1-6 6-8 9-8 10-7 12-6 13-5 15-5z"/>
<path fill="#5b5b5b" d="M717 1972l12-1 12 2 12 3 11 6 9 6 9 10 6 10 2 10 -4 24 -11 20 -20 48 -7 10 -9 8 -10 6 -8 2 -6-1 -10-5 -10-7 -8-9 -6-8 -14-26 -8-14 -6-8 -16-16 -4-8 -3-14 1-6 6-8 9-8 11-7 14-7 14-5 16-4z"/>
<path fill="#5e5e5e" d="M711 1974l12-1 12 0 12 3 12 4 10 7 9 9 7 10 3 10 0 12 -3 14 -12 20 -21 46 -6 8 -7 7 -10 6 -8 1 -8-1 -8-4 -8-6 -6-7 -6-8 -14-24 -9-14 -6-8 -16-16 -3-8 -4-14 1-6 4-6 9-8 10-7 12-6 14-6z"/>
<path fill="#626262" d="M719 1974l10 0 12 1 12 4 10 5 10 8 7 8 5 10 2 8 -2 18 -3 8 -10 16 -22 46 -6 8 -7 6 -8 4 -8 2 -6-1 -8-4 -8-6 -6-7 -19-30 -9-14 -5-6 -17-16 -3-8 -4-16 2-6 7-8 8-6 12-7 12-6 14-5 14-4z"/>
<path fill="#666666" d="M712 1976l13-1 12 0 12 4 10 4 10 7 9 10 6 10 2 8 -3 18 -2 8 -11 16 -22 42 -6 8 -6 6 -7 3 -8 2 -6-1 -6-3 -7-5 -6-6 -28-42 -5-6 -17-16 -4-8 -3-14 1-6 4-6 9-8 9-6 23-11 14-4z"/>
<path fill="#696969" d="M720 1976l11 0 10 1 10 4 11 5 9 8 7 8 5 8 1 8 -2 18 -3 8 -11 16 -21 38 -6 8 -6 6 -8 4 -6 1 -8-2 -10-8 -6-7 -17-24 -10-14 -20-18 -4-8 -4-18 2-6 5-6 10-8 10-6 12-6 14-5z"/>
<path fill="#6d6d6d" d="M714 1978l11-1 10 0 12 3 10 5 8 5 9 8 6 10 3 8 -2 20 -4 10 -9 12 -19 31 -8 12 -8 7 -10 4 -8-1 -9-7 -33-42 -20-18 -5-8 -4-16 1-4 3-6 7-7 10-7 11-6 13-5z"/>
<path fill="#707070" d="M721 1978l10 0 10 2 10 3 9 5 8 6 7 8 5 8 2 8 -3 18 -3 8 -10 14 -17 26 -8 11 -6 6 -8 5 -6 1 -6-1 -8-7 -31-37 -20-18 -3-4 -3-6 -3-16 2-6 5-6 9-7 10-6 12-5 12-5 12-3z"/>
<path fill="#747474" d="M715 1980l10-1 10 0 10 3 10 4 9 6 8 8 6 8 3 8 -1 6 -2 14 -4 10 -10 12 -23 32 -10 9 -8 3 -6-1 -8-5 -32-36 -19-16 -5-8 -4-16 0-4 4-6 6-6 10-7 22-10z"/>
<path fill="#777777" d="M722 1980l9 0 10 2 10 3 8 5 8 6 7 8 4 8 1 6 -2 18 -5 10 -10 12 -15 21 -8 9 -10 7 -8 2 -6-2 -6-5 -29-30 -19-16 -5-8 -4-12 -1-6 3-6 5-6 8-6 10-6 22-9 12-3z"/>
<path fill="#7b7b7b" d="M715 1982l10-1 10 1 10 2 10 4 8 6 8 8 5 8 2 8 -3 18 -4 10 -30 36 -10 8 -8 2 -6-1 -6-4 -30-29 -18-14 -5-8 -4-16 0-4 4-6 6-6 9-6 20-10z"/>
<path fill="#7e7e7e" d="M722 1982l9 0 10 2 8 3 8 4 8 6 6 7 5 8 1 6 -3 18 -5 10 -22 26 -8 8 -8 5 -8 3 -6-1 -6-4 -27-25 -18-14 -6-8 -3-12 -1-6 1-4 5-6 7-6 10-6 22-9z"/>
<path fill="#828282" d="M715 1984l10-1 10 1 10 2 8 4 8 5 7 7 6 8 2 6 0 6 -3 14 -5 10 -29 30 -8 6 -8 2 -6-2 -6-3 -24-21 -19-14 -5-8 -5-16 0-4 3-5 5-5 8-6 19-9z"/>
<path fill="#858585" d="M722 1984l9 0 8 1 10 4 8 4 8 7 5 6 3 6 2 6 -3 18 -3 6 -2 4 -28 27 -8 5 -8 2 -6-1 -6-4 -22-17 -19-14 -3-4 -3-6 -4-16 1-4 5-6 15-10 20-9z"/>
<path fill="#898989" d="M715 1986l10-1 8 0 10 3 8 3 8 5 7 6 5 8 3 6 -1 6 -3 14 -2 6 -3 4 -24 23 -8 5 -8 3 -6-1 -8-4 -39-28 -5-8 -5-16 0-4 3-4 6-6 6-5 18-9z"/>
<path fill="#8d8d8d" d="M721 1986l8 0 10 1 8 3 7 4 8 6 6 6 3 6 2 6 -4 18 -2 6 -3 4 -25 22 -8 4 -8 2 -6-2 -6-3 -37-25 -5-8 -4-12 -1-6 1-4 3-4 7-6 8-5 18-8z"/>
<path fill="#909090" d="M715 1988l8-1 8 0 10 2 8 3 8 5 6 5 6 8 2 6 0 6 -3 14 -3 6 -2 4 -24 19 -8 5 -6 1 -6-1 -8-3 -34-23 -6-8 -5-16 0-4 3-4 11-10 17-8z"/>
<path fill="#949494" d="M720 1988l9 0 8 1 8 2 8 4 6 5 6 6 4 6 1 6 -3 18 -3 6 -3 4 -22 17 -8 4 -6 2 -6-1 -6-3 -28-16 -6-5 -6-8 -5-16 0-4 2-4 5-5 8-5 18-9z"/>
<path fill="#979797" d="M715 1990l8-1 8 0 8 1 8 3 8 5 7 6 5 6 2 6 0 6 -3 12 -2 6 -3 5 -6 5 -14 10 -8 4 -6 2 -6 0 -8-3 -24-13 -8-6 -6-8 -5-16 0-4 2-4 10-8 15-8z"/>
<path fill="#9b9b9b" d="M719 1990l8-1 8 1 8 2 8 4 6 4 6 6 4 6 1 6 -4 18 -2 6 -3 3 -6 6 -14 8 -8 4 -6 1 -6-1 -6-2 -22-11 -8-6 -6-8 -6-16 1-4 2-4 11-9 16-8z"/>
<path fill="#9e9e9e" d="M714 1992l9-2 8 1 8 1 8 3 6 4 7 5 4 6 3 6 0 6 -3 12 -2 6 -3 4 -12 9 -10 6 -8 2 -6 1 -6-1 -18-8 -12-7 -4-4 -3-4 -6-16 -1-4 2-4 8-8 14-8z"/>
<path fill="#a2a2a2" d="M718 1992l7-1 8 1 14 4 6 4 6 5 4 5 3 6 0 6 -3 12 -3 6 -2 4 -7 6 -8 4 -10 5 -6 1 -6 0 -8-2 -16-8 -10-6 -7-8 -5-16 0-4 3-4 9-8 14-7z"/>
<path fill="#a5a5a5" d="M713 1994l14-2 14 3 12 6 9 9 2 4 1 4 -3 14 -4 10 -7 6 -16 8 -8 2 -6 0 -10-3 -14-6 -8-5 -4-4 -4-6 -4-12 0-4 1-4 6-6 9-6 10-5z"/>
<path fill="#a9a9a9" d="M717 1994l8-1 6 0 14 4 6 3 7 6 4 6 2 4 0 6 -4 12 -2 6 -3 4 -10 7 -8 3 -8 3 -8 0 -8-2 -14-6 -8-5 -4-4 -3-4 -6-16 2-6 9-8 14-8z"/>
<path fill="#acacac" d="M723 1994l12 1 8 2 6 3 10 9 3 5 1 4 -5 18 -5 8 -6 5 -8 4 -8 2 -6 1 -8-1 -10-4 -10-4 -6-5 -6-8 -4-10 -1-6 3-6 11-8 15-7z"/>
<path fill="#b0b0b0" d="M716 1996l13-1 12 2 12 7 7 8 2 4 0 4 -5 16 -4 7 -8 6 -8 3 -8 2 -6 1 -6-1 -10-4 -9-4 -6-4 -4-6 -6-16 1-6 6-6 7-4 9-4z"/>
<path fill="#b3b3b3" d="M721 1996l12 0 12 4 11 8 3 4 2 4 0 4 -3 10 -3 8 -3 4 -9 7 -12 4 -8 0 -6-1 -12-4 -8-4 -5-4 -2-4 -6-16 1-6 9-8 13-6z"/>
<path fill="#b7b7b7" d="M715 1998l12-2 12 2 11 6 8 8 2 4 0 4 -4 12 -3 8 -7 6 -13 5 -12 1 -8-2 -10-4 -7-4 -3-4 -7-16 -1-4 2-4 4-4 8-6z"/>
<path fill="#bbbbbb" d="M719 1998l10-1 12 3 10 6 7 8 1 4 -1 4 -6 16 -5 6 -8 5 -8 2 -8 0 -8-1 -8-3 -6-3 -5-4 -3-5 -4-8 -2-9 3-6 5-4 8-5z"/>
<path fill="#bebebe" d="M715 2000l10-2 12 2 10 4 8 8 3 6 -2 8 -5 12 -5 6 -7 4 -6 1 -12 1 -14-4 -7-4 -4-4 -6-14 -1-4 0-4 3-4 5-4 8-4z"/>
<path fill="#c2c2c2" d="M718 2000l11-1 10 2 10 6 6 7 1 6 -5 16 -4 5 -6 5 -6 2 -8 1 -12-1 -13-6 -4-4 -3-6 -5-12 1-4 1-2 4-4 6-4z"/>
<path fill="#c5c5c5" d="M722 2000l11 0 10 4 8 6 4 6 0 4 -1 6 -4 8 -3 6 -8 5 -10 3 -6 1 -6-1 -12-6 -5-4 -2-4 -6-14 0-4 1-2 8-6 10-5z"/>
<path fill="#c9c9c9" d="M717 2002l10-1 10 1 10 5 6 7 1 6 -4 12 -5 8 -5 4 -11 3 -6 1 -6-1 -10-5 -5-4 -3-5 -5-11 0-6 3-4 6-4z"/>
<path fill="#cccccc" d="M721 2002l8 0 10 2 10 6 4 6 -1 6 -5 14 -6 6 -8 4 -6 1 -6-1 -12-4 -6-6 -7-14 0-6 3-4 9-6z"/>
<path fill="#d0d0d0" d="M716 2004l9-2 10 2 10 4 6 6 1 6 -3 8 -4 8 -6 6 -10 3 -10 0 -10-5 -6-6 -6-12 0-6 6-6z"/>
<path fill="#d3d3d3" d="M720 2004l9-1 10 3 7 4 4 6 0 6 -5 12 -4 5 -6 4 -6 1 -6 1 -10-4 -5-3 -3-4 -6-12 0-6 3-4 7-4z"/>
<path fill="#d7d7d7" d="M716 2006l9-2 8 1 8 3 7 6 1 4 -2 8 -5 10 -5 4 -4 2 -6 2 -8-1 -8-5 -5-6 -5-10 -1-4 1-2 6-6z"/>
<path fill="#dadada" d="M719 2006l8-1 8 1 8 4 5 6 -1 6 -4 9 -4 6 -6 4 -8 1 -4 0 -5-2 -7-6 -6-12 -1-4 2-4 5-4z"/>
<path fill="#dedede" d="M724 2006l7 0 8 3 6 5 2 4 -2 7 -6 10 -6 4 -6 2 -8-1 -6-4 -6-8 -3-8 0-4 4-4 8-4z"/>
<path fill="#e2e2e2" d="M719 2008l8-1 7 1 7 3 4 5 0 5 -4 8 -4 5 -6 4 -8 1 -6-2 -6-7 -5-8 -1-4 2-4 6-4z"/>
<path fill="#e5e5e5" d="M723 2008l6 0 8 2 5 4 2 4 -2 6 -5 8 -5 4 -5 2 -6-1 -4-3 -6-7 -4-7 1-4 1-2 7-4z"/>
<path fill="#e9e9e9" d="M719 2010l6-1 8 1 5 2 4 4 0 4 -2 4 -5 7 -4 3 -6 2 -4-1 -6-6 -5-7 -1-4 1-2 3-3z"/>
<path fill="#ececec" d="M723 2010l6 0 6 2 4 2 2 4 -1 4 -5 6 -4 4 -4 1 -4 0 -4-2 -4-5 -4-6 1-4 2-2z"/>
<path fill="#f0f0f0" d="M720 2012l7-1 8 2 3 3 1 2 -1 4 -5 5 -4 3 -4 1 -4-2 -6-6 -2-5 3-4z"/>
<path fill="#f3f3f3" d="M719 2014l6-2 6 1 5 3 1 4 -6 6 -4 2 -4-1 -4-2 -3-5 0-4z"/>
<path fill="#f7f7f7" d="M722 2014l5 0 4 0 2 2 1 2 0 2 -5 4 -4 1 -2 0 -3-3 -2-4 1-2z"/>
<path fill="#fafafa" d="M723 2016l6 0 2 2 -1 2 -3 2 -4-1 -2-3z"/>
</g></g></g>
<g clip-path="url(#kpd)"><g filter="url(#cm)"><rect x="632.5" y="81" width="368" height="339" fill="#0b0b0b"/><g transform="scale(.5)">
<path fill="#0c0c0c" d="M1319 164l51-2 467 0 164 7 0 671 -736 0 0-674z"/>
<path fill="#0e0e0e" d="M1510 164l225-1 170 6 96 4 0 667 -736 0 0-670 110-3z"/>
<path fill="#0e0e0e" d="M1440 168l117-1 180-1 150 5 114 6 0 663 -736 0 0-667z"/>
<path fill="#101010" d="M1452 170l111-1 176 0 168 6 94 4 0 661 -736 0 0-664 84-3z"/>
<path fill="#101010" d="M1445 172l114-1 182-1 166 7 94 5 0 658 -736 0 0-662 82-3z"/>
<path fill="#121212" d="M1609 172l110 0 46 1 148 6 88 6 0 655 -736 0 0-660 152-6z"/>
<path fill="#121212" d="M1512 174l235-1 164 8 90 6 0 653 -736 0 0-658 114-5z"/>
<path fill="#141414" d="M1468 176l105-1 174 0 164 7 50 4 40 4 0 650 -736 0 0-656 94-5z"/>
<path fill="#141414" d="M1574 176l145-1 50 2 152 8 42 3 38 5 0 647 -736 0 0-654 66-4 72-3z"/>
<path fill="#161616" d="M1491 178l214-2 52 1 162 9 46 5 36 6 0 585 -6 38 -1 20 -729 0 0-652 102-7z"/>
<path fill="#161616" d="M1622 178l117 0 120 6 58 4 38 4 24 4 22 6 0 405 -13 121 -12 94 0 18 -711 0 0-650 66-5 84-4 94-2z"/>
<path fill="#181818" d="M1501 180l232-1 50 1 74 5 61 5 43 6 17 4 10 4 7 4 6 6 0 132 -11 166 -11 146 -9 78 -11 86 -1 18 -693 0 0-648 42-4 56-4z"/>
<path fill="#181818" d="M1618 180l131 0 68 4 82 6 34 4 29 6 14 6 5 4 5 6 2 8 1 10 -1 46 -6 110 -8 124 -12 144 -9 78 -11 86 -1 18 -676 0 0-646 61-6 77-4 98-3z"/>
<path fill="#1a1a1a" d="M1503 182l220-2 34 1 44 3 81 6 46 6 18 4 11 4 7 4 6 6 2 6 2 10 0 38 -5 102 -9 126 -13 156 -9 80 -13 90 -1 18 -648 0 -1-20 -10-59 0-564 36-5 52-4 68-4z"/>
<path fill="#1a1a1a" d="M1593 182l146-1 48 3 70 5 43 5 31 6 15 6 6 4 5 6 2 8 1 10 -1 50 -5 94 -10 134 -13 146 -10 78 -13 86 0 18 -616 0 0-18 -13-80 -14-109 0-432 20-4 20-3 70-6 98-4z"/>
<path fill="#1c1c1c" d="M1694 182l43 0 40 2 62 5 48 5 22 4 19 6 10 6 4 4 3 6 2 10 0 14 -1 48 -5 86 -12 150 -13 132 -10 74 -14 88 0 18 -583 0 -1-18 -14-88 -11-82 -18-195 0-250 20-7 20-4 32-4 52-4 114-4z"/>
<path fill="#1c1c1c" d="M1571 184l162-1 38 1 46 4 53 6 32 6 12 4 8 4 5 4 4 6 2 8 2 10 1 34 -2 34 -5 62 -25 268 -10 82 -17 106 0 18 -552 0 0-18 -14-80 -11-74 -6-52 -6-68 -9-114 -7-108 -4-84 0-14 2-8 3-6 3-4 11-6 22-6 27-4 44-4 53-3z"/>
<path fill="#1e1e1e" d="M1669 184l58-1 36 2 54 4 48 6 24 5 17 6 6 4 4 4 5 10 3 18 2 26 -1 22 -3 44 -32 298 -9 78 -17 110 0 20 -523 0 0-18 -15-80 -11-74 -6-54 -8-74 -9-118 -8-112 -3-72 1-12 2-8 4-6 5-4 14-6 30-6 37-4 53-3 62-3z"/>
<path fill="#1e1e1e" d="M1557 186l172-2 34 2 42 3 50 7 29 6 10 4 6 4 6 6 3 6 5 18 3 22 0 22 -3 34 -40 346 -21 156 0 20 -495 0 -1-18 -14-76 -12-72 -7-52 -6-60 -10-110 -8-104 -5-100 0-16 1-10 3-6 3-4 9-6 19-6 23-4 40-4 42-3z"/>
<path fill="#202020" d="M1651 186l66-1 34 1 52 4 44 6 26 6 10 4 6 4 5 4 4 6 6 14 4 18 2 18 -1 18 -2 32 -7 54 -15 106 -12 94 -26 220 -3 28 0 18 -469 0 -1-18 -16-78 -13-74 -7-54 -8-70 -11-118 -8-112 -3-76 1-14 2-8 2-4 5-4 13-6 25-6 32-4 49-3 56-3z"/>
<path fill="#202020" d="M1692 186l45 0 44 3 45 5 21 4 14 4 16 6 9 8 5 6 4 8 6 18 2 14 1 16 -4 44 -8 60 -17 108 -14 107 -20 180 -4 45 -1 18 -444 0 0-18 -18-76 -13-74 -8-54 -8-68 -11-118 -9-114 -4-78 1-14 2-8 3-4 4-4 8-4 8-3 25-5 35-4 44-3 54-2z"/>
<path fill="#222222" d="M1636 188l77-2 34 1 50 4 42 7 22 7 8 4 7 5 6 6 5 8 7 18 3 14 1 16 -3 38 -7 56 -19 116 -16 114 -18 173 -4 47 -1 20 -420 0 0-18 -18-70 -14-70 -8-52 -7-56 -13-110 -9-106 -7-108 0-18 2-10 3-6 3-4 11-6 23-6 28-4 43-3 50-3z"/>
<path fill="#232323" d="M1675 188l54-1 38 2 44 5 20 4 15 4 10 4 7 4 12 10 5 8 5 8 6 18 2 12 0 14 -3 38 -8 60 -19 109 -16 111 -6 53 -10 106 -5 63 -1 20 -396 0 -1-18 -18-70 -15-68 -10-54 -8-60 -13-114 -10-110 -6-100 0-16 2-10 2-4 4-4 6-4 9-3 20-5 32-4 38-3 48-2z"/>
<path fill="#242424" d="M1705 188l38 0 40 3 36 6 25 7 16 8 7 6 5 6 10 16 3 10 3 10 1 12 0 14 -5 50 -8 52 -19 105 -10 66 -8 62 -14 151 -4 48 0 20 -371 0 -1-18 -20-65 -16-65 -10-52 -9-56 -14-112 -11-110 -8-112 0-18 2-11 3-5 4-4 12-6 26-6 29-3 34-3 46-2z"/>
<path fill="#242424" d="M1664 190l57-1 34 1 42 4 20 4 14 4 12 4 7 4 13 10 7 8 5 8 5 10 3 10 2 12 0 16 -5 50 -8 54 -19 103 -10 65 -8 62 -14 150 -3 52 -1 20 -344 0 -1-12 0-6 -21-58 -18-63 -11-51 -9-50 -16-110 -12-106 -10-124 -1-24 2-12 2-6 4-4 9-6 22-6 24-3 28-3 46-3z"/>
<path fill="#262626" d="M1688 190l45-1 34 2 36 5 29 8 17 9 7 5 7 7 7 9 4 8 6 18 2 12 0 14 -6 52 -8 52 -19 103 -10 64 -8 62 -12 133 -5 64 0 24 -315 0 0-12 -1-6 -13-28 -10-25 -10-27 -10-32 -14-52 -10-52 -17-106 -13-108 -7-64 -5-64 -1-26 2-14 2-6 4-4 10-6 14-4 27-4 34-3 38-2z"/>
<path fill="#272727" d="M1715 190l34 1 36 4 28 5 22 8 16 9 12 13 10 16 5 18 1 12 0 12 -7 58 -8 48 -17 90 -10 64 -8 59 -5 43 -7 87 -5 75 -1 28 -277 0 -1-16 -16-25 -12-22 -12-25 -12-30 -16-50 -14-56 -19-104 -15-111 -7-67 -6-66 -1-30 1-14 3-6 4-4 11-6 15-4 26-4 60-4z"/>
<path fill="#282828" d="M1678 192l47-1 32 1 36 5 28 7 10 4 10 5 8 6 7 7 7 8 5 8 4 10 3 10 1 12 0 12 -6 54 -8 50 -19 100 -10 64 -8 61 -12 135 -4 62 -1 28 -210 0 -1-12 -2-6 -32-24 -18-17 -18-24 -17-31 -15-34 -14-41 -11-39 -11-53 -18-103 -14-104 -6-58 -3-48 0-16 3-10 6-6 12-6 16-4 26-3 50-4z"/>
<path fill="#282828" d="M1696 192l39-1 32 3 32 5 24 7 18 10 8 6 7 8 6 8 5 8 3 8 2 10 2 12 -1 12 -7 60 -6 40 -19 98 -10 62 -8 61 -5 43 -7 89 -5 67 -1 32 -180 0 -1-14 -2-10 -7-20 -8-15 -12-14 -30-24 -18-18 -10-14 -8-13 -10-18 -8-18 -14-39 -12-45 -15-64 -13-70 -13-88 -9-92 -2-32 2-8 3-6 8-6 11-4 18-4 16-2 48-3 88-3z"/>
<path fill="#2a2a2a" d="M1674 194l45-2 30 1 36 4 28 7 12 5 9 5 9 6 8 7 7 9 5 8 4 8 2 10 2 12 0 12 -7 58 -8 50 -17 89 -11 65 -7 56 -5 48 -7 83 -5 71 -1 34 -167 0 -1-20 -8-39 -8-29 -8-20 -6-10 -8-11 -32-29 -14-17 -15-23 -13-28 -12-34 -12-40 -10-40 -10-46 -14-80 -11-88 -4-48 1-10 3-8 7-6 9-4 15-4 14-2 44-4z"/>
<path fill="#2b2b2b" d="M1688 194l39-1 30 1 32 5 26 8 10 4 10 6 8 6 7 7 7 8 5 8 4 10 2 8 1 12 0 12 -7 56 -8 48 -17 89 -12 73 -6 47 -5 51 -7 79 -5 75 -2 34 -157 0 -2-28 -8-53 -8-39 -8-29 -8-22 -8-15 -8-12 -23-26 -11-15 -14-24 -12-26 -14-39 -13-42 -11-48 -11-56 -10-66 -6-54 0-10 1-8 2-6 4-4 6-4 10-4 16-3 18-3z"/>
<path fill="#2c2c2c" d="M1703 194l32 0 30 2 28 5 24 8 18 10 15 13 6 8 4 8 3 8 3 10 1 10 0 12 -7 58 -8 46 -17 88 -12 74 -6 46 -6 52 -6 77 -5 75 -2 36 -150 0 0-18 -3-25 -8-63 -10-58 -10-43 -8-24 -10-24 -10-19 -23-38 -11-19 -12-25 -10-26 -12-38 -10-39 -10-46 -8-46 -5-39 0-18 2-6 2-4 4-4 7-4 13-4 27-4z"/>
<path fill="#2c2c2c" d="M1683 196l40-2 28 1 32 5 26 7 12 5 10 6 8 6 8 8 7 8 4 8 3 8 3 10 1 10 0 12 -7 58 -8 46 -17 88 -12 74 -6 46 -6 52 -6 76 -5 76 -2 36 -143 0 -1-18 -3-34 -10-86 -8-54 -12-57 -10-36 -10-28 -14-35 -28-64 -13-36 -18-60 -11-44 -4-32 0-20 2-10 3-4 5-4 17-6 24-4z"/>
<path fill="#2e2e2e" d="M1694 196l35-1 28 2 30 5 24 7 10 5 10 6 8 6 8 8 9 14 3 8 3 10 1 10 0 12 -7 58 -8 46 -17 88 -12 72 -6 49 -6 53 -6 75 -5 75 -2 36 -138 0 -3-53 -10-97 -8-60 -10-54 -10-41 -18-64 -14-43 -39-112 -5-16 -3-16 -2-24 1-20 1-6 3-6 3-4 5-4 15-6 31-6 59-8z"/>
<path fill="#2f2f2f" d="M1707 196l30 0 28 2 26 6 23 8 19 11 13 13 6 8 4 8 4 16 1 12 0 10 -7 58 -8 46 -17 87 -11 69 -7 52 -5 52 -7 77 -5 73 -2 36 -132 0 -4-66 -9-89 -6-50 -10-62 -10-47 -20-81 -26-89 -18-50 -5-22 -1-24 3-18 4-8 4-6 10-8 9-4 13-4 28-6 43-6z"/>
<path fill="#303030" d="M1690 198l35-2 26 1 32 6 24 7 20 11 8 6 8 7 6 8 4 8 3 8 3 10 0 20 -7 62 -8 44 -17 89 -10 61 -6 46 -6 52 -6 68 -6 78 -3 52 -127 0 -4-63 -8-90 -6-54 -10-66 -18-87 -12-50 -18-68 -17-52 -6-24 -1-20 3-18 7-14 5-6 7-6 8-4 9-4 22-6 32-6z"/>
<path fill="#303030" d="M1699 198l32-1 26 2 28 5 24 8 18 10 8 7 7 7 10 14 3 8 2 10 1 12 0 10 -8 62 -8 44 -17 89 -10 61 -6 45 -6 55 -6 68 -6 78 -2 48 -124 0 -4-75 -8-91 -6-54 -8-54 -18-92 -14-61 -14-56 -15-47 -6-24 0-20 1-10 3-8 8-14 11-11 16-8 22-7 31-6z"/>
<path fill="#323232" d="M1710 198l27 0 28 3 26 5 20 8 18 11 13 13 6 8 4 8 4 16 0 20 -8 64 -25 133 -10 62 -6 46 -6 55 -6 69 -6 78 -2 43 -119 0 -3-56 -8-99 -6-58 -8-58 -18-97 -14-64 -12-50 -15-48 -6-24 0-20 2-10 3-8 4-8 4-6 6-6 8-6 16-8 24-7 32-6z"/>
<path fill="#333333" d="M1694 200l33-2 26 2 28 5 24 8 18 9 8 6 8 8 9 14 4 8 2 10 1 20 -7 60 -8 44 -17 87 -11 69 -7 48 -6 56 -6 72 -6 78 -2 38 -115 0 -3-63 -8-99 -6-58 -8-58 -18-99 -14-64 -10-43 -15-48 -4-20 -1-20 4-16 7-14 12-12 15-9 19-7 25-6z"/>
<path fill="#343434" d="M1702 200l29-1 26 2 28 6 22 8 18 10 14 13 9 14 3 8 2 10 0 20 -7 62 -8 42 -17 88 -10 61 -6 44 -7 61 -7 82 -6 74 -1 36 -112 0 -3-66 -6-78 -6-64 -8-62 -18-103 -12-57 -12-53 -15-49 -4-22 0-18 4-16 7-14 13-12 15-9 20-7 26-6z"/>
<path fill="#343434" d="M1711 200l26 0 26 2 26 7 20 8 16 10 8 6 6 7 5 8 4 8 4 16 0 20 -8 62 -25 132 -10 61 -6 45 -6 56 -8 88 -5 70 -2 34 -107 0 -4-68 -6-79 -6-63 -8-64 -18-103 -12-59 -11-48 -14-48 -4-22 0-18 4-16 8-14 12-12 17-9 22-8 26-6z"/>
<path fill="#363636" d="M1726 200l25 1 24 5 22 6 18 9 15 11 10 12 7 14 4 16 -1 22 -8 62 -23 120 -11 64 -5 39 -7 67 -7 72 -6 75 -2 45 -104 0 -4-68 -6-80 -6-64 -8-64 -18-104 -12-59 -10-45 -15-54 -3-18 1-20 2-8 3-8 5-8 5-6 14-11 19-9 23-7 28-5z"/>
<path fill="#373737" d="M1704 202l29-1 24 2 26 5 22 9 18 11 13 12 9 14 2 8 2 10 1 10 -1 12 -8 64 -24 124 -10 61 -6 44 -7 61 -7 79 -6 76 -2 37 -100 0 -4-68 -6-80 -6-64 -8-65 -16-95 -14-70 -10-44 -13-46 -4-22 0-18 4-14 8-14 11-11 16-10 18-8 24-5z"/>
<path fill="#383838" d="M1711 202l26-1 26 3 24 6 20 9 16 10 13 13 8 14 4 16 0 20 -8 64 -23 119 -11 69 -6 38 -7 66 -6 64 -7 82 -2 46 -98 0 -3-66 -6-80 -6-64 -8-67 -16-95 -12-62 -10-48 -14-52 -4-20 0-18 4-16 8-12 12-12 16-10 20-7 24-6z"/>
<path fill="#383838" d="M1722 202l23 1 26 4 22 6 18 9 14 10 11 12 8 14 3 16 0 10 -1 12 -8 62 -23 122 -10 62 -6 41 -7 65 -7 72 -6 76 -3 44 -94 0 -3-62 -6-82 -6-64 -8-68 -16-97 -12-61 -11-52 -14-52 -3-18 1-18 2-8 3-8 8-12 14-12 16-9 22-7 26-6z"/>
<path fill="#3a3a3a" d="M1704 204l27-2 24 2 24 5 24 10 18 11 13 12 8 14 4 16 0 18 -8 64 -25 130 -10 61 -5 39 -7 60 -8 84 -6 73 -2 39 -91 0 -3-60 -7-88 -5-58 -9-72 -15-94 -12-62 -10-48 -13-50 -5-22 1-18 4-14 6-12 11-11 14-9 18-8 22-6z"/>
<path fill="#3b3b3b" d="M1710 204l25-1 22 2 24 6 22 8 17 11 12 12 8 14 4 16 0 20 -8 64 -23 122 -11 64 -5 39 -8 71 -8 84 -6 72 -1 32 -88 0 -4-70 -7-88 -6-62 -8-66 -16-96 -12-62 -10-46 -13-48 -2-16 0-18 4-14 7-12 12-12 14-9 20-8 22-6z"/>
<path fill="#3c3c3c" d="M1718 204l23 0 24 3 22 6 20 9 14 10 12 13 7 13 4 16 0 10 -1 14 -8 62 -22 114 -12 70 -5 34 -7 64 -8 81 -7 77 -2 40 -85 0 -3-68 -7-85 -6-63 -8-67 -16-97 -12-62 -10-48 -13-48 -2-16 0-18 4-14 7-12 12-12 16-10 20-7 24-6z"/>
<path fill="#3c3c3c" d="M1704 206l25-2 22 2 26 5 22 8 18 11 13 12 8 14 4 16 0 20 -8 64 -23 121 -11 65 -5 37 -8 70 -8 82 -6 71 -2 38 -82 0 -4-68 -6-79 -6-64 -8-68 -16-99 -12-63 -10-47 -13-50 -2-16 0-16 3-14 7-12 9-10 14-10 16-8 20-6z"/>
<path fill="#3e3e3e" d="M1709 206l24-1 24 2 24 6 20 8 17 11 12 12 8 14 3 16 1 10 -1 14 -9 62 -21 112 -12 71 -5 33 -15 143 -7 81 -3 40 -79 0 -3-62 -6-82 -6-61 -9-75 -15-95 -12-63 -10-48 -11-44 -5-24 1-16 3-14 7-12 11-12 14-9 18-8 20-5z"/>
<path fill="#3f3f3f" d="M1715 206l22-1 24 3 24 7 18 8 16 10 12 13 7 14 2 14 0 20 -8 64 -23 119 -11 65 -5 36 -16 149 -7 75 -2 38 -76 0 -4-66 -6-84 -9-87 -6-48 -16-98 -10-53 -10-49 -13-53 -3-18 1-16 4-14 7-12 10-10 14-9 20-8 22-6z"/>
<path fill="#404040" d="M1723 206l22 1 24 4 20 6 18 9 14 10 10 12 6 12 3 16 0 10 -2 16 -7 58 -22 112 -16 100 -9 78 -9 86 -6 70 -2 34 -74 0 -3-66 -7-82 -6-64 -8-69 -20-120 -16-81 -13-52 -4-22 1-16 4-14 8-12 13-12 15-9 20-7 22-5z"/>
<path fill="#404040" d="M1707 208l26-2 22 2 22 5 22 9 16 10 12 12 8 14 3 16 0 20 -8 64 -23 119 -11 65 -5 36 -18 166 -6 68 -2 28 -70 0 -4-66 -6-78 -8-80 -7-60 -15-92 -12-64 -10-48 -11-46 -4-20 0-14 3-14 6-12 10-11 13-9 17-8 20-6z"/>
<path fill="#424242" d="M1712 208l21-1 22 2 24 6 20 8 15 9 12 12 8 14 4 16 0 10 -1 12 -8 64 -22 112 -16 100 -18 161 -7 73 -2 34 -68 0 -3-62 -7-84 -9-90 -6-49 -16-97 -10-54 -10-50 -13-52 -2-16 0-16 4-14 7-12 9-10 13-9 18-8 20-6z"/>
<path fill="#424242" d="M1717 208l22 0 24 3 22 6 18 9 14 10 11 12 6 14 3 14 -1 22 -8 60 -23 120 -15 96 -19 168 -6 68 -2 30 -65 0 -4-64 -7-82 -14-134 -20-121 -12-62 -17-73 -3-20 1-16 4-14 8-12 9-9 14-9 18-7 20-6z"/>
<path fill="#444444" d="M1725 208l20 1 22 3 20 7 18 9 13 10 10 12 5 12 3 14 0 10 -2 16 -7 58 -22 112 -16 99 -19 171 -7 70 -1 28 -63 0 -4-64 -6-80 -10-95 -6-49 -18-109 -14-72 -15-65 -4-22 1-16 4-14 8-12 11-10 15-9 20-8 20-4z"/>
<path fill="#444444" d="M1709 210l24-2 20 2 22 5 22 9 16 10 11 12 8 14 3 14 -1 20 -8 64 -23 120 -15 94 -19 172 -7 68 -2 28 -59 0 -4-61 -7-81 -15-140 -18-110 -14-73 -15-67 -4-22 0-16 3-12 7-12 9-10 12-9 16-7 18-6z"/>
<path fill="#464646" d="M1713 210l22-1 22 2 22 6 20 9 15 10 11 12 7 14 2 14 -1 20 -8 62 -22 116 -16 98 -20 176 -7 68 -1 24 -57 0 -4-62 -7-84 -10-96 -6-46 -18-110 -12-63 -17-75 -3-20 1-16 3-12 7-12 9-9 14-9 16-7 18-6z"/>
<path fill="#464646" d="M1718 210l21-1 22 4 20 5 18 8 14 10 11 12 6 12 3 16 0 10 -1 14 -8 60 -21 110 -16 96 -21 182 -7 66 -1 26 -54 0 -4-60 -7-80 -16-143 -18-110 -14-74 -15-67 -4-22 1-14 3-14 8-12 9-9 13-9 17-7 20-6z"/>
<path fill="#484848" d="M1724 210l21 0 22 4 20 7 16 8 12 10 9 11 6 12 3 16 -1 10 -2 26 -6 44 -23 117 -15 91 -22 186 -6 64 -2 24 -51 0 -4-60 -7-84 -17-144 -18-111 -16-83 -13-56 -3-18 1-16 4-12 7-12 10-10 16-10 18-7 20-4z"/>
<path fill="#484848" d="M1709 212l22-2 20 2 24 5 20 8 16 11 11 12 6 12 4 16 0 10 -2 14 -7 60 -22 111 -16 96 -23 191 -6 60 -1 22 -48 0 -4-58 -8-83 -16-143 -18-110 -18-92 -11-50 -4-20 1-14 3-12 5-10 9-10 13-9 14-7 18-6z"/>
<path fill="#4a4a4a" d="M1713 212l22-1 20 2 22 5 20 9 14 10 10 11 7 12 3 16 -1 20 -8 62 -22 116 -15 90 -24 194 -6 62 -2 20 -45 0 -4-58 -8-86 -17-146 -18-109 -16-83 -13-56 -3-18 1-14 3-12 7-12 9-9 12-9 16-7 18-6z"/>
<path fill="#4a4a4a" d="M1717 212l20-1 22 3 22 6 18 9 12 9 11 12 6 12 2 16 0 10 -3 24 -6 46 -22 115 -15 91 -24 198 -7 58 -1 20 -42 0 -4-56 -9-86 -16-144 -18-108 -18-92 -11-50 -3-20 1-16 3-12 6-10 10-10 12-8 16-7 18-6z"/>
<path fill="#4d4d4d" d="M1722 212l17 0 22 3 20 6 18 9 12 8 10 12 6 12 2 16 0 10 -3 30 -6 42 -21 108 -16 95 -25 205 -6 52 -2 20 -38 0 -5-52 -9-90 -17-148 -16-100 -18-92 -13-56 -2-18 1-16 3-12 6-10 10-10 13-8 16-7 20-6z"/>
<path fill="#505050" d="M1717 214l20-1 20 3 20 5 18 8 14 10 9 11 6 12 3 16 0 10 -3 28 -6 44 -22 108 -15 89 -35 263 -2 20 -26 0 -16-146 -17-144 -18-104 -17-90 -12-54 -3-18 1-14 3-12 6-10 9-10 13-9 14-6 18-6z"/>
<path fill="#545454" d="M1714 216l19-2 20 2 22 6 18 8 14 10 10 12 5 12 2 16 -3 40 -5 36 -22 112 -14 76 -27 194 -8 50 -10 52 -7 0 -5-25 -12-82 -24-188 -16-94 -18-94 -12-53 -3-22 1-14 3-10 6-10 8-8 11-8 14-7 16-6z"/>
<path fill="#575757" d="M1727 216l18 1 20 4 18 6 14 8 11 9 9 12 4 12 1 14 -4 40 -5 34 -22 113 -14 75 -16 114 -12 76 -10 47 -4 11 -2 2 -2 1 -2-3 -4-12 -6-29 -13-87 -16-122 -16-90 -15-79 -15-71 -3-20 1-12 4-12 5-10 10-10 14-9 16-6 18-5z"/>
<path fill="#5b5b5b" d="M1720 218l17-1 20 3 18 5 18 9 12 10 8 10 5 12 2 14 -4 42 -6 38 -21 107 -14 75 -14 97 -8 48 -6 31 -6 26 -4 11 -2 4 -2 1 -2 0 -4-8 -4-13 -5-23 -11-69 -14-105 -16-89 -14-75 -15-72 -4-24 1-14 3-10 7-10 7-8 11-7 14-7 16-5z"/>
<path fill="#5e5e5e" d="M1715 220l20-2 18 2 18 5 18 9 12 8 10 12 5 12 2 14 -4 42 -6 38 -21 105 -14 77 -20 124 -6 29 -6 23 -4 10 -2 3 -2 1 -2-1 -2-3 -4-10 -10-45 -7-41 -13-92 -16-90 -29-144 -3-22 1-14 2-10 6-10 7-8 10-7 12-6 14-5z"/>
<path fill="#626262" d="M1725 220l16 0 18 3 18 6 14 8 11 9 8 10 4 12 2 12 -4 42 -6 38 -36 182 -17 104 -6 28 -6 21 -4 9 -2 3 -2 0 -4-4 -4-10 -9-39 -18-112 -17-92 -29-146 -3-22 1-12 4-12 6-10 9-8 10-7 14-6 16-5z"/>
<path fill="#666666" d="M1718 222l17-1 18 2 18 5 16 8 11 8 8 10 6 12 2 14 -5 44 -5 38 -37 182 -15 90 -5 21 -6 20 -4 8 -2 2 -2 0 -4-4 -4-9 -8-32 -16-96 -16-90 -29-144 -4-28 1-12 2-10 5-8 7-8 10-8 12-6 14-5z"/>
<path fill="#696969" d="M1730 222l15 1 18 4 16 6 12 7 9 8 7 10 3 10 2 14 -5 44 -5 36 -38 182 -13 76 -5 22 -5 15 -4 8 -2 1 -2 1 -4-5 -4-10 -7-26 -13-80 -46-234 -5-30 1-14 4-10 6-9 8-8 12-7 14-6 16-4z"/>
<path fill="#6d6d6d" d="M1721 224l16-1 16 2 18 6 14 7 11 8 7 10 5 12 2 12 -1 10 -6 50 -11 60 -30 144 -15 76 -6 20 -4 7 -2 2 -2 0 -4-5 -4-10 -4-16 -13-72 -46-228 -6-34 1-12 2-10 4-8 8-9 10-8 12-6 14-4z"/>
<path fill="#707070" d="M1716 226l17-2 14 1 18 5 16 7 12 9 8 10 5 12 2 12 0 10 -7 54 -11 60 -43 197 -6 22 -4 7 -2 2 -2-1 -4-5 -4-11 -4-16 -56-277 -7-38 1-10 2-10 3-8 7-9 9-7 10-6 13-5z"/>
<path fill="#747474" d="M1722 226l15-1 16 2 16 5 14 8 10 8 8 10 4 10 1 12 0 10 -8 58 -12 62 -21 98 -20 83 -6 18 -4 5 -2 0 -2-3 -6-15 -20-86 -37-184 -8-42 1-12 3-10 4-8 7-8 8-6 12-7 14-4z"/>
<path fill="#777777" d="M1717 228l16-2 14 1 16 4 16 8 10 7 9 10 4 10 2 14 0 10 -7 58 -13 66 -22 94 -15 59 -6 20 -4 7 -2 2 -2-1 -2-2 -6-16 -18-70 -37-179 -8-44 1-10 2-10 4-8 6-8 8-7 10-5 12-5z"/>
<path fill="#7b7b7b" d="M1723 228l14-1 16 3 16 5 12 6 10 9 6 8 4 10 2 12 -4 42 -5 30 -14 68 -25 105 -12 40 -4 9 -4 4 -2-1 -2-2 -4-8 -10-33 -8-29 -30-143 -10-46 -5-32 1-10 2-10 4-8 6-8 10-8 10-5 12-4z"/>
<path fill="#7e7e7e" d="M1718 230l15-2 14 1 16 5 14 6 10 8 8 10 4 10 2 12 -4 42 -4 30 -15 70 -19 79 -6 21 -12 33 -4 6 -2 1 -2 0 -2-3 -6-12 -8-23 -6-22 -18-80 -13-60 -8-44 -6-34 0-10 2-8 4-8 6-8 7-7 10-5 10-5z"/>
<path fill="#828282" d="M1724 230l13-1 14 2 14 5 12 6 10 8 7 8 4 10 2 12 -5 42 -4 30 -15 70 -19 76 -5 18 -9 23 -4 7 -4 2 -4-2 -6-11 -6-15 -6-22 -21-90 -17-84 -7-40 0-10 3-10 4-8 6-7 9-7 9-5 12-4z"/>
<path fill="#858585" d="M1718 232l15-2 12 1 14 4 14 6 10 7 7 8 6 10 2 12 0 10 -8 60 -15 72 -24 89 -8 20 -4 6 -4 2 -4-2 -6-10 -6-15 -6-21 -16-66 -13-59 -8-44 -6-36 0-10 2-8 3-8 6-7 8-7 8-5 10-4z"/>
<path fill="#898989" d="M1724 232l13-1 14 2 14 5 11 6 10 8 5 8 4 10 1 10 -4 42 -5 30 -14 68 -18 66 -6 19 -8 17 -4 4 -2 1 -4-2 -6-10 -6-15 -6-21 -14-56 -13-59 -8-42 -7-38 1-10 2-10 5-8 5-6 7-6 10-5 12-5z"/>
<path fill="#8d8d8d" d="M1719 234l14-2 12 1 14 4 12 5 10 7 7 9 5 10 2 10 -1 12 -8 60 -15 68 -22 78 -8 17 -4 4 -2 1 -2-1 -4-4 -6-12 -6-18 -12-44 -18-81 -8-36 -6-38 1-10 1-8 4-8 5-6 7-6 8-5 10-4z"/>
<path fill="#909090" d="M1724 234l13-1 12 2 12 4 12 6 9 7 6 8 4 10 1 10 -5 44 -4 28 -15 66 -14 50 -8 24 -6 12 -4 4 -2 1 -2-1 -4-4 -6-12 -6-18 -12-43 -17-73 -7-38 -6-36 0-10 2-8 4-8 5-6 7-6 10-6 10-4z"/>
<path fill="#949494" d="M1719 236l12-2 12 1 14 3 12 6 9 6 7 8 5 10 2 10 -1 10 -8 60 -14 64 -8 29 -14 42 -6 12 -4 4 -2 0 -2 0 -4-5 -6-12 -16-52 -17-72 -7-36 -7-38 1-8 1-8 4-8 4-6 6-6 7-4 10-5z"/>
<path fill="#979797" d="M1724 236l11-1 12 1 12 4 12 6 7 6 7 8 4 10 1 10 0 10 -9 60 -14 63 -8 27 -12 34 -6 12 -4 4 -2 0 -4-2 -6-10 -8-22 -9-30 -16-68 -8-36 -6-38 1-10 2-8 4-8 4-5 6-5 9-6 9-3z"/>
<path fill="#9b9b9b" d="M1731 236l12 1 12 3 10 4 9 6 6 6 5 8 3 8 1 10 -5 44 -5 26 -14 61 -8 26 -10 27 -6 11 -4 4 -2 0 -4-2 -6-10 -8-20 -8-25 -17-70 -6-34 -6-38 1-10 2-8 4-7 6-6 8-6 10-5 10-3z"/>
<path fill="#9e9e9e" d="M1723 238l12-1 10 1 14 4 10 5 8 7 6 8 3 8 1 10 0 10 -8 58 -14 58 -8 26 -10 26 -6 11 -4 3 -2 1 -4-3 -6-9 -8-20 -7-21 -16-64 -13-72 1-8 1-8 4-8 4-6 8-6 6-4 10-4z"/>
<path fill="#a2a2a2" d="M1730 238l9 0 12 2 10 4 10 6 6 6 5 8 3 8 1 10 -9 68 -14 56 -8 25 -8 19 -6 11 -4 3 -2 1 -4-3 -6-9 -8-19 -6-18 -15-62 -7-34 -6-38 0-8 2-8 5-8 5-6 8-5 8-4 10-4z"/>
<path fill="#a5a5a5" d="M1723 240l12-1 10 1 10 3 11 5 7 6 7 8 3 8 1 10 0 8 -8 58 -4 18 -9 35 -7 23 -7 18 -8 13 -4 4 -2 0 -4-2 -6-9 -6-14 -7-20 -15-58 -13-70 1-8 1-8 3-6 4-6 6-5 7-5 9-4z"/>
<path fill="#a9a9a9" d="M1729 240l10 0 10 2 10 4 8 4 7 6 5 8 3 8 1 8 0 8 -9 58 -4 18 -8 30 -7 24 -6 15 -8 13 -4 3 -2 1 -4-2 -6-9 -6-13 -6-18 -15-56 -6-30 -6-40 0-8 3-8 3-6 5-6 6-5 8-4 8-3z"/>
<path fill="#acacac" d="M1723 242l10-1 10 0 12 4 10 5 7 6 5 7 3 7 2 10 -1 8 -8 56 -4 19 -8 29 -8 25 -6 14 -6 9 -4 3 -2 0 -4-2 -6-8 -6-14 -6-18 -13-49 -13-68 2-14 2-6 4-6 6-6 6-4 8-4z"/>
<path fill="#b0b0b0" d="M1729 242l8 0 10 1 10 4 9 5 6 6 4 6 3 8 1 8 0 8 -8 54 -4 20 -7 24 -8 24 -6 14 -6 10 -4 3 -2 0 -4-2 -6-9 -6-13 -6-19 -12-45 -12-65 0-8 2-8 3-6 5-6 6-5 6-4 8-3z"/>
<path fill="#b3b3b3" d="M1723 244l10-1 8 0 10 3 10 4 7 6 5 6 4 8 2 10 -1 8 -6 46 -5 22 -4 16 -8 26 -8 20 -6 9 -4 3 -2 1 -4-3 -6-8 -6-14 -6-18 -11-42 -12-62 2-14 3-6 4-6 10-8z"/>
<path fill="#b7b7b7" d="M1728 244l9 0 8 1 9 3 9 5 6 5 4 6 3 8 1 8 0 8 -6 42 -8 36 -8 26 -8 20 -6 9 -4 3 -2 0 -4-2 -6-9 -6-14 -6-18 -10-39 -11-58 2-14 2-6 4-6 7-6 6-3 8-3z"/>
<path fill="#bbbbbb" d="M1724 246l9-1 8 0 10 3 9 4 7 6 4 6 4 8 1 8 0 8 -7 43 -8 35 -8 25 -6 14 -6 10 -4 3 -2 0 -4-2 -6-9 -6-14 -8-25 -8-34 -9-50 0-8 1-6 6-10 9-8z"/>
<path fill="#bebebe" d="M1729 246l8 0 8 1 8 3 8 4 6 6 4 6 2 6 1 8 0 8 -6 42 -8 34 -7 20 -6 15 -6 9 -4 3 -2 1 -4-3 -6-9 -6-14 -7-20 -8-34 -9-48 0-8 2-6 2-6 4-5 6-5 6-4z"/>
<path fill="#c2c2c2" d="M1724 248l9-1 8 0 10 3 7 4 7 6 4 5 3 7 1 8 0 8 -7 42 -7 31 -8 22 -6 13 -6 8 -4 1 -4-2 -6-9 -12-30 -8-34 -8-46 1-12 5-10 8-8z"/>
<path fill="#c5c5c5" d="M1729 248l8 0 8 1 8 3 6 4 5 4 4 6 2 6 2 8 -1 8 -6 40 -8 32 -6 17 -6 13 -6 8 -4 1 -4-2 -4-6 -6-12 -6-16 -8-32 -9-47 1-8 1-6 6-10 4-4 7-4z"/>
<path fill="#c9c9c9" d="M1725 250l8-1 8 0 8 3 8 4 5 4 4 6 3 6 1 8 0 8 -7 40 -7 30 -5 13 -6 13 -6 7 -4 2 -4-3 -4-5 -6-12 -5-13 -7-28 -9-48 1-12 5-10 9-8z"/>
<path fill="#cccccc" d="M1730 250l7 0 8 1 7 3 6 4 4 4 4 6 2 6 1 8 -8 48 -6 26 -4 10 -6 12 -6 7 -4 2 -4-3 -4-5 -6-12 -4-11 -7-26 -9-46 2-12 5-10 4-4 6-4z"/>
<path fill="#d0d0d0" d="M1726 252l7-1 8 0 8 3 6 3 5 5 4 6 2 6 1 6 0 8 -7 40 -7 26 -4 11 -6 10 -4 4 -4 2 -4-3 -4-5 -8-17 -7-26 -9-46 1-10 4-10 9-8z"/>
<path fill="#d3d3d3" d="M1732 252l7 0 6 2 6 2 5 4 4 4 3 6 3 12 -8 46 -7 25 -4 10 -4 7 -4 4 -4 1 -4-2 -4-5 -4-8 -4-10 -6-24 -9-44 3-12 5-8 9-7z"/>
<path fill="#d7d7d7" d="M1728 254l7-1 6 1 6 2 6 3 4 4 4 5 2 6 1 6 0 8 -7 36 -6 22 -4 11 -4 7 -4 4 -4 1 -4-2 -4-5 -6-14 -6-21 -9-43 1-10 4-9 8-7z"/>
<path fill="#dadada" d="M1726 256l7-2 6 1 6 1 6 3 5 5 3 4 2 6 1 6 0 8 -11 51 -7 17 -3 5 -4 3 -4-1 -3-3 -7-13 -6-20 -9-43 1-10 3-8 6-6z"/>
<path fill="#dedede" d="M1731 256l10 0 6 3 5 3 6 8 2 6 1 6 -8 40 -4 16 -4 10 -4 6 -2 3 -4 1 -4-2 -2-3 -6-13 -4-14 -10-42 1-10 4-8 7-6z"/>
<path fill="#e2e2e2" d="M1728 258l5-1 6 0 10 5 4 3 3 5 3 10 0 8 -12 47 -6 13 -4 4 -2 0 -2-1 -4-5 -5-12 -13-50 1-8 3-8 6-6z"/>
<path fill="#e5e5e5" d="M1727 260l10-2 6 2 4 2 5 4 3 4 2 10 0 8 -10 40 -6 13 -4 4 -2 0 -4-3 -6-13 -12-45 1-8 2-6 5-6z"/>
<path fill="#e9e9e9" d="M1733 260l8 1 8 5 5 8 2 8 -1 8 -10 34 -6 12 -4 1 -4-3 -4-8 -11-36 -1-8 1-8 3-6 6-5z"/>
<path fill="#ececec" d="M1732 262l7 0 8 4 5 8 2 8 -1 8 -10 30 -4 7 -2 2 -2 0 -2-1 -4-6 -10-29 -2-9 1-8 2-6 5-5z"/>
<path fill="#f0f0f0" d="M1731 264l8 0 6 3 4 5 3 8 -1 8 -8 22 -4 8 -2 2 -2 0 -2-1 -4-7 -8-20 -2-8 0-6 2-6 4-4z"/>
<path fill="#f3f3f3" d="M1732 266l7 0 6 4 4 6 1 6 -1 6 -6 14 -4 6 -2 2 -2 1 -2-2 -4-5 -6-13 -2-7 1-6 2-6 4-4z"/>
<path fill="#f7f7f7" d="M1734 268l5 1 5 3 2 4 1 6 -1 6 -3 7 -4 5 -4 2 -4-3 -4-6 -3-7 0-4 1-6 2-4 4-3z"/>
<path fill="#fafafa" d="M1732 272l3-1 4 1 4 4 1 4 0 4 -1 4 -3 4 -3 3 -2 0 -4-3 -4-8 0-4 1-4z"/>
<path fill="#fefefe" d="M1735 276l2 0 2 2 1 4 -1 4 -2 2 -2 0 -3-2 -1-4 1-4z"/>
</g></g></g>
<g clip-path="url(#kpe)"><g filter="url(#cm)"><rect x="632.5" y="520" width="368.5" height="339" fill="#0b0b0b"/><g transform="scale(.5)">
<path fill="#0c0c0c" d="M1265 1042l0-1 26-1 631 0 81 4 0 674 -738 0z"/>
<path fill="#0c0c0c" d="M1615 1042l55-2 150 0 67 6 116 6 0 666 -738 0 0-669 150-5z"/>
<path fill="#0e0e0e" d="M1729 1042l24-1 20 1 112 8 118 6 0 662 -738 0 0-665 154-5 220-2z"/>
<path fill="#0e0e0e" d="M1709 1046l40-1 30 0 122 9 102 6 0 658 -738 0 0-662 148-5 222-2z"/>
<path fill="#101010" d="M1715 1048l38-1 28 1 113 8 109 7 0 655 -738 0 0-659 152-6 220-2z"/>
<path fill="#101010" d="M1712 1050l41-1 30 1 220 15 0 653 -738 0 0-657 152-6 222-2z"/>
<path fill="#121212" d="M1703 1052l46-1 34 0 220 17 0 650 -738 0 0-655 152-6 222-3z"/>
<path fill="#121212" d="M1748 1052l29 0 32 2 194 17 0 564 -4 14 -11 51 -1 18 -722 0 0-653 72-4 74-2 228-3z"/>
<path fill="#141414" d="M1721 1054l40-1 38 2 152 13 52 6 0 438 -4 16 -19 96 -18 76 0 18 -697 0 0-651 68-4 76-3 86-2 146-1z"/>
<path fill="#141414" d="M1702 1056l55-2 44 2 146 14 33 4 23 4 0 309 -33 177 -15 68 -16 68 -1 18 -673 0 0-649 68-4 84-4 88-2 134-1z"/>
<path fill="#161616" d="M1729 1056l50 0 62 5 119 13 23 4 20 6 0 181 -4 20 -19 123 -16 86 -20 100 -25 106 -1 18 -631 0 0-18 -18-66 -4-12 0-551 66-5 80-3 88-2 144-2z"/>
<path fill="#161616" d="M1705 1058l50-1 40 1 68 7 79 9 23 4 20 6 11 6 3 4 4 6 0 33 -9 71 -8 64 -18 110 -16 92 -14 74 -18 80 -18 76 -1 18 -590 0 -1-18 -19-68 -22-87 -4-14 0-457 64-6 80-4 92-2 140-2z"/>
<path fill="#181818" d="M1729 1058l38 0 42 2 74 8 55 8 19 4 17 6 8 6 3 4 2 6 1 20 -3 42 -5 48 -8 56 -22 132 -16 90 -16 80 -29 130 -2 18 -553 0 0-18 -18-56 -16-56 -13-54 -18-81 -4-14 0-363 60-6 82-4 90-3 146-2z"/>
<path fill="#181818" d="M1703 1060l48-2 36 2 56 5 69 9 30 6 17 6 8 6 3 4 2 6 2 8 0 14 0 38 -5 44 -7 52 -24 144 -18 98 -14 72 -28 128 -1 18 -519 0 -1-18 -14-42 -13-40 -25-91 -17-71 -19-95 -4-16 0-266 24-3 33-4 79-5 92-3 150-2z"/>
<path fill="#1a1a1a" d="M1724 1060l37-1 40 3 58 6 52 8 24 6 13 6 6 4 3 4 4 10 3 26 0 28 -3 40 -5 38 -46 266 -12 62 -29 134 -1 18 -485 0 -1-12 0-6 -19-48 -16-48 -16-52 -14-56 -24-102 -28-145 0-165 22-5 24-4 32-3 48-3 98-4 156-2z"/>
<path fill="#1a1a1a" d="M1698 1062l51-2 36 1 54 6 56 8 28 7 13 6 6 4 3 4 3 6 3 8 4 24 1 26 -3 34 -5 40 -48 280 -10 52 -28 132 -1 20 -453 0 0-12 -1-6 -16-36 -13-34 -14-38 -12-40 -19-66 -18-72 -22-108 -28-155 0-58 12-7 20-6 26-4 42-4 100-5 170-3z"/>
<path fill="#1c1c1c" d="M1716 1062l45-1 42 3 60 7 27 5 16 4 16 6 7 4 4 4 4 6 3 6 5 18 3 20 1 22 -3 36 -5 34 -51 294 -34 168 -2 20 -418 0 0-12 -2-6 -15-30 -14-32 -14-34 -14-38 -20-62 -18-68 -23-98 -21-108 -18-108 -1-14 2-10 2-4 5-4 7-4 11-4 23-4 39-4 46-3 52-3 176-3z"/>
<path fill="#1c1c1c" d="M1737 1062l40 0 46 5 49 7 31 8 14 6 5 4 5 6 5 8 3 8 6 22 2 18 -1 20 -2 32 -5 32 -51 294 -34 166 -2 20 -381 0 0-12 -2-6 -17-28 -15-28 -16-34 -14-34 -22-60 -21-70 -25-96 -23-108 -20-118 -2-16 2-10 3-4 5-4 8-4 7-2 28-6 38-4 88-5 170-3z"/>
<path fill="#1e1e1e" d="M1707 1064l50-2 40 3 52 6 25 5 15 4 11 4 8 4 6 4 5 6 6 8 3 8 7 22 2 18 0 18 -2 34 -5 32 -11 61 -41 237 -33 163 -2 19 -338 0 0-12 -1-4 -21-26 -16-23 -16-27 -16-32 -14-30 -12-30 -23-66 -14-44 -13-46 -24-103 -14-69 -13-72 -3-22 1-12 4-6 5-4 14-6 18-4 36-4 42-3 48-3 162-3z"/>
<path fill="#1e1e1e" d="M1723 1064l42-1 42 3 48 8 20 4 13 4 16 8 7 6 5 6 9 18 6 22 2 16 0 18 -3 30 -4 32 -12 62 -42 242 -31 156 -3 20 -270 0 -1-12 -2-4 -26-16 -18-15 -20-21 -19-24 -15-24 -16-28 -15-32 -15-34 -16-42 -15-46 -15-51 -14-53 -17-72 -16-78 -8-46 -1-10 1-8 3-6 4-4 11-6 26-6 34-4 77-5 162-3z"/>
<path fill="#202020" d="M1746 1064l25 0 28 2 29 4 27 5 18 4 13 5 11 6 10 9 8 11 7 14 5 16 2 16 0 18 -2 30 -9 58 -8 40 -44 248 -30 150 -2 18 -205 0 -2-16 -4-6 -10-10 -16-12 -36-19 -16-10 -18-15 -16-16 -16-19 -16-23 -15-26 -15-29 -18-39 -16-43 -16-47 -16-54 -18-68 -16-72 -13-68 -2-14 0-8 2-6 3-4 5-4 7-3 19-5 35-5 80-5 152-3z"/>
<path fill="#202020" d="M1713 1066l46-1 38 2 46 7 20 4 12 4 10 4 8 5 6 5 7 8 7 10 4 10 5 12 2 10 1 14 0 18 -2 30 -5 30 -23 125 -31 179 -32 156 -2 20 -182 0 -2-16 -5-11 -14-24 -14-18 -10-10 -10-8 -36-23 -18-13 -18-17 -16-18 -22-32 -22-39 -21-45 -20-52 -19-58 -19-68 -18-76 -15-70 -1-10 1-8 3-6 4-4 14-6 29-6 36-4 40-2 160-4z"/>
<path fill="#222222" d="M1727 1066l38-1 42 4 40 7 17 4 11 4 8 4 9 6 6 6 7 8 9 18 4 10 3 12 1 14 0 18 -2 26 -5 30 -24 129 -31 179 -32 154 -2 20 -167 0 -2-18 -12-30 -14-29 -16-26 -10-12 -12-12 -48-37 -14-13 -13-13 -13-17 -14-20 -14-23 -14-26 -14-31 -13-33 -13-35 -13-41 -13-43 -13-49 -13-56 -7-36 -1-14 2-6 4-4 6-4 11-4 23-5 29-3 45-3 152-4z"/>
<path fill="#232323" d="M1704 1068l47-2 36 2 44 5 20 5 14 4 10 4 9 6 8 6 7 8 7 10 5 10 4 10 3 12 1 16 0 18 -3 26 -4 30 -23 120 -33 188 -31 152 -3 20 -154 0 -3-18 -16-47 -18-42 -16-30 -12-17 -14-17 -12-11 -36-32 -24-26 -14-18 -12-18 -12-21 -12-24 -24-56 -24-68 -23-79 -11-48 -6-28 -1-14 3-6 3-4 12-6 27-6 34-4 36-2 138-4z"/>
<path fill="#242424" d="M1716 1068l43-1 36 2 40 6 16 4 14 5 10 5 8 5 8 7 7 9 7 10 4 10 6 20 1 14 0 18 -2 26 -4 28 -25 127 -33 185 -31 151 -2 19 -144 0 -3-20 -25-75 -16-41 -20-41 -12-20 -14-18 -12-13 -38-38 -22-27 -22-34 -22-42 -21-49 -20-58 -21-71 -10-37 -3-18 -1-8 1-6 2-4 4-4 13-6 28-6 56-5 136-4z"/>
<path fill="#242424" d="M1729 1068l36 0 40 3 36 7 14 4 10 4 10 5 8 6 8 8 7 9 6 10 4 10 5 20 1 16 -1 20 -2 22 -5 28 -4 26 -7 29 -12 64 -33 187 -33 154 -2 18 -134 0 -3-20 -25-81 -16-46 -22-54 -14-29 -14-22 -14-18 -34-38 -18-22 -20-30 -18-32 -20-44 -20-52 -22-68 -8-32 -4-16 0-6 1-6 2-4 5-4 13-6 19-4 26-3 30-2 126-4z"/>
<path fill="#262626" d="M1750 1068l19 0 22 2 40 6 14 4 14 5 12 6 9 7 10 10 7 10 7 12 4 12 2 12 1 12 -2 36 -7 50 -9 42 -14 72 -31 176 -34 158 -2 18 -126 0 -3-21 -30-102 -26-78 -18-46 -12-26 -14-24 -16-23 -32-40 -16-22 -16-25 -16-29 -20-44 -20-52 -18-58 -3-14 0-8 1-4 2-4 9-6 13-4 24-5 40-3 116-4 86-7z"/>
<path fill="#272727" d="M1718 1070l41-1 34 2 38 6 14 4 12 5 10 5 10 7 8 8 7 8 6 10 4 8 4 10 2 12 1 16 -1 20 -2 22 -4 28 -6 28 -6 28 -13 67 -33 185 -33 152 -3 18 -117 0 -3-20 -29-104 -34-110 -16-45 -16-36 -16-30 -14-22 -44-63 -12-20 -13-24 -15-31 -14-34 -15-41 -6-24 0-10 2-4 4-4 12-6 19-4 37-4 111-5z"/>
<path fill="#282828" d="M1729 1070l36-1 36 4 32 6 12 4 12 5 10 5 9 7 8 8 7 8 5 8 5 10 3 10 2 12 1 16 -1 20 -2 20 -4 28 -6 28 -7 30 -12 63 -34 189 -33 150 -3 18 -109 0 -2-14 -3-12 -60-215 -12-38 -16-44 -16-38 -16-32 -14-24 -36-58 -23-41 -12-26 -12-28 -8-22 -3-14 0-6 1-4 6-6 8-4 19-4 30-4 98-5z"/>
<path fill="#282828" d="M1745 1070l32 1 34 4 28 7 20 8 9 6 9 8 8 8 6 8 5 8 4 10 3 10 2 12 0 16 -2 24 -7 46 -4 22 -7 28 -12 64 -35 190 -33 150 -3 18 -102 0 -3-20 -41-148 -23-90 -12-40 -18-54 -14-37 -14-32 -70-133 -16-36 -3-10 -2-8 0-4 2-4 7-6 10-4 20-4 26-3 74-4 88-9z"/>
<path fill="#2a2a2a" d="M1719 1072l38-1 32 2 34 5 14 4 12 5 10 5 10 7 8 7 9 10 5 8 5 10 4 10 2 12 1 16 -1 20 -2 20 -4 28 -6 28 -7 29 -13 65 -34 188 -34 150 -3 18 -94 0 -3-18 -40-148 -25-99 -28-95 -24-69 -38-89 -33-72 -5-16 0-6 4-6 7-4 14-4 27-4z"/>
<path fill="#2b2b2b" d="M1729 1072l34-1 34 3 30 6 12 4 12 5 10 6 9 7 8 8 7 8 6 10 5 10 3 10 2 10 0 16 -2 26 -7 48 -4 20 -7 28 -14 72 -34 182 -34 150 -4 18 -86 0 -3-18 -40-146 -25-105 -22-81 -22-72 -13-34 -30-92 -14-46 -2-10 1-6 3-6 7-4 12-4 22-4 87-12z"/>
<path fill="#2c2c2c" d="M1742 1072l31 0 32 4 26 7 12 4 10 5 9 6 9 7 8 8 7 9 4 8 5 10 2 10 2 12 0 16 -2 28 -8 52 -9 36 -14 68 -35 190 -36 150 -3 16 -79 0 -4-18 -39-146 -25-107 -20-77 -20-70 -13-38 -16-56 -9-36 -3-26 -1-20 2-12 5-8 10-6 11-4 16-4 44-8 50-7z"/>
<path fill="#2c2c2c" d="M1720 1074l37-2 32 3 32 6 24 8 10 6 10 7 9 8 7 8 6 10 5 10 3 10 2 10 1 16 -2 28 -4 26 -4 26 -10 40 -14 68 -36 190 -21 92 -15 58 -3 16 -72 0 -4-18 -39-146 -25-108 -20-79 -18-66 -11-35 -10-36 -8-32 -6-34 0-22 4-20 3-8 4-6 9-8 8-4 11-4 24-6 42-7z"/>
<path fill="#2e2e2e" d="M1729 1074l34-1 32 3 28 6 12 4 12 6 10 6 10 7 9 9 6 8 5 8 4 10 3 10 2 10 0 18 -2 28 -4 26 -5 28 -9 34 -13 66 -37 192 -22 92 -15 58 -4 16 -64 0 -3-16 -16-54 -26-96 -23-104 -22-89 -16-61 -9-30 -10-36 -7-30 -5-34 0-22 2-10 3-10 3-8 6-8 6-6 5-4 18-8 30-8 34-6z"/>
<path fill="#2f2f2f" d="M1740 1074l29 0 32 4 26 7 22 9 10 7 9 7 7 8 6 8 5 8 4 10 3 10 1 12 0 14 -1 22 -5 36 -6 30 -8 30 -13 64 -18 90 -17 90 -22 92 -19 70 -3 16 -57 0 -3-16 -17-54 -24-92 -24-106 -20-83 -18-70 -9-29 -8-30 -7-36 -5-34 1-22 5-18 4-8 5-8 6-6 8-6 16-8 29-8 37-6z"/>
<path fill="#303030" d="M1721 1076l36-2 30 2 30 6 24 9 10 6 10 7 9 8 7 8 6 10 5 10 3 10 2 10 0 14 -1 22 -6 40 -6 32 -7 26 -14 68 -35 178 -23 95 -23 83 -48 0 -4-16 -18-58 -25-92 -24-106 -18-76 -18-72 -9-30 -8-32 -6-30 -5-32 0-22 4-18 8-16 7-8 7-6 16-10 20-7 30-6z"/>
<path fill="#303030" d="M1729 1076l32-1 30 3 28 6 14 5 11 5 10 6 9 7 9 9 6 8 6 10 4 10 2 10 1 10 1 14 -2 22 -6 38 -6 30 -7 28 -14 67 -36 181 -25 100 -23 74 -38 0 -17-50 -12-40 -20-74 -23-104 -20-85 -18-71 -11-40 -10-44 -4-36 0-22 4-18 4-8 5-8 7-8 7-6 17-10 21-7 31-7z"/>
<path fill="#323232" d="M1738 1076l29 0 32 4 26 7 22 10 10 7 8 7 8 8 6 9 4 8 4 10 2 10 1 10 -2 36 -5 34 -6 30 -8 32 -14 66 -37 184 -27 104 -10 31 -13 35 -27 0 -16-41 -12-37 -25-88 -23-106 -18-76 -18-74 -9-28 -6-26 -7-34 -4-36 1-22 5-18 5-8 5-8 14-13 16-9 23-8 31-6z"/>
<path fill="#333333" d="M1722 1078l33-2 30 2 30 6 12 5 12 5 10 6 10 7 9 9 7 8 5 8 4 10 3 10 2 12 0 14 -2 22 -5 36 -6 30 -8 30 -15 70 -38 186 -18 69 -12 40 -12 32 -13 25 -10 0 -7-11 -10-20 -16-44 -22-75 -8-34 -18-82 -20-85 -17-71 -9-28 -7-30 -6-32 -3-32 0-20 5-18 8-16 13-13 16-11 18-7 26-7z"/>
<path fill="#343434" d="M1729 1078l30-1 30 2 28 7 12 4 12 6 10 6 10 8 8 8 6 8 5 8 4 10 2 10 2 12 -2 36 -6 36 -6 30 -7 26 -14 66 -41 196 -19 70 -14 43 -6 14 -6 12 -6 8 -4 3 -2 0 -6-3 -6-8 -6-10 -6-13 -14-39 -21-73 -45-196 -16-66 -9-30 -7-32 -6-32 -4-32 1-20 2-8 4-10 4-8 6-8 12-12 16-10 21-8 25-6z"/>
<path fill="#343434" d="M1736 1078l29 0 30 3 26 7 22 10 10 7 8 7 8 8 6 8 4 8 4 10 2 10 1 12 -2 36 -5 36 -6 28 -8 28 -14 65 -40 193 -20 70 -12 36 -8 18 -6 10 -6 6 -4 1 -6-3 -6-7 -6-10 -6-13 -14-38 -19-66 -45-195 -16-67 -8-28 -7-28 -6-34 -4-34 1-20 5-16 4-8 5-8 8-8 7-6 16-10 21-8 26-6z"/>
<path fill="#363636" d="M1748 1078l27 1 28 5 24 7 20 11 17 14 7 8 5 8 4 8 3 10 2 20 -2 34 -5 34 -6 28 -8 30 -15 67 -40 191 -19 66 -13 36 -6 13 -6 9 -6 6 -4 1 -6-2 -6-7 -6-11 -6-13 -12-32 -19-64 -45-195 -16-66 -9-29 -6-28 -6-34 -3-34 1-20 3-10 4-8 5-8 6-8 14-12 18-10 23-8 28-5z"/>
<path fill="#373737" d="M1729 1080l30-2 28 3 26 6 12 4 12 6 10 6 10 8 8 8 7 9 5 8 3 10 3 10 1 10 -2 36 -6 38 -6 28 -9 34 -54 250 -18 62 -12 33 -6 13 -6 9 -6 6 -4 1 -4-1 -6-6 -6-9 -6-12 -12-32 -19-60 -45-195 -16-67 -9-28 -6-26 -6-34 -3-32 1-20 5-16 7-14 13-14 16-11 18-8 24-7z"/>
<path fill="#383838" d="M1735 1080l28-1 30 4 26 7 22 11 18 13 7 8 6 8 4 8 4 10 2 10 1 10 -2 36 -6 34 -6 28 -9 34 -54 250 -17 56 -12 32 -6 13 -6 10 -6 5 -4 1 -4-1 -6-6 -6-9 -6-12 -11-29 -18-56 -45-194 -16-66 -8-28 -6-26 -7-34 -3-32 1-20 5-16 4-8 5-8 13-13 16-10 20-9 24-6z"/>
<path fill="#383838" d="M1744 1080l27 0 28 5 24 7 20 11 16 13 7 8 6 8 4 8 3 10 3 20 -2 34 -6 36 -6 28 -9 32 -55 250 -17 54 -12 31 -10 17 -6 6 -4 0 -4-1 -6-6 -6-9 -5-10 -11-27 -17-53 -45-192 -16-66 -9-28 -6-26 -6-34 -3-34 2-20 5-16 4-8 6-8 15-13 18-11 20-7 26-6z"/>
<path fill="#3a3a3a" d="M1729 1082l30-2 26 3 26 6 12 4 12 6 19 13 8 8 6 8 5 8 4 10 2 10 1 10 0 14 -1 24 -6 36 -6 28 -9 32 -54 244 -11 34 -16 44 -10 19 -6 7 -4 2 -4 0 -6-5 -10-15 -12-28 -17-50 -59-250 -10-34 -5-22 -8-38 -3-32 1-20 4-16 8-14 13-14 14-10 18-9 22-7z"/>
<path fill="#3b3b3b" d="M1734 1082l27-1 28 3 26 7 22 10 18 13 7 8 6 8 5 8 3 10 3 10 1 10 -3 36 -5 36 -7 28 -8 30 -55 244 -9 31 -16 42 -10 18 -6 7 -4 2 -4-1 -6-4 -10-15 -16-38 -11-34 -59-248 -10-34 -5-20 -7-38 -4-34 1-20 4-16 8-14 13-14 16-11 18-8 24-7z"/>
<path fill="#3c3c3c" d="M1742 1082l25 0 26 3 24 8 22 10 16 13 8 8 5 8 7 16 3 10 0 10 -2 36 -6 38 -6 26 -9 32 -54 240 -10 32 -16 39 -10 17 -4 4 -4 2 -4-1 -6-4 -10-15 -16-38 -10-30 -60-248 -9-30 -6-26 -6-34 -3-34 1-20 5-16 9-14 13-13 16-11 20-8 24-7z"/>
<path fill="#3c3c3c" d="M1728 1084l29-2 26 2 26 6 12 5 12 6 10 6 9 7 8 8 6 8 8 16 2 10 1 10 0 14 -1 22 -7 38 -6 28 -8 30 -56 240 -10 33 -14 33 -10 17 -4 3 -4 2 -4 0 -6-5 -10-15 -14-31 -10-31 -60-246 -11-40 -10-46 -3-34 0-18 4-16 6-14 12-14 14-11 18-9 22-8z"/>
<path fill="#3e3e3e" d="M1733 1084l28-1 26 3 26 7 22 10 18 13 7 8 6 8 4 8 4 10 2 18 -2 36 -6 38 -6 26 -9 32 -55 234 -9 31 -12 28 -10 18 -6 6 -4 2 -4-1 -4-2 -4-5 -6-9 -14-29 -11-31 -59-243 -13-45 -8-42 -4-36 1-18 4-16 7-14 13-14 16-11 18-9 20-6z"/>
<path fill="#3f3f3f" d="M1739 1084l26-1 26 4 26 8 20 10 17 13 11 14 7 16 3 10 0 10 -2 38 -7 40 -5 22 -8 28 -56 236 -9 28 -11 27 -6 11 -6 8 -4 4 -4 1 -4 0 -6-5 -10-14 -12-26 -10-29 -59-239 -12-42 -9-44 -3-38 1-18 4-16 9-14 13-14 16-10 18-8 22-6z"/>
<path fill="#404040" d="M1747 1084l24 0 26 5 22 7 20 11 15 13 7 8 5 8 6 16 3 18 -3 38 -8 44 -4 16 -9 30 -55 230 -9 30 -10 23 -6 10 -6 8 -4 4 -4 1 -4 0 -6-5 -10-14 -11-23 -10-28 -59-238 -11-38 -10-48 -3-36 1-18 5-16 8-14 14-14 18-11 20-8 24-6z"/>
<path fill="#404040" d="M1732 1086l27-2 24 3 26 6 22 10 18 13 13 14 4 8 4 8 2 10 1 10 0 14 -2 24 -7 42 -5 22 -8 28 -55 226 -9 29 -10 24 -10 15 -6 6 -4 2 -4-1 -6-5 -10-13 -10-21 -9-28 -59-233 -11-37 -10-46 -3-36 0-18 4-16 7-14 11-13 15-11 17-9 20-6z"/>
<path fill="#424242" d="M1737 1086l24-1 26 3 24 7 22 10 17 13 12 14 7 16 3 10 1 10 -1 16 -2 24 -8 44 -4 16 -9 30 -54 220 -9 30 -9 21 -10 15 -6 6 -4 1 -4-1 -6-4 -10-13 -10-21 -8-26 -58-228 -12-38 -9-46 -4-38 1-18 4-16 8-14 11-12 15-11 18-9 22-6z"/>
<path fill="#424242" d="M1743 1086l24 0 26 4 22 7 21 11 15 12 7 8 5 8 7 16 2 18 -1 18 -2 22 -9 46 -12 40 -53 216 -10 32 -8 19 -10 16 -6 5 -4 1 -4-1 -6-4 -10-13 -9-19 -9-28 -58-226 -11-36 -9-46 -4-38 1-18 5-16 9-14 12-12 17-11 18-8 22-6z"/>
<path fill="#444444" d="M1754 1086l23 1 24 6 20 7 18 11 15 13 9 14 6 16 2 18 -3 38 -9 48 -12 38 -53 212 -9 30 -9 22 -5 8 -6 7 -4 3 -4 1 -4 0 -6-4 -10-14 -9-19 -9-29 -56-217 -12-38 -9-48 -4-38 2-18 6-16 9-14 13-12 19-11 20-8 22-5z"/>
<path fill="#444444" d="M1735 1088l26-1 24 2 26 8 20 9 16 12 7 8 6 8 7 16 3 18 0 16 -3 24 -3 22 -6 26 -11 38 -52 204 -10 33 -9 23 -9 14 -6 5 -4 1 -4-1 -4-2 -6-7 -4-6 -9-20 -10-28 -28-106 -28-110 -11-34 -9-46 -4-36 0-18 4-16 8-14 11-12 14-11 16-8 20-7z"/>
<path fill="#464646" d="M1740 1088l23-1 24 3 24 7 20 10 17 13 11 14 4 8 3 8 3 18 0 18 -3 24 -9 48 -12 38 -27 108 -24 92 -11 34 -8 20 -5 8 -5 6 -4 3 -4 1 -4 0 -4-3 -6-6 -4-7 -10-22 -10-30 -26-96 -28-110 -11-34 -10-48 -3-36 1-18 4-14 7-14 11-12 15-11 18-9 22-6z"/>
<path fill="#464646" d="M1746 1088l23 0 24 4 22 8 19 10 15 12 10 14 7 16 2 18 0 18 -3 22 -9 48 -11 36 -27 108 -25 91 -10 31 -8 20 -5 8 -5 7 -4 3 -4 1 -4-1 -4-2 -5-6 -5-8 -8-18 -11-32 -26-94 -27-106 -11-36 -10-48 -4-38 1-18 5-14 8-14 12-12 15-10 20-9 22-6z"/>
<path fill="#484848" d="M1733 1090l26-2 22 2 24 6 22 10 17 12 7 8 6 7 5 9 3 8 2 18 0 16 -2 24 -4 24 -6 24 -3 14 -8 24 -28 110 -24 84 -9 30 -10 23 -8 12 -4 3 -4 1 -4 0 -4-3 -9-12 -9-20 -9-28 -26-90 -29-110 -10-34 -10-44 -4-38 1-18 3-14 7-14 11-12 14-11 16-8 18-7z"/>
<path fill="#484848" d="M1737 1090l24-1 24 3 24 6 20 10 16 12 11 14 5 8 3 8 3 18 -1 16 -2 24 -4 24 -6 26 -11 36 -29 110 -23 82 -10 31 -8 18 -8 12 -4 4 -4 1 -4-1 -4-3 -8-11 -8-17 -10-29 -25-87 -29-110 -11-32 -10-48 -4-36 1-18 3-14 8-14 10-12 15-11 16-8 18-7z"/>
<path fill="#4a4a4a" d="M1742 1090l23-1 24 4 22 7 20 10 15 12 11 14 4 8 2 8 3 18 -2 34 -7 36 -6 26 -9 28 -32 120 -21 73 -10 29 -6 13 -6 10 -6 6 -4 1 -4-1 -4-3 -8-11 -8-17 -10-29 -24-81 -30-112 -9-30 -11-48 -4-38 1-18 4-14 8-14 11-11 15-11 17-8 20-6z"/>
<path fill="#4a4a4a" d="M1748 1090l21 0 24 5 22 7 18 10 14 12 10 14 6 14 2 18 -2 36 -7 36 -6 24 -9 28 -31 118 -23 76 -8 22 -6 13 -6 10 -6 6 -4 1 -4-1 -6-5 -6-9 -6-13 -10-26 -21-70 -33-122 -9-26 -4-16 -8-42 -4-36 2-18 4-14 8-12 11-12 16-11 18-8 22-6z"/>
<path fill="#4d4d4d" d="M1735 1092l24-2 24 3 24 7 20 9 15 11 12 14 4 8 3 8 3 18 -2 36 -6 36 -7 26 -9 28 -31 116 -22 72 -8 22 -6 13 -6 10 -6 6 -4 1 -4-1 -6-5 -6-10 -6-12 -8-22 -21-68 -34-122 -8-24 -4-14 -9-42 -3-36 0-18 4-14 6-12 10-12 13-11 16-8 18-7z"/>
<path fill="#505050" d="M1753 1092l20 1 22 4 20 8 18 11 12 11 9 13 6 14 2 18 -3 34 -7 38 -6 22 -9 28 -31 112 -21 61 -10 25 -4 9 -6 8 -4 3 -4 2 -4-2 -6-5 -10-17 -8-22 -21-60 -22-76 -10-38 -8-24 -4-14 -6-24 -4-22 -3-36 1-18 5-14 8-12 12-12 16-11 18-7 20-5z"/>
<path fill="#545454" d="M1748 1094l21 0 22 4 20 7 18 10 12 11 11 14 5 14 2 16 -2 36 -7 36 -6 24 -10 26 -10 40 -21 68 -12 34 -16 39 -6 11 -4 6 -4 3 -4 1 -4-2 -4-3 -4-5 -6-11 -16-39 -12-32 -21-70 -11-40 -7-20 -4-14 -10-46 -4-38 1-16 5-14 7-12 11-12 15-10 16-7 20-6z"/>
<path fill="#575757" d="M1745 1096l20-1 22 4 20 6 18 10 13 11 10 12 6 14 3 18 -3 36 -8 40 -6 22 -9 24 -11 40 -19 61 -12 32 -14 30 -10 16 -4 3 -4 1 -4-2 -4-3 -10-16 -14-29 -11-29 -20-64 -11-40 -12-32 -7-28 -3-20 -4-36 1-16 4-14 7-12 8-10 14-10 16-8 18-6z"/>
<path fill="#5b5b5b" d="M1742 1098l19-1 20 2 22 7 18 9 14 10 10 13 7 14 2 16 -2 34 -6 34 -8 30 -9 26 -15 48 -19 57 -10 25 -8 15 -6 10 -6 7 -6 3 -4 0 -4-3 -10-12 -12-22 -11-28 -20-58 -12-42 -12-32 -6-26 -4-20 -4-36 1-16 3-14 6-12 9-10 12-10 15-8 17-6z"/>
<path fill="#5e5e5e" d="M1739 1100l20-2 20 2 22 7 18 8 14 11 10 12 6 14 3 16 0 12 -2 22 -6 32 -8 32 -10 26 -14 44 -19 54 -10 23 -12 20 -6 7 -6 3 -4-1 -4-2 -10-11 -11-19 -11-28 -17-48 -13-42 -12-32 -6-26 -4-20 -4-34 0-16 3-14 6-12 8-10 11-9 14-8 16-7z"/>
<path fill="#626262" d="M1751 1100l18 0 20 4 18 7 16 9 11 10 9 12 5 14 2 14 -3 34 -6 32 -8 30 -10 26 -13 42 -19 49 -10 23 -6 10 -6 8 -6 4 -4 2 -4-1 -6-3 -6-7 -6-9 -11-22 -17-44 -17-52 -9-24 -8-26 -7-34 -3-32 1-16 4-12 6-12 11-12 12-8 16-8 18-5z"/>
<path fill="#666666" d="M1746 1102l17-1 20 3 20 7 16 8 13 11 8 12 6 14 2 14 -1 22 -3 22 -5 24 -9 30 -10 24 -16 48 -19 46 -8 15 -6 9 -6 6 -6 2 -4 0 -6-4 -10-12 -12-24 -16-39 -16-47 -10-24 -7-26 -7-34 -3-30 0-16 3-12 7-12 8-10 13-10 14-7 16-6z"/>
<path fill="#696969" d="M1742 1104l19-1 18 2 20 6 16 8 12 9 10 12 6 14 3 14 -1 20 -3 24 -5 24 -9 32 -11 24 -15 46 -17 38 -8 14 -6 9 -6 6 -6 3 -4-1 -6-4 -10-12 -10-19 -16-37 -15-43 -10-24 -6-22 -8-34 -4-32 0-14 3-12 5-12 7-10 11-10 13-8 16-6z"/>
<path fill="#6d6d6d" d="M1754 1104l17 1 18 4 16 6 15 9 10 10 8 12 4 12 2 14 -2 24 -3 20 -5 22 -9 32 -10 22 -16 44 -14 30 -8 14 -6 9 -6 5 -6 3 -4-1 -6-3 -10-13 -14-26 -11-26 -13-36 -10-24 -9-30 -7-32 -3-32 1-14 4-12 7-12 9-9 13-9 15-7 16-5z"/>
<path fill="#707070" d="M1747 1106l16-1 18 3 18 6 15 8 12 10 8 10 6 14 2 14 -1 22 -3 22 -6 24 -9 30 -11 24 -14 38 -11 23 -8 14 -8 12 -6 5 -6 3 -4-1 -4-2 -10-11 -12-20 -12-26 -13-35 -11-24 -8-26 -7-34 -3-30 0-14 3-12 5-11 8-10 11-9 13-7 16-6z"/>
<path fill="#747474" d="M1743 1108l16-2 18 2 18 6 16 8 12 9 9 11 5 12 3 14 -1 20 -3 24 -5 24 -10 32 -12 24 -14 37 -10 20 -8 13 -6 7 -6 6 -6 2 -6-1 -6-5 -6-7 -8-12 -12-24 -14-36 -10-22 -9-28 -5-20 -4-18 -2-24 0-14 2-12 5-10 7-10 10-9 12-7 14-6z"/>
<path fill="#777777" d="M1753 1108l16 0 16 4 16 6 14 8 10 10 7 10 4 12 2 14 -2 24 -3 20 -5 22 -10 30 -11 24 -14 34 -8 16 -8 12 -6 7 -6 5 -6 2 -6-1 -6-5 -6-6 -8-12 -9-18 -14-34 -11-22 -9-28 -6-22 -3-20 -2-24 1-14 3-12 5-10 9-10 11-8 13-6 16-6z"/>
<path fill="#7b7b7b" d="M1746 1110l17-1 16 2 16 5 14 8 12 10 8 10 5 12 2 14 -1 22 -3 22 -6 24 -10 30 -12 24 -14 32 -7 14 -12 15 -6 5 -6 2 -6-1 -6-5 -6-6 -6-8 -8-15 -15-35 -11-20 -9-28 -6-22 -3-18 -2-24 0-12 3-12 4-10 8-10 9-8 12-7 14-6z"/>
<path fill="#7e7e7e" d="M1742 1112l15-2 16 1 16 5 16 7 12 9 9 10 6 12 2 14 0 20 -4 26 -6 24 -10 30 -12 22 -14 32 -7 12 -6 8 -6 6 -6 4 -4 1 -4-1 -6-3 -6-6 -7-9 -7-12 -14-32 -11-20 -7-18 -7-26 -4-20 -3-24 0-12 1-12 4-10 6-10 9-9 11-7 13-6z"/>
<path fill="#828282" d="M1750 1112l15 0 16 2 16 6 12 7 10 9 7 10 5 12 2 12 -2 22 -3 22 -5 22 -11 30 -32 62 -5 7 -6 6 -6 4 -4 1 -4-1 -6-3 -6-6 -6-8 -32-60 -9-28 -5-20 -4-18 -2-24 0-12 3-12 4-10 8-10 10-8 13-7 14-5z"/>
<path fill="#858585" d="M1745 1114l14-1 16 1 16 5 14 7 10 8 8 10 6 12 2 12 -1 20 -3 24 -6 24 -11 30 -32 58 -9 11 -6 3 -4 1 -4-1 -6-3 -10-11 -31-56 -9-26 -6-20 -4-18 -2-24 0-12 2-12 4-10 6-8 8-8 12-7 12-5z"/>
<path fill="#898989" d="M1754 1114l13 0 16 4 14 5 11 7 9 8 7 10 4 12 1 12 -2 24 -3 20 -6 22 -10 28 -31 53 -10 11 -4 2 -4 1 -4-1 -4-2 -5-4 -5-6 -31-52 -10-28 -6-22 -3-18 -3-24 1-12 3-12 6-10 7-8 10-8 12-6 14-4z"/>
<path fill="#8d8d8d" d="M1747 1116l14-1 14 2 14 4 14 7 10 8 8 10 5 12 1 12 -1 22 -3 22 -7 24 -10 28 -5 9 -26 40 -8 8 -4 2 -4 1 -4 0 -4-2 -8-8 -30-48 -10-26 -6-20 -4-18 -3-24 0-12 3-12 4-10 6-8 9-8 10-6 13-5z"/>
<path fill="#909090" d="M1743 1118l14-2 14 1 16 4 13 7 11 8 8 10 4 10 3 12 -1 20 -4 24 -6 24 -11 28 -6 12 -23 33 -8 8 -4 2 -4 1 -4-1 -4-2 -8-8 -23-33 -5-8 -9-22 -6-20 -5-20 -2-22 -1-14 1-10 4-10 5-8 7-8 10-7 12-5z"/>
<path fill="#949494" d="M1749 1118l12-1 14 2 14 5 12 6 10 8 7 10 4 10 2 12 -1 22 -4 22 -6 22 -11 28 -7 12 -20 27 -8 7 -4 3 -4 0 -4 0 -4-2 -8-8 -20-26 -7-11 -10-26 -6-20 -4-18 -2-24 0-12 2-10 5-10 6-8 8-7 10-5 12-5z"/>
<path fill="#979797" d="M1745 1120l14-2 12 1 14 4 14 7 10 8 6 8 5 10 2 12 0 20 -4 24 -7 24 -10 26 -8 14 -18 21 -8 7 -4 3 -4 0 -6-1 -8-6 -18-21 -8-13 -10-24 -6-18 -4-20 -3-22 0-12 1-10 4-10 5-8 8-8 9-6 10-5z"/>
<path fill="#9b9b9b" d="M1752 1120l11 0 14 2 12 4 12 7 8 7 7 10 3 10 2 10 -2 22 -3 22 -7 22 -10 26 -8 13 -16 17 -8 7 -4 2 -4 1 -8-3 -8-7 -15-16 -8-12 -11-26 -6-20 -3-18 -3-24 1-10 2-10 4-8 6-8 9-8 10-6 12-4z"/>
<path fill="#9e9e9e" d="M1747 1122l12-1 12 1 14 4 12 6 10 8 6 8 4 10 2 10 -1 20 -4 24 -6 22 -11 26 -7 12 -9 11 -12 10 -6 3 -4 1 -8-3 -10-8 -12-12 -6-10 -11-24 -6-18 -4-18 -3-24 0-10 2-10 2-8 6-9 7-7 9-6 10-5z"/>
<path fill="#a2a2a2" d="M1754 1122l13 0 12 3 12 5 9 6 8 8 5 8 4 10 1 10 -2 22 -4 20 -7 22 -10 24 -7 12 -9 9 -12 9 -8 2 -8-2 -12-9 -9-9 -7-12 -10-24 -7-20 -3-18 -2-22 0-10 2-10 4-8 7-8 7-6 11-6 11-4z"/>
<path fill="#a5a5a5" d="M1748 1124l11-1 12 1 13 4 11 6 8 6 6 8 5 10 2 10 0 16 -4 24 -6 22 -9 21 -8 15 -6 8 -12 10 -10 4 -8-1 -10-6 -10-9 -7-10 -10-22 -6-18 -4-18 -3-22 -1-12 2-10 3-8 5-8 7-7 8-5 10-5z"/>
<path fill="#a9a9a9" d="M1745 1126l12-2 12 1 12 3 12 6 8 6 7 8 4 10 2 10 0 16 -3 22 -6 21 -7 17 -9 18 -7 10 -11 9 -10 3 -8-1 -10-5 -8-7 -6-9 -10-20 -6-16 -5-20 -3-20 -1-12 1-10 2-8 4-8 6-7 8-7 10-5z"/>
<path fill="#acacac" d="M1750 1126l11-1 12 2 10 3 11 6 7 6 6 8 4 10 2 10 -1 16 -3 20 -6 20 -6 16 -9 18 -7 9 -10 9 -10 3 -8-1 -10-5 -7-7 -7-11 -10-20 -7-19 -3-16 -3-22 0-10 1-10 4-8 4-7 7-7 9-6 10-4z"/>
<path fill="#b0b0b0" d="M1746 1128l13-2 10 1 12 4 10 5 8 6 6 8 4 8 2 10 0 14 -3 22 -5 18 -6 16 -10 19 -8 11 -8 7 -10 3 -8-1 -8-4 -7-7 -7-10 -10-19 -6-17 -4-16 -3-20 -1-10 1-10 2-8 5-8 5-6 8-6 9-5z"/>
<path fill="#b3b3b3" d="M1752 1128l11 0 10 1 10 4 9 5 7 6 6 8 3 8 2 10 -1 16 -3 20 -5 16 -6 15 -10 19 -8 10 -8 7 -8 2 -8-1 -10-6 -8-10 -8-13 -7-15 -6-18 -3-14 -2-20 0-10 2-8 3-8 4-6 6-6 9-6 10-4z"/>
<path fill="#b7b7b7" d="M1748 1130l11-1 10 1 10 2 10 6 8 6 5 6 4 8 2 10 0 14 -3 20 -4 15 -6 17 -10 18 -8 11 -8 6 -8 3 -8-1 -8-5 -8-9 -8-13 -7-14 -5-16 -4-14 -2-18 0-10 1-10 3-8 4-6 5-6 7-5 8-4z"/>
<path fill="#bbbbbb" d="M1755 1130l10 0 10 2 10 5 8 5 6 6 4 8 3 8 1 8 -2 16 -3 18 -5 16 -6 14 -8 15 -8 10 -8 6 -8 2 -8-2 -8-7 -8-10 -8-14 -6-14 -4-14 -3-16 -2-16 1-8 1-8 4-8 4-6 7-6 8-5 8-3z"/>
<path fill="#bebebe" d="M1750 1132l9-1 10 1 10 3 9 5 7 6 6 8 3 8 1 8 -1 14 -3 20 -4 14 -6 14 -8 15 -8 10 -8 6 -6 3 -6-1 -8-5 -8-9 -9-13 -5-12 -6-16 -2-12 -3-18 1-16 2-8 4-6 5-6 7-5 8-4z"/>
<path fill="#c2c2c2" d="M1747 1134l10-2 8 1 10 2 10 5 8 6 5 6 3 8 2 8 0 12 -3 20 -3 12 -6 16 -8 14 -8 11 -8 7 -6 2 -6-1 -8-5 -8-9 -6-9 -6-12 -5-14 -3-12 -3-16 0-10 0-8 2-8 3-6 5-6 7-6z"/>
<path fill="#c5c5c5" d="M1753 1134l8-1 10 2 8 3 8 5 6 5 4 6 3 8 2 8 -1 14 -3 18 -3 12 -6 14 -6 11 -8 10 -8 7 -6 2 -6-1 -8-5 -8-9 -6-9 -6-13 -5-13 -3-14 -2-16 0-8 2-8 2-6 4-6 6-6 6-4 8-4z"/>
<path fill="#c9c9c9" d="M1750 1136l9-1 8 0 8 3 8 4 6 4 6 8 3 6 2 8 0 12 -3 18 -3 12 -5 13 -6 12 -8 10 -8 7 -6 2 -6-1 -6-3 -8-8 -7-10 -5-11 -5-13 -3-12 -2-16 0-8 1-8 2-6 3-6 6-6 5-4 7-4z"/>
<path fill="#cccccc" d="M1758 1136l7 0 8 2 8 4 5 4 6 6 3 6 2 6 1 8 0 12 -3 18 -4 11 -6 13 -6 10 -6 7 -8 6 -6 1 -6-1 -8-6 -6-8 -6-10 -8-21 -3-16 -1-14 0-8 2-6 3-6 5-6 4-4 8-4 8-3z"/>
<path fill="#d0d0d0" d="M1753 1138l6-1 8 1 8 3 8 4 5 5 5 6 2 6 2 8 -1 10 -2 16 -3 12 -4 10 -6 12 -6 8 -8 6 -6 3 -6-1 -6-4 -6-5 -6-9 -6-12 -4-10 -3-14 -1-14 0-14 3-6 3-6 10-9 7-3z"/>
<path fill="#d3d3d3" d="M1750 1140l7-1 8 0 8 2 8 5 5 4 5 6 2 6 2 8 0 10 -3 16 -3 12 -4 10 -6 11 -6 7 -6 5 -6 2 -6-1 -6-3 -6-6 -5-7 -5-11 -4-9 -5-26 1-14 4-11 4-5 5-4z"/>
<path fill="#d7d7d7" d="M1758 1140l7 0 6 2 8 4 5 4 4 4 3 6 2 6 0 8 -1 12 -3 14 -6 18 -6 9 -6 7 -6 4 -6 2 -6-2 -6-5 -6-7 -4-8 -7-18 -3-14 -1-12 1-8 1-6 7-10 10-7 6-2z"/>
<path fill="#dadada" d="M1754 1142l7-1 6 1 6 2 6 4 5 4 4 6 2 6 1 6 0 8 -2 14 -3 12 -3 8 -4 8 -6 8 -6 6 -6 2 -6-1 -5-3 -5-5 -6-9 -7-16 -4-24 0-8 1-6 5-10 9-8z"/>
<path fill="#dedede" d="M1752 1144l7-1 6 0 6 2 6 3 4 4 5 6 2 6 2 6 -1 8 -1 12 -3 11 -3 9 -5 9 -6 7 -5 4 -5 2 -4 0 -6-3 -6-6 -4-7 -7-16 -4-22 0-12 5-10 8-8z"/>
<path fill="#e2e2e2" d="M1751 1146l6-1 6 0 6 1 6 3 6 5 3 4 2 6 2 6 0 8 -2 10 -6 20 -4 8 -5 6 -6 5 -4 1 -4 0 -6-3 -9-11 -6-14 -4-20 0-12 3-9 6-7z"/>
<path fill="#e5e5e5" d="M1751 1148l10-2 6 1 6 3 5 4 4 4 3 10 1 8 -1 8 -6 21 -4 8 -4 5 -6 5 -4 1 -4 0 -4-2 -6-6 -4-5 -5-13 -4-18 0-10 3-10 6-8z"/>
<path fill="#e9e9e9" d="M1758 1148l5 0 6 2 8 6 5 8 2 10 -3 17 -6 17 -4 5 -4 4 -4 3 -4 0 -4-1 -4-3 -8-10 -5-16 -2-16 1-10 5-8 7-5z"/>
<path fill="#ececec" d="M1757 1150l5 0 5 1 8 5 4 6 3 10 -2 14 -5 16 -6 9 -4 3 -4 2 -4 0 -4-3 -6-7 -6-14 -3-16 1-10 4-8 6-5z"/>
<path fill="#f0f0f0" d="M1758 1152l5 0 4 1 6 5 5 8 1 8 -2 14 -5 14 -7 8 -6 2 -6-3 -6-9 -4-12 -3-14 1-8 4-7 6-5z"/>
<path fill="#f3f3f3" d="M1753 1156l6-2 8 2 6 6 3 8 0 10 -4 14 -5 8 -6 5 -4-1 -2-1 -4-4 -5-11 -3-12 0-8 2-6 3-4z"/>
<path fill="#f7f7f7" d="M1755 1158l6-1 6 2 4 5 3 6 0 8 -3 10 -4 8 -6 5 -4-1 -4-4 -4-7 -3-11 0-6 1-6 4-5z"/>
<path fill="#fafafa" d="M1755 1162l4-2 6 2 4 4 1 4 0 6 -1 6 -4 8 -4 3 -4-1 -2-1 -4-7 -2-6 0-6 1-4z"/>
<path fill="#fefefe" d="M1758 1166l3 0 2 1 3 5 -1 7 -4 5 -2 0 -2-1 -3-7 0-6z"/>
</g></g></g>
<g clip-path="url(#kpf)"><g filter="url(#cm)"><rect x="632.5" y="957" width="368.5" height="336.5" fill="#0e0e0e"/><g transform="scale(.5)">
<path fill="#101010" d="M1818 1934l9 0 10 1 18 6 14 8 26 19 8 3 8-2 18-9 12-4 18-4 12-1 10 1 22 5 0 631 -509 0 -6-268 -4-256 0-46 2-12 3-8 3-6 5-5 8-5 8-4 22-8 34-8 32-5 44-6 60-6 70-3z"/>
<path fill="#101010" d="M1815 1940l10-1 12 2 10 2 10 5 18 12 24 23 6 4 4-2 14-11 8-5 10-5 12-3 12-2 12 0 12 2 14 5 0 622 -472 0 -7-256 -4-238 0-72 1-12 3-10 3-6 4-4 12-8 20-7 30-8 38-6 46-6 100-6z"/>
<path fill="#121212" d="M1812 1944l15-1 16 2 14 6 16 11 12 12 9 14 6 16 4 18 1 12 -1 12 -9 42 -2 24 -5 476 -334 0 -7-236 -4-208 -1-114 1-18 3-10 3-6 4-4 11-8 17-7 24-6 32-6 36-4 40-4 64-4zM1953 1966l12-2 14 1 12 2 12 5 0 616 -89 0 -1-480 -2-68 1-16 3-22 3-10 3-6 5-6 8-6 9-5z"/>
<path fill="#121212" d="M1815 1946l14-1 16 3 14 7 12 9 12 12 7 12 4 12 4 20 0 14 -1 12 -10 46 -1 22 -5 474 -308 0 -7-218 -4-182 -3-154 1-18 3-12 6-10 10-8 14-6 22-6 32-6 36-5 94-7zM1954 1970l13-2 12 1 12 3 12 5 0 611 -82 0 0-574 2-16 6-12 4-5 6-5 8-4z"/>
<path fill="#141414" d="M1815 1948l12-1 14 2 14 6 14 9 9 10 8 12 6 16 3 16 0 14 -1 16 -2 12 -9 31 -2 23 -5 474 -288 0 -8-222 -4-180 -2-152 1-18 2-12 5-8 9-8 14-6 20-6 28-6 36-5 88-6 10-2zM1963 1972l10 0 12 2 10 4 8 5 0 605 -76 0 0-574 3-18 5-10 6-6 6-4 8-3z"/>
<path fill="#141414" d="M1813 1950l14-1 14 2 14 5 12 9 9 9 8 12 6 16 3 16 0 14 -1 16 -4 16 -9 28 -2 22 -5 474 -271 0 -8-208 -4-170 -3-172 1-20 2-12 4-8 8-8 12-6 20-6 26-6 34-4 82-7 12-2zM1959 1976l14-1 12 2 10 5 8 8 0 598 -72 0 1-572 2-16 1-6 4-6 8-7z"/>
<path fill="#161616" d="M1811 1952l14-2 14 2 14 5 13 9 10 10 7 12 5 14 3 18 0 14 -1 14 -4 16 -10 28 -2 10 -1 12 -4 474 -256 0 -8-210 -5-164 -3-176 1-20 2-12 4-8 9-8 12-6 16-5 24-5 30-4 80-7 12-2zM1968 1978l13 1 10 5 7 8 5 11 0 585 -67 0 0-572 3-18 2-6 3-4 5-4 6-3z"/>
<path fill="#161616" d="M1817 1952l12-1 12 2 14 6 12 9 9 10 6 10 5 16 3 16 0 16 -2 14 -4 14 -11 29 -2 9 -1 12 -5 474 -241 0 -1-18 -8-182 -4-158 -4-188 1-22 2-12 3-8 8-8 11-6 17-6 22-5 28-4 78-6 11-3 19-7zM1963 1982l6-1 8 1 6 2 7 4 3 4 3 6 3 8 1 10 0 572 -60 0 0-568 2-16 3-10 3-4 5-4z"/>
<path fill="#181818" d="M1813 1954l14-2 14 2 12 5 12 9 10 10 7 12 4 14 3 16 0 16 -3 16 -4 14 -11 26 -2 10 -2 12 -5 474 -228 0 0-18 -9-184 -5-154 -4-190 1-22 2-12 4-8 8-8 11-6 12-4 21-5 26-4 76-7 10-2zM1962 1986l7-1 6 0 6 2 6 4 4 5 2 6 2 16 1 570 -52 0 0-564 1-16 3-10 6-8z"/>
<path fill="#181818" d="M1818 1954l13-1 14 4 12 6 10 8 9 11 5 10 5 14 2 16 0 14 -2 14 -6 16 -12 28 -2 8 -1 12 -6 474 -216 0 0-18 -9-176 -5-146 -4-202 0-22 2-14 3-8 7-8 11-6 13-5 18-4 24-4 73-7 11-3 20-8zM1964 1990l5-1 6 1 6 2 4 4 4 10 2 16 1 566 -44 0 0-560 1-16 3-10 5-8z"/>
<path fill="#1a1a1a" d="M1813 1956l12-2 14 2 12 4 12 8 9 10 8 12 4 14 3 16 0 16 -3 16 -4 12 -14 30 -3 10 -1 10 -5 474 -205 0 0-18 -9-176 -5-146 -5-202 0-22 2-14 4-8 7-8 11-6 11-4 17-4 24-4 66-6 12-4zM1964 1996l5-1 4 0 4 2 4 3 4 10 2 16 0 562 -34 0 0-554 1-16 2-10 3-8z"/>
<path fill="#1a1a1a" d="M1817 1956l12-1 12 2 12 5 12 9 9 11 5 10 5 14 2 16 0 16 -4 16 -4 12 -15 28 -2 10 -1 10 -6 474 -193 0 0-18 -9-168 -6-142 -5-210 0-24 2-14 3-8 6-8 10-6 10-4 15-4 22-4 68-7 10-3 20-9zM1969 2004l2 0 4 2 3 6 2 10 1 16 0 550 -22 0 0-548 1-16 1-10 4-8z"/>
<path fill="#1c1c1c" d="M1822 1956l13 0 10 3 12 7 10 8 8 10 5 12 4 14 1 14 0 14 -3 14 -5 14 -16 28 -2 8 -1 12 -7 474 -181 0 0-18 -10-168 -6-140 -6-210 1-26 1-14 3-8 7-8 10-6 11-4 16-4 18-3 60-7 10-2 24-11z"/>
<path fill="#1c1c1c" d="M1815 1958l12-1 14 2 10 4 12 8 9 11 6 10 4 14 2 16 0 16 -4 16 -6 14 -15 26 -2 8 -1 10 -7 476 -171 0 0-18 -10-164 -6-134 -6-214 0-28 1-16 3-8 6-8 8-6 10-4 14-4 19-4 58-6 10-3 20-10z"/>
<path fill="#1e1e1e" d="M1818 1958l13-1 12 3 12 6 10 8 7 8 6 12 4 14 2 16 -1 14 -3 16 -7 14 -16 26 -2 8 -1 10 -4 258 -4 218 -159 0 -1-18 -11-162 -6-134 -6-216 0-28 1-16 3-8 4-6 8-6 10-5 12-3 17-4 57-7 10-3 22-11z"/>
<path fill="#1e1e1e" d="M1824 1958l11 1 10 2 10 6 11 9 6 8 6 12 4 14 1 14 -1 16 -4 16 -6 12 -16 24 -3 8 -2 12 -3 256 -4 220 -149 0 0-18 -12-158 -6-130 -7-216 0-34 1-16 3-10 5-6 8-6 9-4 13-4 14-3 52-7 10-3 24-12z"/>
<path fill="#202020" d="M1815 1960l14-2 12 3 12 5 10 8 7 8 7 12 3 12 3 16 -1 16 -4 16 -7 15 -14 19 -4 6 -2 8 -2 10 -3 256 -5 220 -137 0 -1-18 -12-156 -7-130 -7-216 0-36 1-16 3-8 3-6 7-6 8-4 12-4 14-3 50-7 10-4 22-11z"/>
<path fill="#202020" d="M1818 1960l11-1 12 2 12 6 10 7 8 10 5 10 4 14 2 16 -1 18 -4 14 -8 14 -17 22 -3 8 -2 12 -3 256 -5 220 -127 0 0-18 -7-74 -6-78 -7-126 -8-210 -1-44 2-20 2-8 4-7 5-5 9-5 10-4 14-3 46-7 10-4 22-12z"/>
<path fill="#222222" d="M1821 1960l12 0 12 3 10 6 9 7 7 10 5 10 4 14 2 14 -2 16 -4 16 -8 14 -18 22 -3 8 -2 10 -4 266 -5 212 -115 0 0-18 -7-72 -7-76 -8-126 -8-210 -1-48 1-20 3-8 3-6 7-6 7-4 19-6 45-8 10-4 22-12z"/>
<path fill="#232323" d="M1814 1962l13-2 12 2 12 5 10 7 9 10 6 12 4 14 1 14 -1 16 -5 16 -8 14 -18 22 -4 8 -2 10 -4 265 -6 213 -102 0 -1-18 -7-66 -7-76 -9-124 -4-86 -4-110 -2-66 1-22 2-8 3-6 6-6 6-4 18-6 42-8 10-5 20-11z"/>
<path fill="#242424" d="M1817 1962l12-1 12 2 10 4 10 8 8 9 5 10 5 14 2 16 -2 16 -4 16 -9 14 -19 22 -4 8 -2 10 -4 260 -7 218 -89 0 0-18 -9-62 -7-72 -10-124 -4-82 -4-100 -3-82 1-26 2-10 3-6 4-4 7-5 16-6 38-8 8-4 22-13z"/>
<path fill="#242424" d="M1819 1962l10-1 12 2 12 6 9 7 8 10 5 10 4 14 1 14 -2 18 -4 14 -9 14 -21 22 -3 8 -2 10 -5 266 -7 212 -75 0 0-16 -9-60 -8-68 -11-120 -5-82 -4-88 -4-100 1-30 2-10 2-6 6-6 6-4 13-5 26-6 8-3 30-17z"/>
<path fill="#262626" d="M1822 1962l11 0 12 3 10 6 10 9 6 10 5 12 3 16 0 14 -3 16 -5 12 -8 12 -21 20 -3 8 -2 8 -6 283 -4 108 -4 73 0 16 -57 0 0-16 -11-55 -9-65 -7-58 -5-58 -6-78 -5-84 -4-112 0-36 1-10 3-6 4-6 6-4 12-5 28-8 8-4 24-15 10-5z"/>
<path fill="#272727" d="M1815 1964l12-2 12 2 12 5 11 9 8 10 6 14 3 14 0 14 -3 16 -5 14 -10 13 -16 13 -5 6 -4 8 -1 8 -4 184 -4 118 -4 92 -6 70 0 16 -32 0 -1-16 -12-42 -11-52 -8-53 -8-63 -6-72 -6-82 -6-124 -1-54 1-10 3-8 4-6 5-4 8-4 26-9 29-19z"/>
<path fill="#282828" d="M1817 1964l12-1 12 2 12 6 9 7 6 8 6 12 4 16 1 14 -3 18 -6 14 -9 12 -22 18 -4 6 -2 10 -1 18 -5 204 -5 120 -3 39 -4 36 -4 15 -2 2 -2 0 -6-4 -6-8 -6-11 -6-16 -6-21 -6-26 -10-58 -9-74 -8-82 -7-117 -3-87 2-18 2-6 5-6 9-6 23-11 28-19z"/>
<path fill="#282828" d="M1818 1964l11-1 12 2 12 6 8 7 8 10 5 12 3 14 1 14 -3 18 -6 15 -10 12 -22 17 -4 6 -3 8 -1 18 -4 165 -5 107 -5 59 -4 17 -2 2 -2 0 -6-4 -6-9 -5-11 -5-14 -10-39 -9-49 -7-60 -7-76 -7-104 -3-72 1-10 2-8 3-6 4-4 21-13 28-21 8-5z"/>
<path fill="#2a2a2a" d="M1821 1964l10 0 12 2 10 5 10 9 7 10 4 10 3 14 1 14 -1 10 -3 10 -7 14 -10 11 -23 17 -4 6 -2 6 -2 16 -3 124 -5 98 -3 35 -2 14 -2 6 -2 3 -2 0 -4-3 -6-8 -8-20 -8-30 -8-44 -7-53 -6-64 -7-90 -2-52 2-16 3-6 5-6 37-32 13-7z"/>
<path fill="#2b2b2b" d="M1824 1964l11 0 10 3 10 6 9 9 6 10 4 10 3 14 0 14 -1 10 -2 8 -7 14 -6 7 -6 5 -24 16 -5 6 -2 6 -1 16 -4 106 -4 62 -2 16 -2 8 -2 3 -2 0 -4-3 -4-6 -6-15 -6-22 -7-35 -5-37 -6-55 -7-88 -1-24 1-10 3-8 7-10 9-10 10-10 12-9 10-5z"/>
<path fill="#2c2c2c" d="M1816 1966l11-2 12 2 12 5 9 7 8 10 4 10 4 14 1 16 -1 10 -3 10 -3 8 -5 8 -6 6 -6 5 -24 13 -4 4 -4 6 -3 16 -5 81 -2 11 -2 4 -2 0 -4-5 -4-8 -4-12 -5-21 -5-28 -8-60 -7-38 -2-16 1-8 3-8 4-8 6-8 8-8 10-8 9-5z"/>
<path fill="#2c2c2c" d="M1817 1966l12-1 12 2 10 5 10 8 7 10 5 12 3 14 1 14 -2 10 -3 10 -5 10 -6 7 -12 9 -25 12 -5 4 -6 6 -2 2 -2 0 -6-5 -6-8 -13-25 -8-24 -3-12 0-10 1-8 2-6 3-6 6-8 8-8 8-6 8-5z"/>
<path fill="#2e2e2e" d="M1819 1966l10-1 12 2 10 5 10 8 7 10 4 10 4 14 0 14 -1 12 -3 10 -5 9 -6 8 -8 6 -8 5 -20 7 -10 2 -6-2 -8-7 -7-10 -6-10 -6-12 -4-12 -2-10 0-10 0-6 3-8 3-6 6-8 8-8 7-5 8-4z"/>
<path fill="#2f2f2f" d="M1821 1966l10-1 10 3 10 4 9 8 8 10 4 10 3 14 1 12 -1 12 -3 10 -5 10 -6 8 -8 6 -10 5 -12 4 -12 2 -6-1 -6-5 -9-9 -7-10 -5-10 -5-12 -3-12 0-10 1-8 2-8 5-8 5-6 6-6 8-6 8-4z"/>
<path fill="#303030" d="M1823 1966l10 0 10 3 10 5 9 8 6 10 4 10 3 12 1 12 -1 12 -3 10 -5 9 -6 8 -8 7 -8 4 -10 3 -12 2 -8-2 -6-4 -8-8 -7-9 -6-10 -5-12 -3-12 -1-10 1-8 2-8 4-6 6-8 7-7 8-5 8-4z"/>
<path fill="#303030" d="M1816 1968l9-2 10 1 8 2 10 6 8 7 6 8 4 10 3 12 1 12 0 12 -3 10 -5 11 -6 7 -8 7 -10 5 -10 2 -8 1 -8-2 -6-3 -7-6 -8-10 -6-10 -5-14 -3-12 -1-10 1-8 2-8 4-6 6-8 7-6 8-5z"/>
<path fill="#323232" d="M1817 1968l8-1 10 0 10 3 8 5 8 7 5 8 5 10 3 12 1 12 -1 12 -2 10 -5 10 -6 8 -8 6 -8 4 -10 3 -8 1 -8-2 -6-3 -8-7 -8-10 -7-12 -4-10 -3-12 -1-8 0-8 2-8 5-8 6-8 7-6 7-5z"/>
<path fill="#333333" d="M1818 1968l9-1 10 1 10 4 8 5 7 7 5 8 4 10 3 10 1 12 -1 10 -2 10 -4 10 -6 8 -7 6 -8 5 -10 3 -8 0 -8-1 -8-3 -6-6 -7-8 -8-12 -4-10 -4-14 -1-10 1-8 2-8 3-6 7-8 6-6 9-5z"/>
<path fill="#343434" d="M1820 1968l9-1 10 2 8 3 8 5 7 7 6 10 4 10 2 10 0 12 0 10 -3 10 -4 8 -6 8 -6 6 -8 4 -10 3 -10 0 -8-2 -6-3 -6-5 -7-9 -7-12 -5-12 -3-12 -1-8 1-8 2-8 4-8 7-8 7-5 8-5z"/>
<path fill="#343434" d="M1822 1968l9 0 8 1 8 3 8 6 8 8 5 8 3 10 2 10 1 12 -1 10 -2 10 -4 8 -6 8 -6 5 -8 4 -10 3 -8 0 -8-1 -8-4 -6-6 -7-9 -6-10 -5-12 -3-12 -1-10 1-8 3-8 3-6 7-8 6-5 8-4z"/>
<path fill="#363636" d="M1824 1968l9 0 8 2 8 4 8 6 7 8 4 8 4 10 1 10 1 10 -1 10 -3 10 -4 8 -5 7 -8 7 -8 4 -8 1 -8 1 -8-2 -8-5 -6-5 -8-10 -5-10 -6-14 -2-10 0-8 1-8 2-8 5-8 7-7 8-6 8-4z"/>
<path fill="#373737" d="M1816 1970l9-2 10 1 8 2 8 4 6 5 6 8 5 8 3 10 2 12 1 10 -2 10 -3 10 -4 8 -6 7 -8 5 -8 4 -10 1 -8-1 -8-3 -6-5 -8-8 -5-8 -6-12 -4-10 -1-10 -1-8 2-8 3-8 5-8 6-6 7-5z"/>
<path fill="#383838" d="M1817 1970l10-2 8 1 8 2 8 5 7 6 6 8 4 8 3 10 2 10 0 10 -1 10 -3 10 -5 8 -5 6 -8 6 -8 3 -10 1 -8-1 -8-3 -6-5 -7-7 -6-10 -6-12 -3-10 -2-8 0-10 1-6 3-8 6-8 6-6 8-5z"/>
<path fill="#383838" d="M1819 1970l8-1 10 1 8 3 8 5 7 6 5 8 4 8 3 10 1 10 0 12 -2 10 -4 8 -4 7 -6 6 -8 5 -8 3 -8 1 -8-2 -8-3 -6-5 -7-8 -6-8 -5-12 -4-10 -1-10 0-8 2-8 2-6 5-8 6-6 8-5z"/>
<path fill="#3a3a3a" d="M1820 1970l9-1 8 1 8 3 8 5 6 6 6 8 4 8 2 10 2 10 -1 12 -2 10 -3 8 -4 6 -6 7 -8 5 -8 2 -8 1 -8-1 -8-4 -6-5 -6-7 -7-10 -6-12 -2-10 -2-8 1-8 1-8 4-8 4-6 7-7 8-5z"/>
<path fill="#3b3b3b" d="M1821 1970l8-1 8 1 8 3 8 5 6 6 4 6 5 8 3 10 1 10 0 12 -2 10 -2 8 -5 8 -6 6 -6 4 -8 3 -8 1 -8-1 -8-3 -6-4 -8-8 -6-10 -5-10 -4-12 -1-10 0-8 2-8 3-6 4-6 7-6 8-5z"/>
<path fill="#3c3c3c" d="M1823 1970l8 0 8 1 8 4 8 5 5 6 5 8 4 8 2 10 1 10 0 10 -2 10 -4 8 -5 8 -6 5 -6 4 -8 2 -8 1 -8-2 -8-4 -6-5 -6-7 -7-10 -4-10 -4-12 -1-10 1-8 3-8 3-6 5-6 7-6 7-4z"/>
<path fill="#3c3c3c" d="M1825 1970l8 0 8 2 8 4 6 5 6 7 5 8 4 10 1 8 1 10 0 8 -3 10 -3 8 -5 7 -6 6 -6 3 -8 3 -8 0 -8-2 -8-4 -6-4 -7-9 -6-10 -4-10 -3-12 -1-10 1-8 3-8 4-6 5-6 8-6 8-3z"/>
<path fill="#3e3e3e" d="M1817 1972l8-2 8 0 8 2 8 4 6 5 6 7 5 8 3 8 2 10 1 10 -1 10 -3 10 -4 8 -5 7 -6 5 -8 3 -8 2 -8-1 -8-3 -6-4 -7-7 -6-8 -6-10 -3-10 -3-16 1-8 3-8 4-8 6-6 7-5z"/>
<path fill="#3f3f3f" d="M1818 1972l7-1 8 0 8 2 8 4 6 4 6 7 5 8 3 8 2 10 1 10 -1 10 -3 10 -4 8 -5 6 -6 5 -8 4 -8 1 -8-1 -8-3 -6-3 -7-7 -6-8 -4-8 -5-12 -2-8 0-8 1-8 2-8 5-8 5-6 7-5z"/>
<path fill="#404040" d="M1819 1972l8-1 8 0 8 3 8 4 6 6 5 6 4 8 3 10 2 10 0 10 -1 10 -3 8 -5 8 -5 6 -6 4 -8 3 -8 1 -8-2 -8-3 -6-5 -6-6 -5-8 -5-10 -4-10 -1-8 0-10 1-6 2-8 4-6 6-6 6-5z"/>
<path fill="#404040" d="M1820 1972l7-1 8 1 8 2 8 5 6 5 6 8 4 8 2 8 2 10 0 10 -2 10 -2 8 -5 8 -5 5 -6 5 -8 3 -8 0 -6-1 -8-3 -6-4 -7-7 -6-8 -4-8 -4-12 -2-10 0-8 2-8 2-6 5-8 6-5 6-4z"/>
<path fill="#424242" d="M1821 1972l8-1 8 1 8 3 6 4 6 5 6 8 4 8 2 8 2 10 0 10 -2 10 -3 8 -5 8 -4 5 -6 4 -8 3 -8 1 -8-2 -8-4 -6-4 -6-7 -5-8 -5-10 -3-10 -2-8 0-8 2-8 3-8 5-6 6-6 7-4z"/>
<path fill="#424242" d="M1823 1972l6-1 8 1 8 3 6 4 6 6 5 7 4 8 3 8 1 10 0 10 -1 10 -3 8 -3 6 -6 6 -6 5 -8 3 -6 0 -8-1 -6-2 -8-5 -8-8 -5-8 -5-10 -3-10 -1-10 0-8 1-6 4-8 4-6 7-6 6-4z"/>
<path fill="#444444" d="M1825 1972l6 0 8 1 8 4 6 4 6 7 4 6 4 8 2 8 1 10 0 10 -1 8 -3 8 -4 6 -5 6 -6 4 -8 3 -8 1 -8-2 -6-2 -7-6 -7-7 -6-9 -4-10 -3-10 -1-10 1-8 2-8 3-6 5-6 7-5 6-3z"/>
<path fill="#444444" d="M1828 1972l7 1 8 2 6 3 7 6 8 12 3 8 2 10 1 10 -1 8 -1 8 -4 8 -4 6 -5 5 -6 4 -8 2 -8 0 -6-1 -8-4 -6-5 -7-9 -5-8 -4-10 -3-10 -1-10 2-8 2-8 4-6 6-6 6-4 8-3z"/>
<path fill="#464646" d="M1818 1974l7-2 8 0 8 2 6 3 6 5 6 6 5 8 3 8 2 10 1 10 -1 10 -2 8 -4 8 -5 6 -7 5 -6 3 -6 1 -8-1 -8-2 -6-4 -6-6 -6-8 -5-8 -4-10 -2-8 0-8 1-8 2-8 3-6 5-6 6-5z"/>
<path fill="#464646" d="M1819 1974l6-1 8 0 8 2 6 3 6 4 6 7 5 7 3 8 2 10 1 10 -1 10 -3 8 -4 8 -4 6 -7 5 -6 3 -6 1 -8-1 -8-3 -6-4 -7-7 -6-8 -4-8 -4-10 -1-8 -1-8 1-8 3-8 4-6 5-5 6-4z"/>
<path fill="#484848" d="M1820 1974l7-1 8 0 8 3 6 3 6 5 5 6 6 14 3 10 0 10 -1 10 -2 8 -4 8 -5 6 -6 5 -6 2 -6 1 -8 0 -8-3 -6-4 -7-7 -6-8 -4-8 -4-10 -1-8 0-8 1-8 3-8 3-6 5-5 6-4z"/>
<path fill="#484848" d="M1821 1974l6-1 8 1 6 1 8 5 6 5 4 5 5 8 3 8 2 8 0 10 -1 10 -2 8 -4 8 -5 6 -6 4 -6 3 -6 1 -8-1 -6-2 -8-5 -6-6 -6-8 -5-8 -3-10 -2-8 0-8 1-8 3-8 4-6 6-6 6-4z"/>
<path fill="#4a4a4a" d="M1822 1974l7-1 8 1 8 3 6 4 5 5 5 7 4 7 2 8 2 10 0 10 -1 8 -3 8 -4 7 -6 6 -6 4 -6 2 -8 0 -6-1 -8-3 -6-5 -6-6 -5-8 -4-8 -3-10 -2-8 0-8 1-6 3-8 4-6 6-6 6-4z"/>
<path fill="#4a4a4a" d="M1823 1974l8 0 6 0 8 4 6 4 6 5 4 7 4 8 2 8 2 8 0 10 -2 8 -2 8 -4 6 -6 7 -6 4 -6 2 -6 0 -8-1 -8-4 -6-4 -7-8 -5-8 -3-8 -3-10 -1-8 0-8 2-8 3-6 4-6 6-5 6-3z"/>
<path fill="#4d4d4d" d="M1825 1974l6 0 8 1 6 3 6 4 6 6 4 6 4 8 2 8 1 8 0 10 -1 8 -3 8 -3 6 -6 6 -6 4 -6 2 -6 1 -8-2 -8-3 -6-5 -6-7 -5-8 -4-8 -3-10 -1-8 0-8 2-8 3-6 5-6 5-5 6-3z"/>
<path fill="#505050" d="M1820 1976l7-1 6 0 8 2 6 3 6 5 5 5 5 8 2 8 2 10 1 8 -1 8 -2 8 -4 8 -4 5 -6 5 -6 2 -6 1 -8 0 -6-3 -6-3 -6-6 -6-7 -7-16 -2-8 -1-8 1-8 2-8 4-6 5-6 6-4z"/>
<path fill="#545454" d="M1823 1976l6-1 8 1 6 3 6 3 6 6 5 6 5 14 2 16 -1 8 -2 8 -3 6 -4 6 -6 5 -6 2 -6 1 -8-1 -6-2 -6-4 -6-5 -6-8 -5-10 -3-8 -1-8 0-8 2-8 2-6 4-6 5-4 6-4z"/>
<path fill="#575757" d="M1819 1978l6-2 8 0 6 2 6 2 6 5 5 5 4 6 3 8 3 10 0 8 0 8 -2 8 -3 7 -4 5 -4 4 -6 3 -6 2 -6 0 -8-2 -6-4 -6-5 -5-6 -5-8 -3-8 -2-8 -1-8 1-8 1-6 3-6 5-6z"/>
<path fill="#5b5b5b" d="M1821 1978l8-1 6 0 6 2 6 3 10 10 3 6 3 8 3 16 -1 8 -2 8 -2 6 -5 6 -5 4 -6 3 -6 1 -8-1 -6-2 -6-4 -10-12 -7-15 -2-14 1-8 1-6 3-6 6-6 4-3z"/>
<path fill="#5e5e5e" d="M1825 1978l6 0 6 1 6 2 6 4 5 5 5 6 5 14 1 16 -3 14 -4 6 -5 6 -4 2 -6 3 -6 0 -6-1 -6-2 -6-5 -6-6 -5-7 -4-8 -2-8 -1-14 1-8 3-6 8-9 6-3z"/>
<path fill="#626262" d="M1820 1980l7-2 6 1 6 1 6 3 6 4 4 5 7 12 2 16 0 8 -2 8 -2 6 -4 6 -5 4 -6 3 -6 1 -6 0 -6-2 -6-4 -10-11 -7-15 -3-14 1-8 2-6 7-10z"/>
<path fill="#666666" d="M1823 1980l6-1 6 1 11 4 5 4 5 6 6 12 2 16 -2 14 -3 6 -4 6 -4 3 -6 3 -6 1 -6 0 -6-2 -6-4 -5-5 -5-6 -4-8 -3-8 -2-14 3-12 3-6 4-4 5-4z"/>
<path fill="#696969" d="M1826 1980l11 1 6 2 6 4 5 5 4 6 4 12 1 14 -1 8 -2 6 -3 6 -4 5 -4 2 -6 3 -6 0 -6-1 -6-3 -6-4 -5-6 -4-6 -6-14 -1-14 1-6 3-6 4-6 4-4 6-3z"/>
<path fill="#6d6d6d" d="M1821 1982l6-1 6 0 10 3 10 8 7 12 2 8 1 8 -2 14 -2 6 -4 5 -4 4 -6 3 -10 1 -6-2 -6-3 -5-4 -5-6 -7-14 -2-14 2-12 3-6 3-4z"/>
<path fill="#707070" d="M1823 1982l6-1 6 1 10 4 9 8 6 12 2 14 -2 14 -5 10 -4 4 -6 3 -10 1 -6-1 -6-4 -6-5 -5-6 -6-14 -2-8 0-6 3-12 6-8 4-3z"/>
<path fill="#747474" d="M1826 1982l11 1 10 5 4 4 5 6 4 12 1 14 -2 12 -3 6 -4 4 -5 4 -4 1 -6 1 -6-2 -10-5 -9-11 -6-14 -1-6 0-8 2-6 2-6 3-4 5-4 4-2z"/>
<path fill="#777777" d="M1822 1984l5-1 6 0 10 3 9 8 6 10 3 14 -1 14 -3 7 -4 5 -4 4 -4 2 -4 1 -6 0 -6-2 -5-3 -9-9 -7-13 -2-12 1-12 3-6 3-4 4-4z"/>
<path fill="#7b7b7b" d="M1824 1984l5-1 6 0 10 5 8 8 6 12 1 14 -2 12 -3 6 -3 4 -5 4 -4 1 -10 0 -10-5 -5-4 -4-6 -6-12 -2-12 3-12 6-9z"/>
<path fill="#7e7e7e" d="M1826 1984l9 0 10 5 8 8 5 11 2 14 -2 12 -3 5 -4 5 -8 5 -4 0 -6 0 -10-5 -9-10 -6-14 -1-12 1-6 2-6 7-8 4-2z"/>
<path fill="#828282" d="M1822 1986l9-2 10 3 9 7 6 10 3 14 -1 12 -2 6 -3 5 -4 4 -4 2 -4 1 -6 0 -10-4 -8-8 -7-12 -2-12 1-10 2-6 3-4z"/>
<path fill="#858585" d="M1824 1986l9-1 10 4 8 7 5 10 3 14 -2 12 -3 6 -3 4 -4 3 -4 2 -4 1 -6-1 -10-5 -7-8 -6-12 -2-12 2-10 5-8 4-4z"/>
<path fill="#898989" d="M1826 1986l9 0 10 5 7 7 5 10 1 12 -1 12 -6 9 -4 4 -4 1 -4 1 -6-1 -10-5 -8-9 -5-12 -1-12 3-10 6-8z"/>
<path fill="#8d8d8d" d="M1822 1988l9-2 10 3 8 6 6 9 3 12 -1 12 -4 10 -4 4 -4 3 -8 1 -6-1 -4-2 -8-7 -7-12 -3-12 2-10 4-8z"/>
<path fill="#909090" d="M1824 1988l9-1 9 3 7 6 6 10 2 12 -1 12 -5 9 -4 4 -4 2 -8 0 -6-2 -4-2 -8-9 -5-10 -2-10 1-10 5-8 3-3z"/>
<path fill="#949494" d="M1826 1988l9 0 8 3 7 7 5 10 2 12 -2 10 -4 8 -4 4 -4 2 -8 1 -6-2 -4-3 -8-9 -5-11 -2-10 3-10 5-8z"/>
<path fill="#979797" d="M1830 1988l7 1 9 5 6 8 3 10 1 10 -2 10 -5 7 -4 3 -4 2 -4 0 -6-1 -8-5 -7-10 -4-10 -1-10 3-10 3-4 4-3z"/>
<path fill="#9b9b9b" d="M1824 1990l9-1 8 2 8 7 4 8 3 12 -1 10 -4 8 -4 4 -4 2 -8 1 -8-3 -8-8 -5-10 -2-10 1-10 4-7z"/>
<path fill="#9e9e9e" d="M1826 1990l5-1 4 1 8 3 7 7 3 8 2 10 -1 10 -4 8 -3 3 -4 3 -8 0 -8-3 -7-7 -6-10 -2-10 2-10 5-8z"/>
<path fill="#a2a2a2" d="M1828 1990l7 0 8 4 6 6 5 10 1 10 -2 10 -5 8 -7 4 -8-1 -8-4 -7-9 -4-10 -1-10 2-8 6-7z"/>
<path fill="#a5a5a5" d="M1824 1992l7-2 8 2 8 6 5 8 2 10 0 10 -3 6 -2 4 -6 4 -8 1 -8-3 -6-6 -6-10 -2-10 1-8 5-8z"/>
<path fill="#a9a9a9" d="M1826 1992l7-1 8 3 7 6 4 8 2 10 -2 10 -3 7 -6 4 -8 1 -8-3 -6-6 -5-9 -2-10 1-8 4-7z"/>
<path fill="#acacac" d="M1828 1992l7 0 8 4 6 6 3 8 1 10 -1 8 -5 8 -6 3 -8 0 -8-4 -6-8 -4-9 -1-8 2-8 5-7z"/>
<path fill="#b0b0b0" d="M1824 1994l7-2 8 2 6 4 5 8 3 10 -1 10 -3 6 -6 6 -6 1 -8-2 -7-7 -5-8 -2-8 1-8 3-7z"/>
<path fill="#b3b3b3" d="M1826 1994l7-1 6 2 7 5 4 8 2 10 -1 9 -4 7 -6 4 -6 0 -8-3 -6-7 -4-8 -2-8 2-8 3-6z"/>
<path fill="#b7b7b7" d="M1827 1994l8 0 6 2 6 6 3 8 2 10 -2 8 -4 6 -5 3 -6 0 -8-3 -5-6 -5-8 -1-8 1-8 4-6z"/>
<path fill="#bbbbbb" d="M1825 1996l6-2 8 2 6 5 4 6 2 9 -1 10 -3 6 -6 4 -6 1 -6-3 -6-5 -4-7 -2-8 0-7 3-7z"/>
<path fill="#bebebe" d="M1826 1996l7-1 6 1 6 5 4 7 2 10 -2 8 -3 6 -5 4 -6 0 -6-2 -6-6 -4-8 -2-8 1-6 3-6z"/>
<path fill="#c2c2c2" d="M1828 1996l7 0 5 2 5 4 4 8 1 8 -1 7 -4 7 -4 3 -6 0 -6-2 -6-6 -4-7 -1-8 1-6 3-6z"/>
<path fill="#c5c5c5" d="M1830 1996l7 1 5 3 5 6 2 6 0 8 -1 6 -3 5 -6 4 -6-1 -6-3 -5-7 -3-8 0-8 2-6 4-4z"/>
<path fill="#c9c9c9" d="M1826 1998l7-1 5 1 5 4 4 6 2 8 -1 8 -3 6 -4 3 -6 1 -5-2 -5-4 -4-7 -2-7 0-6 3-6z"/>
<path fill="#cccccc" d="M1828 1998l5-1 6 2 5 5 3 5 1 7 0 8 -3 5 -4 3 -6 1 -6-2 -5-5 -3-6 -2-8 1-6 3-4z"/>
<path fill="#d0d0d0" d="M1831 1998l4 0 6 3 4 5 2 6 1 6 -1 6 -4 6 -4 2 -6 0 -6-4 -4-5 -3-7 0-6 2-6 4-4z"/>
<path fill="#d3d3d3" d="M1827 2000l4-1 6 1 4 2 4 6 2 6 0 8 -2 5 -4 3 -4 2 -6-2 -4-3 -4-5 -2-6 0-7 2-5z"/>
<path fill="#d7d7d7" d="M1829 2000l4-1 6 2 4 4 2 5 2 6 -1 6 -3 6 -4 2 -6 0 -4-2 -4-4 -3-6 -1-6 2-6 2-4z"/>
<path fill="#dadada" d="M1827 2002l4-2 4 0 6 4 3 4 2 6 -1 8 -2 5 -4 3 -4 0 -4-1 -4-4 -3-5 -2-6 0-4 1-4z"/>
<path fill="#dedede" d="M1828 2002l5-1 4 1 4 3 3 5 1 6 0 6 -2 4 -4 3 -4 0 -4-1 -4-4 -3-4 -1-4 0-6 2-5z"/>
<path fill="#e2e2e2" d="M1830 2002l3 0 4 1 4 3 2 4 2 6 -1 4 -1 4 -4 4 -4 0 -4-1 -4-4 -3-5 -1-6 1-4 3-4z"/>
<path fill="#e5e5e5" d="M1828 2004l5-2 4 1 3 3 3 4 1 6 0 4 -2 4 -3 3 -4 0 -4-1 -5-6 -2-8 1-4z"/>
<path fill="#e9e9e9" d="M1830 2004l3-1 4 1 4 4 2 4 0 8 -2 4 -3 2 -3 0 -4-1 -5-7 -1-4 0-4 2-4z"/>
<path fill="#ececec" d="M1828 2006l3-1 4 0 4 2 2 3 1 8 -1 4 -2 2 -2 1 -4 0 -5-5 -2-4 0-4 1-4z"/>
<path fill="#f0f0f0" d="M1830 2006l3-1 4 1 4 6 0 8 -2 3 -2 1 -2 0 -4-2 -4-6 0-6z"/>
<path fill="#f3f3f3" d="M1829 2008l4-2 2 1 4 3 1 4 0 4 -1 3 -2 1 -4 0 -4-4 -1-6z"/>
<path fill="#f7f7f7" d="M1832 2008l3 0 4 4 0 6 -2 3 -4 0 -4-5 0-5z"/>
<path fill="#fafafa" d="M1832 2010l3 0 2 2 1 4 -1 2 -2 1 -2 0 -2-3 -1-4z"/>
<path fill="#fefefe" d="M1832 2014l1-2 2 0 0 4 -2 0z"/>
</g></g></g>
<g filter="url(#bl)">
<path d="M43.88 66.81L54.5 64.78L63.46 68.01L63.46 70.32L46.65 70.32z" fill="#a81b5f"/>
<path d="M43.88 66.81L51.27 68.47L51.27 84.45L43.88 81.4z" fill="url(#cs)"/>
<path d="M49.61 68.29L63.46 68.01L63.65 82.88L49.61 84.64z" fill="url(#cf)"/>
<path d="M0.18 83.16L10.81 81.13L19.77 84.36L19.77 86.67L2.96 86.67z" fill="#a81b5f"/>
<path d="M0.18 83.16L7.58 84.82L7.58 100.8L0.18 97.76z" fill="url(#cs)"/>
<path d="M5.91 84.64L19.77 84.36L19.95 99.23L5.91 100.99z" fill="url(#cf)"/>
<path d="M10.35 106.81L20.97 104.78L29.93 108.01L29.93 110.32L13.12 110.32z" fill="#a81b5f"/>
<path d="M10.35 106.81L17.74 108.47L17.74 124.45L10.35 121.4z" fill="url(#cs)"/>
<path d="M16.07 108.29L29.93 108.01L30.12 122.88L16.07 124.64z" fill="url(#cf)"/>
<path d="M38.34 103.48L48.96 101.45L57.92 104.68L57.92 106.99L41.11 106.99z" fill="#a81b5f"/>
<path d="M38.34 103.48L45.73 105.15L45.73 121.13L38.34 118.08z" fill="url(#cs)"/>
<path d="M44.06 104.96L57.92 104.68L58.11 119.56L44.06 121.31z" fill="url(#cf)"/>
<g transform="translate(34 90.64) rotate(29)"><rect x="-11.2" y="-7.8" width="8.6" height="15.6" fill="#941f55"/><rect x="-2.6" y="-7.8" width="13.8" height="15.6" fill="url(#cf)"/></g>
<g transform="translate(71.32 107.45) rotate(29)"><rect x="-11.2" y="-7.8" width="8.6" height="15.6" fill="#941f55"/><rect x="-2.6" y="-7.8" width="13.8" height="15.6" fill="url(#cf)"/></g>
<path d="M6 128.06L23.09 125.28L38.8 123.44L59.12 121.13L86.84 136.37L86.84 139.14L46.19 140.99L32.79 139.14L12.84 135.45L9.24 130.83z" fill="#a61c5e"/>
<path d="M6 128.06L9.24 129.9L13.86 132.86L32.79 136.55L47.11 138.86L47.11 171.94L27.71 172.58L6 158.73z" fill="url(#cs)"/>
<path d="M46.19 138.86L86.84 136.37L86.84 165.93L46.19 171.94z" fill="#d62528"/>
<path d="M12.84 132.67L31.78 136L31.78 150.04L12.84 147.45z" fill="url(#cf)"/>
<path d="M19.86 149.49L43.42 151.61L46.19 155.77L25.87 155.77z" fill="#a61c5e"/>
<path d="M25.68 155.4L46.19 156.23L46.19 171.94L25.68 172.58z" fill="url(#cf)"/>
<path d="M6 128.98L12.84 132.67L12.84 163.16L6 158.73z" fill="#8c1f52" opacity=".75"/>
<path d="M13.86 152.07L25.68 155.4L25.68 172.58L19.86 168.24L13.86 164.08z" fill="#902650" opacity=".8"/>
<rect x="47.85" y="140.06" width="10.35" height="13.86" rx="2.5" fill="#de4b28" opacity=".9" filter="url(#bl2)"/>
<rect x="60.97" y="139.33" width="10.62" height="13.86" rx="2.5" fill="#de4b28" opacity=".9" filter="url(#bl2)"/>
<rect x="74.36" y="138.49" width="11.09" height="13.86" rx="2.5" fill="#de4b28" opacity=".9" filter="url(#bl2)"/>
<rect x="47.85" y="156.23" width="10.35" height="13.86" rx="2.5" fill="#de4b28" opacity=".9" filter="url(#bl2)"/>
<rect x="60.97" y="155.31" width="10.62" height="13.39" rx="2.5" fill="#de4b28" opacity=".9" filter="url(#bl2)"/>
<rect x="74.36" y="154.38" width="11.09" height="12.01" rx="2.5" fill="#de4b28" opacity=".9" filter="url(#bl2)"/>
<path d="M23.09 125.28L46.19 138.86M38.8 123.44L64.67 137.76M12.01 130.09L49.88 124.82M27.71 134.52L70.21 128.98" stroke="#7e1748" stroke-width=".7" fill="none" opacity=".55"/>
<path d="M513.04 89.52L529.81 86.99L571.54 81.33L600.97 98.17L540.61 105.92z" fill="#a81b5f"/>
<path d="M511.18 91.61L513.04 89.52L540.61 105.92L540.61 157.78L538.75 157.78L511.18 141.68z" fill="url(#cs)"/>
<path d="M540.61 105.92L600.97 98.17L601.19 149.73L540.61 157.78z" fill="#d62528"/>
<g filter="url(#bl2)" opacity=".95"><path d="M541.13 108.15L554.77 106.36L554.77 120.15L541.13 121.94z" fill="#df4d28"/><path d="M541.13 125.14L554.77 123.35L554.77 137.14L541.13 138.93z" fill="#df4d28"/><path d="M541.13 142.13L554.77 140.34L554.77 154.13L541.13 155.92z" fill="#df4d28"/><path d="M557.23 105.69L568.18 103.9L568.18 117.69L557.23 119.48z" fill="#df4d28"/><path d="M557.23 122.68L568.18 120.89L568.18 134.68L557.23 136.47z" fill="#df4d28"/><path d="M557.23 139.67L568.18 137.88L568.18 151.67L557.23 153.46z" fill="#df4d28"/><path d="M570.79 103.23L584.2 101.45L584.2 115.23L570.79 117.02z" fill="#df4d28"/><path d="M570.79 120.22L584.2 118.44L584.2 132.22L570.79 134.01z" fill="#df4d28"/><path d="M570.79 137.21L584.2 135.42L584.2 149.21L570.79 151z" fill="#df4d28"/><path d="M587.78 100.77L599.48 98.99L599.48 112.77L587.78 114.56z" fill="#df4d28"/><path d="M587.78 117.76L599.48 115.98L599.48 129.76L587.78 131.55z" fill="#df4d28"/><path d="M587.78 134.75L599.48 132.97L599.48 146.75L587.78 148.54z" fill="#df4d28"/></g>
<g filter="url(#bl2)" opacity=".8"><path d="M514.9 94.59L518.63 96.45L518.63 109.12L514.9 107.26z" fill="#a2405a"/><path d="M514.9 111.36L518.63 113.22L518.63 125.89L514.9 124.02z" fill="#a2405a"/><path d="M514.9 128.12L518.63 129.99L518.63 142.65L514.9 140.79z" fill="#a2405a"/><path d="M522.35 98.69L526.83 100.55L526.83 113.22L522.35 111.36z" fill="#a2405a"/><path d="M522.35 115.45L526.83 117.32L526.83 129.99L522.35 128.12z" fill="#a2405a"/><path d="M522.35 132.22L526.83 134.08L526.83 146.75L522.35 144.89z" fill="#a2405a"/><path d="M529.81 102.79L532.79 104.65L532.79 117.32L529.81 115.45z" fill="#a2405a"/><path d="M529.81 119.55L532.79 121.42L532.79 134.08L529.81 132.22z" fill="#a2405a"/><path d="M529.81 136.32L532.79 138.18L532.79 150.85L529.81 148.99z" fill="#a2405a"/><path d="M535.77 106.51L539.49 108.38L539.49 121.04L535.77 119.18z" fill="#a2405a"/><path d="M535.77 123.28L539.49 125.14L539.49 137.81L535.77 135.95z" fill="#a2405a"/><path d="M535.77 140.04L539.49 141.91L539.49 154.58L535.77 152.71z" fill="#a2405a"/></g>
<path d="M527.57 99.81L540.61 105.92L540.61 157.78L527.57 150.48z" fill="#7d184c" opacity=".55"/>
</g>
<path d="M476.45 85.75V408" stroke="#3a3a55" stroke-width=".9" opacity=".55"/>
<path d="M121.55 85.75V408M121.25 407.7H476.75" stroke="#8f93c4" stroke-width=".9" opacity=".6"/>
<path d="M476.2 527V848" stroke="#3a3a55" stroke-width=".9" opacity=".55"/>
<path d="M120.8 527V848M120.5 847.7H476.5" stroke="#8f93c4" stroke-width=".9" opacity=".6"/>
<path d="M478.7 962V1286.5" stroke="#3a3a55" stroke-width=".9" opacity=".55"/>
<path d="M125.8 962V1286.5M125.5 1286.2H479" stroke="#8f93c4" stroke-width=".9" opacity=".6"/>
<path d="M992.2 89V412" stroke="#3a3a55" stroke-width=".9" opacity=".55"/>
<path d="M640.8 89V412M640.5 411.7H992.5" stroke="#8f93c4" stroke-width=".9" opacity=".6"/>
<path d="M992.7 528V851" stroke="#3a3a55" stroke-width=".9" opacity=".55"/>
<path d="M640.8 528V851M640.5 850.7H993" stroke="#8f93c4" stroke-width=".9" opacity=".6"/>
<path d="M992.7 965V1285.5" stroke="#3a3a55" stroke-width=".9" opacity=".55"/>
<path d="M640.8 965V1285.5M640.5 1285.2H993" stroke="#8f93c4" stroke-width=".9" opacity=".6"/>
<text x="298.75" y="22" text-anchor="middle" textLength="222" lengthAdjust="spacing">Wavelength (nm)</text>
<text x="163.3" y="68.7" text-anchor="middle">515</text>
<text x="231.5" y="68.7" text-anchor="middle">520</text>
<text x="299.7" y="68.7" text-anchor="middle">525</text>
<text x="367.9" y="68.7" text-anchor="middle">530</text>
<text x="436" y="68.7" text-anchor="middle">535</text>
<path d="M163.3 81V86.35M231 81V86.35M297.5 81V86.35M368 81V86.35M436 81V86.35M117.5 101.7H121.85M117.5 242.3H121.85M117.5 382H121.85" stroke="#0d0d0d" stroke-width="1.6" fill="none"/>
<path d="M121.25 86.05H476.75" stroke="#555" stroke-width=".9" opacity=".6"/>
<path d="M163.3 405V408M231 405V408M297.5 405V408M368 405V408M436 405V408M473.75 101.7H476.75M473.75 242.3H476.75M473.75 382H476.75" stroke="#232a6e" stroke-width="1" opacity=".6" fill="none"/>
<text x="106.5" y="110" text-anchor="end">0</text>
<text x="106.5" y="250" text-anchor="end">260</text>
<text x="106.5" y="390.5" text-anchor="end">520</text>
<text text-anchor="middle" textLength="122" lengthAdjust="spacing" transform="translate(31 246.75) rotate(-90)">Time (ps)</text>
<text x="133.5" y="130.5" font-size="41" font-weight="bold" fill="#f4f1f1">a</text>
<text x="147" y="395" fill="#fff">1 µJ•cm<tspan dy="-11.5" font-size="20">−2</tspan></text>
<text x="297.25" y="462.5" text-anchor="middle" textLength="222" lengthAdjust="spacing">Wavelength (nm)</text>
<text x="158.4" y="510.5" text-anchor="middle">515</text>
<text x="225.6" y="510.5" text-anchor="middle">520</text>
<text x="292.8" y="510.5" text-anchor="middle">525</text>
<text x="360" y="510.5" text-anchor="middle">530</text>
<text x="426.9" y="510.5" text-anchor="middle">535</text>
<path d="M158.75 522.5V527.6M225.5 522.5V527.6M294.5 522.5V527.6M360.5 522.5V527.6M427 522.5V527.6M116.5 543.75H121.1M116.5 680.5H121.1M116.5 819.5H121.1" stroke="#0d0d0d" stroke-width="1.6" fill="none"/>
<path d="M120.5 527.3H476.5" stroke="#555" stroke-width=".9" opacity=".6"/>
<path d="M158.75 845V848M225.5 845V848M294.5 845V848M360.5 845V848M427 845V848M473.5 543.75H476.5M473.5 680.5H476.5M473.5 819.5H476.5" stroke="#232a6e" stroke-width="1" opacity=".6" fill="none"/>
<text x="105" y="553.5" text-anchor="end">0</text>
<text x="105" y="690" text-anchor="end">120</text>
<text x="105" y="829" text-anchor="end">240</text>
<text text-anchor="middle" textLength="122" lengthAdjust="spacing" transform="translate(32 694.4) rotate(-90)">Time (ps)</text>
<text x="133" y="571.75" font-size="41" font-weight="bold" fill="#f4f1f1">b</text>
<text x="140" y="836" fill="#fff">41 µJ•cm<tspan dy="-11.5" font-size="20">−2</tspan></text>
<text x="301" y="895" text-anchor="middle" textLength="222" lengthAdjust="spacing">Wavelength (nm)</text>
<text x="165.2" y="943.75" text-anchor="middle">515</text>
<text x="232.7" y="943.75" text-anchor="middle">520</text>
<text x="299.8" y="943.75" text-anchor="middle">525</text>
<text x="367" y="943.75" text-anchor="middle">530</text>
<text x="434.1" y="943.75" text-anchor="middle">535</text>
<path d="M165 955.5V962.6M232.5 955.5V962.6M299.25 955.5V962.6M367.5 955.5V962.6M434.5 955.5V962.6M121.5 977.5H126.1M121.5 1113.5H126.1M121.5 1254.25H126.1" stroke="#0d0d0d" stroke-width="1.6" fill="none"/>
<path d="M125.5 962.3H479" stroke="#555" stroke-width=".9" opacity=".6"/>
<path d="M165 1283.5V1286.5M232.5 1283.5V1286.5M299.25 1283.5V1286.5M367.5 1283.5V1286.5M434.5 1283.5V1286.5M476 977.5H479M476 1113.5H479M476 1254.25H479" stroke="#232a6e" stroke-width="1" opacity=".6" fill="none"/>
<text x="110.5" y="986" text-anchor="end">0</text>
<text x="110.5" y="1125" text-anchor="end">100</text>
<text x="110.5" y="1263.5" text-anchor="end">200</text>
<text text-anchor="middle" textLength="122" lengthAdjust="spacing" transform="translate(36.5 1125) rotate(-90)">Time (ps)</text>
<text x="136" y="1007.5" font-size="41" font-weight="bold" fill="#f4f1f1">c</text>
<text x="142" y="1269.75" fill="#fff">165 µJ•cm<tspan dy="-11.5" font-size="20">−2</tspan></text>
<text x="815.6" y="25" text-anchor="middle" textLength="222" lengthAdjust="spacing">Wavelength (nm)</text>
<text x="682" y="72" text-anchor="middle">515</text>
<text x="749.8" y="72" text-anchor="middle">520</text>
<text x="817.4" y="72" text-anchor="middle">525</text>
<text x="885.6" y="72" text-anchor="middle">530</text>
<text x="953.4" y="72" text-anchor="middle">535</text>
<path d="M681.75 85V89.6M750 85V89.6M815.5 85V89.6M883.75 85V89.6M952 85V89.6M636.5 107H641.1M636.5 245.4H641.1M636.5 385H641.1" stroke="#0d0d0d" stroke-width="1.6" fill="none"/>
<path d="M640.5 89.3H992.5" stroke="#555" stroke-width=".9" opacity=".6"/>
<path d="M681.75 409V412M750 409V412M815.5 409V412M883.75 409V412M952 409V412M989.5 107H992.5M989.5 245.4H992.5M989.5 385H992.5" stroke="#232a6e" stroke-width="1" opacity=".6" fill="none"/>
<text x="625" y="115.5" text-anchor="end">0</text>
<text x="625" y="254.5" text-anchor="end">160</text>
<text x="625" y="394" text-anchor="end">320</text>
<text text-anchor="middle" textLength="122" lengthAdjust="spacing" transform="translate(551.5 251.75) rotate(-90)">Time (ps)</text>
<text x="651.5" y="130.5" font-size="41" font-weight="bold" fill="#f4f1f1">d</text>
<text x="671" y="393" fill="#fff">7 µJ•cm<tspan dy="-11.5" font-size="20">−2</tspan></text>
<text x="815.6" y="462" text-anchor="middle" textLength="222" lengthAdjust="spacing">Wavelength (nm)</text>
<text x="683" y="510" text-anchor="middle">515</text>
<text x="751.1" y="510" text-anchor="middle">520</text>
<text x="819.3" y="510" text-anchor="middle">525</text>
<text x="887.5" y="510" text-anchor="middle">530</text>
<text x="955.7" y="510" text-anchor="middle">535</text>
<path d="M682.5 523V528.6M751.5 523V528.6M817.5 523V528.6M885.75 523V528.6M954 523V528.6M636.5 543H641.1M636.5 680.6H641.1M636.5 818.75H641.1" stroke="#0d0d0d" stroke-width="1.6" fill="none"/>
<path d="M640.5 528.3H993" stroke="#555" stroke-width=".9" opacity=".6"/>
<path d="M682.5 848V851M751.5 848V851M817.5 848V851M885.75 848V851M954 848V851M990 543H993M990 680.6H993M990 818.75H993" stroke="#232a6e" stroke-width="1" opacity=".6" fill="none"/>
<text x="625" y="551.75" text-anchor="end">0</text>
<text x="625" y="690" text-anchor="end">120</text>
<text x="625" y="828" text-anchor="end">240</text>
<text text-anchor="middle" textLength="122" lengthAdjust="spacing" transform="translate(551.5 690.5) rotate(-90)">Time (ps)</text>
<text x="651.5" y="571.75" font-size="41" font-weight="bold" fill="#f4f1f1">e</text>
<text x="662" y="836.25" fill="#fff">47 µJ•cm<tspan dy="-11.5" font-size="20">−2</tspan></text>
<text x="816.6" y="898.75" text-anchor="middle" textLength="222" lengthAdjust="spacing">Wavelength (nm)</text>
<text x="681.3" y="946.25" text-anchor="middle">515</text>
<text x="751.3" y="946.25" text-anchor="middle">520</text>
<text x="820.6" y="946.25" text-anchor="middle">525</text>
<text x="890.3" y="946.25" text-anchor="middle">530</text>
<text x="960.3" y="946.25" text-anchor="middle">535</text>
<path d="M682 959.25V965.6M752 959.25V965.6M825 959.25V965.6M889 959.25V965.6M960.7 959.25V965.6M636.5 989.5H641.1M636.5 1130.25H641.1M636.5 1271H641.1" stroke="#0d0d0d" stroke-width="1.6" fill="none"/>
<path d="M640.5 965.3H993" stroke="#555" stroke-width=".9" opacity=".6"/>
<path d="M682 1282.5V1285.5M752 1282.5V1285.5M825 1282.5V1285.5M889 1282.5V1285.5M960.7 1282.5V1285.5M990 989.5H993M990 1130.25H993M990 1271H993" stroke="#232a6e" stroke-width="1" opacity=".6" fill="none"/>
<text x="625" y="999.25" text-anchor="end">0</text>
<text x="625" y="1140.5" text-anchor="end">25</text>
<text x="625" y="1280.25" text-anchor="end">50</text>
<text text-anchor="middle" textLength="122" lengthAdjust="spacing" transform="translate(566 1126) rotate(-90)">Time (ps)</text>
<text x="653" y="1006.25" font-size="41" font-weight="bold" fill="#f4f1f1">f</text>
<text x="660" y="1270.5" fill="#fff">161 µJ•cm<tspan dy="-11.5" font-size="20">−2</tspan></text>
<path d="M321 535.5V539.5" stroke="#111" stroke-width="1.4"/><path d="M168.75 962V965.5M235 962V964.5M303 962V964.5M372 962V964.5" stroke="#111" stroke-width="1.1" opacity=".75"/>
<text x="49.5" y="58" text-anchor="middle">SC</text>
<text x="571.5" y="57" text-anchor="middle" textLength="85.5" lengthAdjust="spacing">QDSM</text>
<rect x="126.25" y="1291" width="352.25" height="17.5" fill="url(#cb)"/>
<path d="M126.25 1291.3H478.5M126.25 1308.2H478.5" stroke="#444" stroke-width=".8" opacity=".75"/>
<path d="M196.7 1304.5V1308.5M267.15 1304.5V1308.5M337.6 1304.5V1308.5M408.05 1304.5V1308.5" stroke="#333" stroke-width="1" opacity=".7"/>
<text x="128.5" y="1342" text-anchor="middle">0</text>
<text x="301.25" y="1342" text-anchor="middle">0.5</text>
<text x="481" y="1342" text-anchor="end">1</text>
<rect x="641.5" y="1291" width="352.5" height="17.5" fill="url(#cb)"/>
<path d="M641.5 1291.3H994M641.5 1308.2H994" stroke="#444" stroke-width=".8" opacity=".75"/>
<path d="M712 1304.5V1308.5M782.5 1304.5V1308.5M853 1304.5V1308.5M923.5 1304.5V1308.5" stroke="#333" stroke-width="1" opacity=".7"/>
<text x="645.5" y="1342" text-anchor="middle">0</text>
<text x="818" y="1342" text-anchor="middle">0.5</text>
<text x="996.5" y="1342" text-anchor="end">1</text>
<rect x="1138" y="82" width="254" height="481.25" fill="#c8c8c8"/>
<rect x="1391" y="82" width="25" height="481.25" fill="url(#gr)"/>
<path d="M1138 528H1146M1138 459.4H1146M1138 390.8H1146M1138 322.2H1146M1138 253.6H1146M1138 185H1146M1138 116.4H1146M1170.5 563.25V554.75M1281.75 563.25V554.75M1393 563.25V554.75M1504.25 563.25V554.75M1615.5 563.25V554.75" stroke="#000" stroke-width="1.7" fill="none"/>
<text x="1126.5" y="537.2" text-anchor="end">0</text>
<text x="1126.5" y="468.6" text-anchor="end">1</text>
<text x="1126.5" y="400" text-anchor="end">2</text>
<text x="1126.5" y="331.4" text-anchor="end">3</text>
<text x="1126.5" y="262.8" text-anchor="end">4</text>
<text x="1126.5" y="194.2" text-anchor="end">5</text>
<text x="1126.5" y="125.6" text-anchor="end">6</text>
<text x="1170.8" y="596.5" text-anchor="middle">0</text>
<text x="1282.05" y="596.5" text-anchor="middle">50</text>
<text x="1393.3" y="596.5" text-anchor="middle">100</text>
<text x="1504.55" y="596.5" text-anchor="middle">150</text>
<text x="1615.8" y="596.5" text-anchor="middle">200</text>
<path d="M1167.25 522.25h11.5v11.5h-11.5zM1188 517.25h11.5v11.5h-11.5zM1216.25 514.75h11.5v11.5h-11.5zM1256 508h11.5v11.5h-11.5zM1303 499.75h11.5v11.5h-11.5zM1342.75 471.75h11.5v11.5h-11.5zM1409.75 448.75h11.5v11.5h-11.5zM1465 421.25h11.5v11.5h-11.5zM1531.75 395h11.5v11.5h-11.5zM1576 369.75h11.5v11.5h-11.5z" fill="#000"/>
<path d="M1170.5 527.3L1174.62 527.07L1178.74 526.81L1182.86 526.52L1186.97 526.2L1191.07 525.86L1195.17 525.5L1199.26 525.1L1203.35 524.68L1207.44 524.23L1211.52 523.76L1215.59 523.26L1219.66 522.73L1223.73 522.18L1227.79 521.61L1231.84 521.01L1235.89 520.38L1239.94 519.73L1243.97 519.05L1248.01 518.35L1252.03 517.62L1256.06 516.87L1260.07 516.1L1264.08 515.3L1268.09 514.47L1272.09 513.63L1276.08 512.75L1280.07 511.86L1284.05 510.94L1288.03 510L1292 509.03L1295.96 508.05L1299.92 507.03L1303.87 506L1307.82 504.94L1311.76 503.87L1315.69 502.76L1319.62 501.64L1323.54 500.5L1327.46 499.33L1331.37 498.14L1335.27 496.93L1339.16 495.7L1343.05 494.44L1346.94 493.17L1350.81 491.87L1354.68 490.56L1358.54 489.22L1362.4 487.86L1366.25 486.49L1370.09 485.09L1373.93 483.67L1377.76 482.23L1381.58 480.77L1385.39 479.3L1389.2 477.8L1393 476.28L1396.8 474.75L1400.58 473.19L1404.36 471.62L1408.14 470.02L1411.9 468.41L1415.66 466.78L1419.41 465.13L1423.15 463.47L1426.89 461.78L1430.61 460.08L1434.33 458.36L1438.05 456.62L1441.75 454.86L1445.45 453.09L1449.14 451.3L1452.82 449.49L1456.49 447.67L1460.16 445.83L1463.82 443.97L1467.47 442.1L1471.11 440.21L1474.74 438.3L1478.37 436.38L1481.99 434.44L1485.6 432.48L1489.2 430.51L1492.79 428.53L1496.38 426.53L1499.95 424.51L1503.52 422.48L1507.08 420.44L1510.63 418.38L1514.17 416.3L1517.71 414.21L1521.23 412.11L1524.75 409.99L1528.26 407.86L1531.76 405.71L1535.25 403.55L1538.73 401.38L1542.2 399.19L1545.66 396.99L1549.12 394.78L1552.56 392.56L1556 390.32L1559.43 388.07L1562.84 385.8L1566.25 383.53L1569.65 381.24L1573.04 378.94L1576.42 376.63L1579.8 374.3L1583.16 371.97L1586.51 369.62L1589.85 367.26L1593.19 364.89L1596.51 362.51L1599.83 360.12L1603.13 357.72L1606.42 355.3L1609.71 352.88L1612.98 350.44L1616.25 348" stroke="#000" stroke-width="3.2" stroke-dasharray="9 3.5" fill="none"/>
<path d="M1169.5 526.75L1174.96 526.63L1180.44 526.46L1185.93 526.26L1191.43 526.02L1196.93 525.73L1202.44 525.39L1207.96 525.01L1213.48 524.59L1219.01 524.12L1224.53 523.6L1230.05 523.03L1235.57 522.41L1241.09 521.73L1246.6 521.01L1252.1 520.23L1257.6 519.4L1263.09 518.52L1268.56 517.57L1274.03 516.57L1279.47 515.52L1284.91 514.4L1290.32 513.22L1295.72 511.98L1301.09 510.68L1306.45 509.32L1311.78 507.89L1317.09 506.39L1322.37 504.83L1327.62 503.21L1332.84 501.51L1338.04 499.75L1343.2 497.91L1348.32 496.01L1353.42 494.03L1358.47 491.98L1363.49 489.85L1368.47 487.65L1373.4 485.38L1378.3 483.02L1383.15 480.59L1387.95 478.08L1392.71 475.49L1397.42 472.82L1402.08 470.06L1406.69 467.22L1411.24 464.3L1415.74 461.3L1420.18 458.2L1424.57 455.02L1428.9 451.76L1433.17 448.4L1437.37 444.95L1441.51 441.41L1445.59 437.78L1449.6 434.06L1453.55 430.26L1457.44 426.37L1461.26 422.4L1465.02 418.37L1468.73 414.26L1472.37 410.09L1475.96 405.86L1479.5 401.58L1482.97 397.25L1486.4 392.87L1489.77 388.45L1493.1 384L1496.37 379.51L1499.59 374.99L1502.77 370.44L1505.9 365.86L1508.99 361.26L1512.03 356.62L1515.03 351.97L1517.99 347.28L1520.9 342.58L1523.78 337.85L1526.62 333.11L1529.42 328.34L1532.19 323.56L1534.93 318.76L1537.63 313.95L1540.29 309.12L1542.93 304.29L1545.54 299.43L1548.12 294.57L1550.67 289.7L1553.2 284.82L1555.7 279.94L1558.18 275.04L1560.63 270.13L1563.06 265.22L1565.48 260.3L1567.87 255.37L1570.25 250.43L1572.61 245.48L1574.95 240.53L1577.28 235.58L1579.6 230.61L1581.9 225.64L1584.2 220.67L1586.48 215.69L1588.76 210.7L1591.03 205.71L1593.29 200.72L1595.55 195.72L1597.8 190.72L1600.05 185.71L1602.3 180.7L1604.55 175.69L1606.81 170.68L1609.06 165.66L1611.32 160.64L1613.58 155.62L1615.85 150.6L1618.12 145.57L1620.4 140.55L1622.7 135.52L1625 130.5" stroke="#ed1c24" stroke-width="3" fill="none"/>
<g fill="#ed1c24"><circle cx="1185.5" cy="528.25" r="7"/><circle cx="1195" cy="527.5" r="7"/><circle cx="1200.5" cy="526.5" r="7"/><circle cx="1222" cy="524.25" r="7"/><circle cx="1248" cy="521" r="7"/><circle cx="1275.75" cy="517" r="7"/><circle cx="1300.5" cy="513.25" r="7"/><circle cx="1340.5" cy="509.5" r="7"/><circle cx="1378.5" cy="503" r="7"/><circle cx="1404.75" cy="488" r="7"/><circle cx="1457.5" cy="425" r="7"/><circle cx="1486.75" cy="380.75" r="7"/><circle cx="1530.5" cy="296.25" r="7"/><circle cx="1594.5" cy="191.25" r="7"/></g>
<rect x="1138" y="82" width="522.5" height="481.25" fill="none" stroke="#000" stroke-width="2"/>
<text x="1267.8" y="177.5" text-anchor="end">SC</text>
<path d="M1305.25 149.25h11.5v11.5h-11.5z" fill="#000"/>
<path d="M1280.5 184.3H1337.5" stroke="#3c3c3c" stroke-width="3" stroke-dasharray="5.6 1.6"/>
<text x="1267.8" y="257.5" text-anchor="end" textLength="85.5" lengthAdjust="spacing">QDSM</text>
<g fill="#ed1c24"><circle cx="1311.25" cy="236.25" r="7"/></g>
<path d="M1280.5 262.5H1342.5" stroke="#ed1c24" stroke-width="3"/>
<path d="M1608.75 365.5L1617.5 386H1600z" fill="#000"/><path d="M1608.75 386V422.5" stroke="#333" stroke-width="3.2" stroke-dasharray="2.4 1.2"/>
<text x="1606" y="452" text-anchor="middle">×10</text>
<text x="1025.5" y="87.5" font-size="41" font-weight="bold">g</text>
<text transform="translate(1083.5 322) rotate(-90)" text-anchor="middle"><tspan font-style="italic">I</tspan><tspan dy="7" font-size="21">max</tspan><tspan dy="-7"> (a.u.)</tspan></text>
<path d="M1398 614.5L1413.6 630.8H1404.2V671.2H1413.6L1398 687.5L1382.4 671.2H1391.8V630.8H1382.4z" fill="#e3e3e3" stroke="#000" stroke-width="2.6" stroke-linejoin="miter"/>
<text x="1431" y="666.3" textLength="256.5" lengthAdjust="spacing"><tspan font-style="italic">N</tspan><tspan dy="8" font-size="21">ph</tspan><tspan dy="-8"> (only for QDSM)</tspan></text>
<rect x="1139.5" y="754.5" width="252.5" height="480.9" fill="#c8c8c8"/>
<rect x="1391" y="754.5" width="25" height="480.9" fill="url(#gr)"/>
<path d="M1138.2 754.5V1235.4" stroke="#9fb3dc" stroke-width="1.4"/>
<path d="M1139.5 1214.5H1148M1139.5 1112.25H1148M1139.5 1010H1148M1139.5 907.75H1148M1139.5 805.5H1148M1662 1223.75H1653.5M1662 1106.12H1653.5M1662 988.5H1653.5M1662 870.88H1653.5M1171.8 1235.4V1226.9M1278.47 1235.4V1226.9M1385.15 1235.4V1226.9M1491.83 1235.4V1226.9M1598.5 1235.4V1226.9" stroke="#000" stroke-width="1.7" fill="none"/>
<text x="1127" y="1224" text-anchor="end">0</text>
<text x="1127" y="1121.75" text-anchor="end">100</text>
<text x="1127" y="1019.5" text-anchor="end">200</text>
<text x="1127" y="917.25" text-anchor="end">300</text>
<text x="1127" y="815" text-anchor="end">400</text>
<text x="1674.5" y="1233.25">0</text>
<text x="1674.5" y="1115.62">50</text>
<text x="1674.5" y="998">100</text>
<text x="1674.5" y="880.38">150</text>
<text x="1674.5" y="762.75">200</text>
<text x="1171.8" y="1269.5" text-anchor="middle">0</text>
<text x="1278.47" y="1269.5" text-anchor="middle">50</text>
<text x="1385.15" y="1269.5" text-anchor="middle">100</text>
<text x="1491.83" y="1269.5" text-anchor="middle">150</text>
<text x="1598.5" y="1269.5" text-anchor="middle">200</text>
<path d="M1168.75 784.25h11.5v11.5h-11.5zM1174.25 931.25h11.5v11.5h-11.5zM1187.25 1009.25h11.5v11.5h-11.5zM1215 1052.25h11.5v11.5h-11.5zM1253 1075h11.5v11.5h-11.5zM1298.5 1093h11.5v11.5h-11.5zM1336.5 1124.5h11.5v11.5h-11.5zM1400.25 1149.25h11.5v11.5h-11.5zM1453.25 1159.25h11.5v11.5h-11.5zM1517.5 1169.25h11.5v11.5h-11.5zM1560 1171.75h11.5v11.5h-11.5z" fill="#000"/>
<path d="M1174.5 800L1174.97 805.63L1175.44 811.26L1175.92 816.9L1176.4 822.54L1176.9 828.19L1177.4 833.84L1177.92 839.5L1178.46 845.16L1179.02 850.83L1179.59 856.5L1180.19 862.17L1180.82 867.85L1181.47 873.53L1182.15 879.21L1182.87 884.89L1183.62 890.58L1184.41 896.26L1185.23 901.95L1186.1 907.64L1187.01 913.34L1187.97 919.03L1188.98 924.72L1190.04 930.41L1191.15 936.1L1192.31 941.78L1193.54 947.45L1194.82 953.11L1196.17 958.75L1197.58 964.38L1199.05 969.99L1200.6 975.58L1202.22 981.14L1203.91 986.68L1205.67 992.19L1207.52 997.67L1209.44 1003.11L1211.45 1008.52L1213.55 1013.88L1215.73 1019.2L1218 1024.47L1220.36 1029.69L1222.82 1034.84L1225.37 1039.93L1228.02 1044.95L1230.78 1049.9L1233.63 1054.77L1236.6 1059.56L1239.67 1064.26L1242.85 1068.86L1246.14 1073.37L1249.55 1077.77L1253.07 1082.07L1256.72 1086.25L1260.48 1090.32L1264.37 1094.26L1268.38 1098.09L1272.5 1101.8L1276.73 1105.39L1281.06 1108.87L1285.5 1112.23L1290.04 1115.47L1294.67 1118.6L1299.4 1121.61L1304.21 1124.51L1309.11 1127.3L1314.09 1129.97L1319.14 1132.54L1324.27 1134.99L1329.46 1137.33L1334.73 1139.56L1340.05 1141.69L1345.43 1143.71L1350.86 1145.63L1356.35 1147.45L1361.88 1149.17L1367.45 1150.81L1373.06 1152.36L1378.71 1153.83L1384.39 1155.23L1390.1 1156.55L1395.83 1157.8L1401.58 1158.99L1407.34 1160.11L1413.12 1161.18L1418.91 1162.2L1424.7 1163.17L1430.5 1164.09L1436.29 1164.97L1442.08 1165.82L1447.85 1166.63L1453.62 1167.42L1459.36 1168.18L1465.09 1168.92L1470.79 1169.63L1476.48 1170.33L1482.16 1171.01L1487.82 1171.67L1493.46 1172.32L1499.1 1172.95L1504.73 1173.56L1510.35 1174.15L1515.96 1174.73L1521.57 1175.3L1527.18 1175.85L1532.78 1176.39L1538.39 1176.92L1543.99 1177.44L1549.61 1177.94L1555.22 1178.44L1560.84 1178.93L1566.47 1179.4L1572.11 1179.87L1577.77 1180.34L1583.43 1180.79L1589.11 1181.24L1594.8 1181.69L1600.52 1182.13L1606.25 1182.57L1612 1183" stroke="#000" stroke-width="3.2" stroke-dasharray="9 3.5" fill="none"/>
<path d="M1197 810L1197.99 815.25L1199.01 820.53L1200.06 825.82L1201.14 831.13L1202.26 836.46L1203.41 841.8L1204.6 847.16L1205.82 852.54L1207.08 857.92L1208.37 863.31L1209.7 868.71L1211.07 874.12L1212.48 879.53L1213.92 884.95L1215.41 890.37L1216.93 895.79L1218.49 901.21L1220.1 906.63L1221.74 912.05L1223.43 917.45L1225.16 922.86L1226.93 928.25L1228.75 933.64L1230.6 939.01L1232.51 944.38L1234.45 949.72L1236.44 955.06L1238.48 960.37L1240.57 965.67L1242.7 970.95L1244.87 976.2L1247.1 981.44L1249.37 986.65L1251.7 991.83L1254.07 996.99L1256.49 1002.11L1258.96 1007.21L1261.48 1012.27L1264.06 1017.31L1266.68 1022.3L1269.36 1027.26L1272.09 1032.19L1274.87 1037.07L1277.71 1041.92L1280.6 1046.72L1283.55 1051.47L1286.55 1056.19L1289.61 1060.85L1292.72 1065.47L1295.9 1070.04L1299.12 1074.56L1302.41 1079.02L1305.76 1083.43L1309.16 1087.79L1312.62 1092.08L1316.15 1096.32L1319.73 1100.5L1323.38 1104.62L1327.08 1108.68L1330.85 1112.67L1334.68 1116.59L1338.58 1120.45L1342.54 1124.24L1346.56 1127.96L1350.64 1131.6L1354.8 1135.17L1359.01 1138.67L1363.3 1142.09L1367.65 1145.44L1372.06 1148.7L1376.55 1151.89L1381.09 1154.99L1385.71 1158.01L1390.38 1160.95L1395.11 1163.8L1399.9 1166.57L1404.74 1169.25L1409.64 1171.84L1414.59 1174.35L1419.58 1176.76L1424.63 1179.09L1429.72 1181.32L1434.86 1183.46L1440.04 1185.51L1445.25 1187.47L1450.51 1189.33L1455.8 1191.09L1461.13 1192.76L1466.49 1194.33L1471.88 1195.8L1477.3 1197.17L1482.75 1198.44L1488.22 1199.61L1493.72 1200.69L1499.24 1201.68L1504.78 1202.58L1510.33 1203.41L1515.9 1204.16L1521.49 1204.85L1527.09 1205.47L1532.69 1206.03L1538.31 1206.53L1543.93 1206.99L1549.56 1207.4L1555.19 1207.77L1560.82 1208.11L1566.45 1208.42L1572.08 1208.7L1577.7 1208.96L1583.32 1209.2L1588.92 1209.44L1594.52 1209.66L1600.1 1209.89L1605.68 1210.12L1611.23 1210.36L1616.77 1210.61L1622.28 1210.88L1627.78 1211.18L1633.25 1211.5" stroke="#ed1c24" stroke-width="3" fill="none"/>
<g fill="#ed1c24"><circle cx="1185.5" cy="799.5" r="7"/><circle cx="1194.5" cy="844.5" r="7"/><circle cx="1199.5" cy="875" r="7"/><circle cx="1220.75" cy="918" r="7"/><circle cx="1245.75" cy="960.5" r="7"/><circle cx="1272.5" cy="1003.75" r="7"/><circle cx="1296.25" cy="1047.5" r="7"/><circle cx="1334.25" cy="1093" r="7"/><circle cx="1370.5" cy="1130.4" r="7"/><circle cx="1396" cy="1160" r="7"/><circle cx="1446.5" cy="1196.25" r="7"/><circle cx="1474.5" cy="1205" r="7"/><circle cx="1516.75" cy="1211.75" r="7"/><circle cx="1578" cy="1212.5" r="7"/></g>
<rect x="1139.5" y="754.5" width="522.5" height="480.9" fill="none" stroke="#000" stroke-width="2"/>
<path d="M1154.5 1111.3L1176.5 1102V1120.6z" fill="#000"/><path d="M1176 1111.3H1260" stroke="#3c3c3c" stroke-width="3.4" stroke-dasharray="11 3.6"/>
<path d="M1615 1113.3L1594 1104.8V1121.8z" fill="#ed1c24"/><path d="M1367.5 1113.3H1595" stroke="#ed1c24" stroke-width="3" stroke-dasharray="7 2.6"/>
<text x="1511" y="838.75" text-anchor="end">SC</text>
<path d="M1545.75 810.25h11.5v11.5h-11.5z" fill="#000"/>
<path d="M1521.75 845.3H1578.75" stroke="#3c3c3c" stroke-width="3" stroke-dasharray="5.6 1.6"/>
<text x="1511" y="917.5" text-anchor="end" textLength="85.5" lengthAdjust="spacing">QDSM</text>
<g fill="#ed1c24"><circle cx="1552" cy="897.5" r="7"/></g>
<path d="M1521.75 923.8H1583.75" stroke="#ed1c24" stroke-width="3"/>
<text x="1025" y="730.5" font-size="41" font-weight="bold">h</text>
<text x="1264" y="740">SF</text>
<text x="1498" y="740">CESF</text>
<path d="M1330.5 732H1437" stroke="#000" stroke-width="1.6"/><path d="M1466.5 732L1434.5 723.5V740.5z" fill="#000"/>
<text transform="translate(1051 995) rotate(-90)" text-anchor="middle"><tspan font-style="italic">t</tspan><tspan dy="7" font-size="21">r</tspan><tspan dy="-7"> (ps)</tspan></text>
<text transform="translate(1763.5 995) rotate(-90)" text-anchor="middle"><tspan font-style="italic">t</tspan><tspan dy="7" font-size="21">r</tspan><tspan dy="-7"> (ps)</tspan></text>
<text x="1228" y="1317.8">Pumping density (µJ•cm<tspan dy="-11.5" font-size="20">−2</tspan><tspan dy="11.5">)</tspan></text>
</svg></body></html>
